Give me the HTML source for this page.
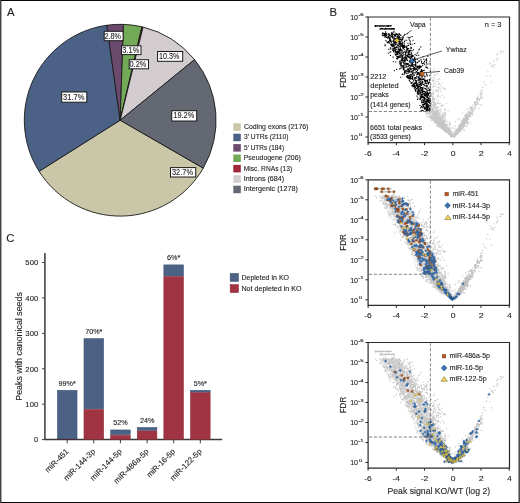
<!DOCTYPE html>
<html><head><meta charset="utf-8"><style>
html,body{margin:0;padding:0;background:#fff;}
svg{display:block;will-change:transform;}
text{font-family:"Liberation Sans",sans-serif;stroke:#231f20;stroke-width:0.12px;}
</style></head><body>
<svg width="520" height="503" viewBox="0 0 520 503">
<defs><path id="psig" d="M422.7 93.9h1.1M420.5 93.7h1.1M427.1 93.7h1.1M425.8 93.6h1.1M426.6 93.4h1.1M421.7 93.4h1.1M429.0 93.2h1.1M427.2 93.1h1.1M427.9 92.9h1.1M428.6 92.9h1.1M426.8 92.8h1.1M427.1 92.7h1.1M427.7 92.5h1.1M426.8 92.5h1.1M428.0 92.4h1.1M429.5 92.4h1.1M426.2 92.3h1.1M425.5 92.2h1.1M427.4 92.2h1.1M424.3 92.1h1.1M424.7 91.7h1.1M423.9 91.7h1.1M425.1 91.6h1.1M428.9 91.5h1.1M425.6 91.5h1.1M423.8 91.4h1.1M426.9 91.3h1.1M426.9 91.1h1.1M429.0 91.0h1.1M420.1 90.9h1.1M427.1 90.9h1.1M420.1 90.8h1.1M426.3 90.6h1.1M422.2 90.6h1.1M424.4 90.5h1.1M427.7 90.4h1.1M424.8 90.2h1.1M423.4 89.9h1.1M425.9 89.9h1.1M420.9 89.9h1.1M427.9 89.7h1.1M426.7 89.7h1.1M425.7 89.6h1.1M426.2 89.6h1.1M422.5 89.4h1.1M429.3 89.3h1.1M426.7 89.3h1.1M425.9 89.2h1.1M427.3 89.1h1.1M427.6 89.0h1.1M426.6 88.9h1.1M427.6 88.8h1.1M429.2 88.5h1.1M419.4 88.5h1.1M425.7 88.4h1.1M425.6 88.3h1.1M429.8 88.2h1.1M422.5 88.2h1.1M422.4 87.9h1.1M423.2 87.9h1.1M424.1 87.8h1.1M427.8 87.7h1.1M426.1 87.7h1.1M422.1 87.5h1.1M422.4 87.3h1.1M425.9 87.3h1.1M426.3 87.1h1.1M425.0 87.0h1.1M426.9 86.9h1.1M423.7 86.9h1.1M427.0 86.8h1.1M429.6 86.6h1.1M424.5 86.6h1.1M429.5 86.5h1.1M429.5 86.3h1.1M425.3 86.3h1.1M425.7 86.1h1.1M421.1 85.8h1.1M428.8 85.7h1.1M421.7 85.7h1.1M428.8 85.6h1.1M427.6 85.5h1.1M423.5 85.4h1.1M425.5 85.4h1.1M422.9 85.3h1.1M421.9 85.2h1.1M425.0 85.1h1.1M422.5 85.1h1.1M422.9 85.0h1.1M427.5 84.9h1.1M426.3 84.8h1.1M425.1 84.7h1.1M423.7 84.7h1.1M425.1 84.6h1.1M425.3 84.5h1.1M429.7 84.4h1.1M425.6 84.3h1.1M428.8 84.3h1.1M425.3 84.2h1.1M420.9 84.1h1.1M429.2 84.0h1.1M427.9 83.9h1.1M429.5 83.9h1.1M429.4 83.8h1.1M420.8 83.8h1.1M423.7 83.7h1.1M422.6 83.6h1.1M426.1 83.6h1.1M427.0 83.6h1.1M426.3 83.4h1.1M428.5 83.3h1.1M427.5 83.3h1.1M429.2 83.1h1.1M423.5 83.1h1.1M424.3 83.0h1.1M423.2 83.0h1.1M429.4 82.9h1.1M422.2 82.9h1.1M426.3 82.8h1.1M426.9 82.6h1.1M426.9 82.6h1.1M417.0 82.5h1.1M420.1 82.4h1.1M419.4 82.3h1.1M427.7 82.3h1.1M427.5 82.2h1.1M419.2 82.1h1.1M424.3 82.0h1.1M425.0 82.0h1.1M425.4 81.9h1.1M424.3 81.8h1.1M423.9 81.8h1.1M420.3 81.6h1.1M420.3 81.5h1.1M429.5 81.5h1.1M423.5 81.4h1.1M428.3 81.3h1.1M424.0 81.2h1.1M427.7 81.2h1.1M417.4 81.1h1.1M428.4 80.9h1.1M422.7 80.8h1.1M419.7 80.7h1.1M421.6 80.7h1.1M427.2 80.6h1.1M424.0 80.5h1.1M421.1 80.4h1.1M422.1 80.4h1.1M423.5 80.3h1.1M426.1 80.2h1.1M426.9 80.1h1.1M420.4 80.0h1.1M421.2 80.0h1.1M423.1 79.9h1.1M421.6 79.9h1.1M427.1 79.8h1.1M423.0 79.7h1.1M425.5 79.7h1.1M420.2 79.6h1.1M429.3 79.5h1.1M421.5 79.4h1.1M421.1 79.3h1.1M421.8 79.3h1.1M429.4 79.1h1.1M416.5 79.1h1.1M419.6 79.0h1.1M419.6 79.0h1.1M426.2 78.9h1.1M424.4 78.8h1.1M424.8 78.7h1.1M426.9 78.6h1.1M427.1 78.5h1.1M419.6 78.5h1.1M421.2 78.4h1.1M425.0 78.3h1.1M419.6 78.2h1.1M421.6 78.1h1.1M427.9 78.1h1.1M427.5 78.0h1.1M425.6 78.0h1.1M421.6 77.8h1.1M424.9 77.7h1.1M423.9 77.7h1.1M427.9 77.7h1.1M421.4 77.5h1.1M421.5 77.5h1.1M420.9 77.4h1.1M426.0 77.4h1.1M418.3 77.3h1.1M417.6 77.3h1.1M422.5 77.2h1.1M426.8 77.1h1.1M423.1 77.0h1.1M420.3 77.0h1.1M417.2 76.9h1.1M428.0 76.8h1.1M424.5 76.7h1.1M418.8 76.7h1.1M418.2 76.6h1.1M428.3 76.6h1.1M424.6 76.5h1.1M424.2 76.4h1.1M416.8 76.4h1.1M428.8 76.3h1.1M424.8 76.2h1.1M422.5 76.2h1.1M426.1 76.1h1.1M420.2 75.9h1.1M416.9 75.9h1.1M417.7 75.9h1.1M427.0 75.8h1.1M421.9 75.8h1.1M419.9 75.7h1.1M425.0 75.5h1.1M429.6 75.5h1.1M421.6 75.4h1.1M420.1 75.4h1.1M420.1 75.4h1.1M424.9 75.3h1.1M429.3 75.2h1.1M427.2 75.2h1.1M424.7 75.0h1.1M418.6 75.0h1.1M417.1 75.0h1.1M418.9 74.9h1.1M419.3 74.8h1.1M422.1 74.8h1.1M426.5 74.7h1.1M424.3 74.6h1.1M423.0 74.6h1.1M422.2 74.5h1.1M415.3 74.4h1.1M421.7 74.3h1.1M418.1 74.3h1.1M424.0 74.2h1.1M415.2 74.1h1.1M422.7 74.1h1.1M417.1 74.0h1.1M426.3 74.0h1.1M418.4 73.9h1.1M419.6 73.9h1.1M420.7 73.8h1.1M417.9 73.6h1.1M428.9 73.6h1.1M414.7 73.5h1.1M429.5 73.4h1.1M428.3 73.4h1.1M426.6 73.3h1.1M429.6 73.3h1.1M418.3 73.1h1.1M415.3 73.1h1.1M421.1 73.1h1.1M422.1 73.0h1.1M421.4 72.8h1.1M428.9 72.7h1.1M417.5 72.6h1.1M414.9 72.6h1.1M428.9 72.5h1.1M418.5 72.4h1.1M422.3 72.4h1.1M417.7 72.3h1.1M426.3 72.3h1.1M418.3 72.1h1.1M420.3 72.1h1.1M425.2 72.0h1.1M418.8 71.9h1.1M415.7 71.8h1.1M413.8 71.7h1.1M417.3 71.7h1.1M424.9 71.6h1.1M422.4 71.6h1.1M416.1 71.5h1.1M416.4 71.5h1.1M421.7 71.4h1.1M424.3 71.4h1.1M421.5 71.2h1.1M427.6 71.2h1.1M421.8 71.1h1.1M428.1 71.1h1.1M420.0 71.0h1.1M421.8 70.8h1.1M419.9 70.8h1.1M414.8 70.7h1.1M414.9 70.6h1.1M420.9 70.5h1.1M416.8 70.5h1.1M418.2 70.4h1.1M414.1 70.2h1.1M422.6 70.2h1.1M419.9 70.1h1.1M413.9 70.0h1.1M426.1 70.0h1.1M429.7 70.0h1.1M412.4 69.8h1.1M417.9 69.8h1.1M413.3 69.7h1.1M416.6 69.6h1.1M414.4 69.5h1.1M419.3 69.5h1.1M413.4 69.4h1.1M418.3 69.3h1.1M417.7 69.2h1.1M426.5 69.1h1.1M426.9 69.1h1.1M416.8 69.1h1.1M416.4 69.0h1.1M425.7 69.0h1.1M415.2 68.9h1.1M425.4 68.8h1.1M411.2 68.7h1.1M426.1 68.7h1.1M425.4 68.6h1.1M412.3 68.6h1.1M423.8 68.6h1.1M421.0 68.5h1.1M413.9 68.4h1.1M417.7 68.4h1.1M415.9 68.3h1.1M419.4 68.3h1.1M416.2 68.2h1.1M420.0 68.1h1.1M417.3 68.0h1.1M412.7 68.0h1.1M413.5 67.9h1.1M412.6 67.9h1.1M423.6 67.7h1.1M419.5 67.6h1.1M416.2 67.6h1.1M422.7 67.5h1.1M418.6 67.5h1.1M427.8 67.3h1.1M421.2 67.3h1.1M422.5 67.3h1.1M420.7 67.2h1.1M412.3 67.1h1.1M413.2 66.9h1.1M416.6 66.9h1.1M415.5 66.9h1.1M426.2 66.8h1.1M425.5 66.7h1.1M414.0 66.7h1.1M419.9 66.6h1.1M414.0 66.5h1.1M421.5 66.4h1.1M420.2 66.4h1.1M425.8 66.3h1.1M414.6 66.3h1.1M410.9 66.2h1.1M424.4 66.1h1.1M427.6 66.1h1.1M410.3 66.0h1.1M418.5 65.9h1.1M428.1 65.9h1.1M420.5 65.8h1.1M417.7 65.8h1.1M415.2 65.7h1.1M415.7 65.6h1.1M411.4 65.6h1.1M429.1 65.5h1.1M411.0 65.5h1.1M421.6 65.4h1.1M427.7 65.3h1.1M414.5 65.3h1.1M415.9 65.2h1.1M422.3 65.1h1.1M429.0 65.0h1.1M419.3 65.0h1.1M421.9 64.9h1.1M424.9 64.9h1.1M412.6 64.8h1.1M415.6 64.7h1.1M426.5 64.6h1.1M426.7 64.6h1.1M409.5 64.5h1.1M422.0 64.5h1.1M424.6 64.5h1.1M421.8 64.4h1.1M419.9 64.3h1.1M416.0 64.3h1.1M424.6 64.2h1.1M424.5 64.1h1.1M426.8 64.0h1.1M415.7 64.0h1.1M425.2 63.8h1.1M426.3 63.8h1.1M415.7 63.7h1.1M416.2 63.7h1.1M418.5 63.6h1.1M423.9 63.6h1.1M425.5 63.5h1.1M424.4 63.5h1.1M408.8 63.4h1.1M414.7 63.4h1.1M429.0 63.3h1.1M413.0 63.2h1.1M425.1 63.2h1.1M418.3 63.1h1.1M417.3 63.0h1.1M427.1 63.0h1.1M420.9 62.9h1.1M428.8 62.8h1.1M419.8 62.6h1.1M419.2 62.6h1.1M421.8 62.5h1.1M429.3 62.5h1.1M423.1 62.4h1.1M412.2 62.4h1.1M422.2 62.3h1.1M423.4 62.2h1.1M423.4 62.2h1.1M424.1 62.1h1.1M414.3 62.1h1.1M418.5 62.0h1.1M422.7 61.9h1.1M409.9 61.9h1.1M420.3 61.9h1.1M408.6 61.8h1.1M412.1 61.8h1.1M411.3 61.7h1.1M410.6 61.6h1.1M409.1 61.6h1.1M415.5 61.5h1.1M409.6 61.4h1.1M419.8 61.3h1.1M417.8 61.3h1.1M419.5 61.2h1.1M407.7 61.1h1.1M418.5 61.0h1.1M408.1 61.0h1.1M410.1 61.0h1.1M414.1 60.9h1.1M413.8 60.8h1.1M409.5 60.7h1.1M421.2 60.7h1.1M412.1 60.6h1.1M406.7 60.6h1.1M414.8 60.5h1.1M409.8 60.4h1.1M411.9 60.4h1.1M408.4 60.3h1.1M400.2 60.2h1.1M407.9 60.2h1.1M416.3 60.1h1.1M417.8 60.0h1.1M424.3 60.0h1.1M421.7 59.9h1.1M418.5 59.9h1.1M416.1 59.8h1.1M418.0 59.7h1.1M407.3 59.7h1.1M406.0 59.7h1.1M410.6 59.6h1.1M424.5 59.5h1.1M412.1 59.5h1.1M406.5 59.4h1.1M406.9 59.4h1.1M424.4 59.3h1.1M416.2 59.2h1.1M406.6 59.2h1.1M408.2 59.1h1.1M421.2 59.1h1.1M409.5 59.1h1.1M426.5 59.0h1.1M411.5 58.9h1.1M411.5 58.9h1.1M423.2 58.8h1.1M429.2 58.8h1.1M408.2 58.7h1.1M406.9 58.6h1.1M419.2 58.6h1.1M420.0 58.5h1.1M408.8 58.5h1.1M413.7 58.4h1.1M422.6 58.3h1.1M409.6 58.2h1.1M413.1 58.1h1.1M409.4 58.1h1.1M426.6 58.0h1.1M421.9 57.9h1.1M421.4 57.9h1.1M416.4 57.8h1.1M411.2 57.8h1.1M413.3 57.8h1.1M418.7 57.7h1.1M411.5 57.6h1.1M419.3 57.6h1.1M401.8 57.5h1.1M410.0 57.5h1.1M403.5 57.4h1.1M426.1 57.3h1.1M417.5 57.3h1.1M416.7 57.3h1.1M421.9 57.2h1.1M419.9 57.1h1.1M411.6 57.1h1.1M402.0 57.0h1.1M422.0 56.8h1.1M420.0 56.8h1.1M420.6 56.7h1.1M416.6 56.7h1.1M405.7 56.6h1.1M418.2 56.5h1.1M421.4 56.5h1.1M407.4 56.5h1.1M412.1 56.4h1.1M418.9 56.3h1.1M422.5 56.3h1.1M420.3 56.2h1.1M421.7 56.2h1.1M421.5 56.1h1.1M412.4 56.1h1.1M414.4 56.0h1.1M417.1 55.9h1.1M404.0 55.9h1.1M415.2 55.8h1.1M413.2 55.8h1.1M424.3 55.7h1.1M426.0 55.7h1.1M421.5 55.6h1.1M418.2 55.5h1.1M404.7 55.5h1.1M416.8 55.5h1.1M421.6 55.4h1.1M408.6 55.3h1.1M410.5 55.3h1.1M403.8 55.2h1.1M408.3 55.1h1.1M410.5 55.1h1.1M411.7 55.0h1.1M406.3 55.0h1.1M420.4 54.9h1.1M409.1 54.9h1.1M419.8 54.8h1.1M416.3 54.7h1.1M407.7 54.7h1.1M404.4 54.6h1.1M409.2 54.6h1.1M407.3 54.6h1.1M415.7 54.5h1.1M429.7 54.4h1.1M405.2 54.3h1.1M419.9 54.3h1.1M409.4 54.3h1.1M421.0 54.2h1.1M404.1 54.1h1.1M421.8 54.1h1.1M404.9 54.0h1.1M412.6 54.0h1.1M421.9 53.9h1.1M411.3 53.9h1.1M412.9 53.8h1.1M421.0 53.8h1.1M393.9 53.7h1.1M408.4 53.6h1.1M405.7 53.6h1.1M417.1 53.5h1.1M423.1 53.5h1.1M408.7 53.4h1.1M412.7 53.3h1.1M421.5 53.3h1.1M405.3 53.2h1.1M423.7 53.2h1.1M407.8 53.1h1.1M413.3 53.1h1.1M403.3 52.9h1.1M406.8 52.9h1.1M414.9 52.9h1.1M409.9 52.8h1.1M416.6 52.7h1.1M403.4 52.7h1.1M420.8 52.6h1.1M420.9 52.6h1.1M407.8 52.5h1.1M396.0 52.4h1.1M415.6 52.4h1.1M409.4 52.3h1.1M413.9 52.3h1.1M411.1 52.2h1.1M413.6 52.2h1.1M415.7 52.1h1.1M402.6 52.1h1.1M413.4 52.0h1.1M417.5 51.9h1.1M399.1 51.9h1.1M409.6 51.8h1.1M418.8 51.8h1.1M407.3 51.7h1.1M407.8 51.7h1.1M403.4 51.6h1.1M410.5 51.5h1.1M412.2 51.5h1.1M415.4 51.5h1.1M415.6 51.4h1.1M414.4 51.4h1.1M403.0 51.3h1.1M400.0 51.2h1.1M427.1 51.1h1.1M418.2 51.0h1.1M403.2 51.0h1.1M408.8 50.9h1.1M413.4 50.9h1.1M417.6 50.8h1.1M403.0 50.8h1.1M417.8 50.7h1.1M401.3 50.6h1.1M403.4 50.6h1.1M419.7 50.6h1.1M416.5 50.5h1.1M419.4 50.4h1.1M426.3 50.4h1.1M417.1 50.3h1.1M414.1 50.3h1.1M404.7 50.2h1.1M406.3 50.2h1.1M425.3 50.1h1.1M409.9 50.0h1.1M418.9 50.0h1.1M416.9 49.9h1.1M413.1 49.9h1.1M417.0 49.8h1.1M403.2 49.8h1.1M420.6 49.7h1.1M402.1 49.7h1.1M420.8 49.6h1.1M421.0 49.6h1.1M407.5 49.5h1.1M412.2 49.4h1.1M417.7 49.4h1.1M416.5 49.3h1.1M400.5 49.2h1.1M405.6 49.2h1.1M410.8 49.1h1.1M415.1 49.1h1.1M419.7 49.1h1.1M416.3 49.0h1.1M418.8 48.9h1.1M401.0 48.9h1.1M403.4 48.8h1.1M409.7 48.8h1.1M408.0 48.7h1.1M401.6 48.6h1.1M408.5 48.6h1.1M414.7 48.5h1.1M400.4 48.5h1.1M422.1 48.4h1.1M405.3 48.3h1.1M400.7 48.3h1.1M403.0 48.2h1.1M412.4 48.2h1.1M400.2 48.1h1.1M405.3 48.1h1.1M410.9 48.0h1.1M425.7 48.0h1.1M414.4 47.9h1.1M411.5 47.9h1.1M406.7 47.8h1.1M409.3 47.7h1.1M413.4 47.7h1.1M415.1 47.6h1.1M407.5 47.5h1.1M414.9 47.5h1.1M412.0 47.4h1.1M400.2 47.4h1.1M411.3 47.3h1.1M415.2 47.3h1.1M403.8 47.2h1.1M400.5 47.1h1.1M423.9 47.1h1.1M427.4 47.0h1.1M405.5 47.0h1.1M412.0 46.9h1.1M399.3 46.9h1.1M429.5 46.8h1.1M407.1 46.8h1.1M407.9 46.7h1.1M400.6 46.7h1.1M406.5 46.6h1.1M405.3 46.6h1.1M422.1 46.5h1.1M403.5 46.4h1.1M411.9 46.4h1.1M403.3 46.3h1.1M406.7 46.3h1.1M415.3 46.2h1.1M411.4 46.2h1.1M423.0 46.1h1.1M404.7 46.0h1.1M426.0 46.0h1.1M410.2 46.0h1.1M421.0 45.9h1.1M411.7 45.8h1.1M399.8 45.8h1.1M399.9 45.7h1.1M401.0 45.7h1.1M417.1 45.6h1.1M409.3 45.5h1.1M416.7 45.5h1.1M411.2 45.4h1.1M425.8 45.4h1.1M399.1 45.3h1.1M412.4 45.3h1.1M414.9 45.2h1.1M409.3 45.2h1.1M402.4 45.1h1.1M395.1 45.0h1.1M412.9 45.0h1.1M403.3 44.9h1.1M412.0 44.9h1.1M429.4 44.8h1.1M399.3 44.8h1.1M399.4 44.7h1.1M392.8 44.7h1.1M424.0 44.6h1.1M421.1 44.5h1.1M409.1 44.5h1.1M399.3 44.4h1.1M404.5 44.4h1.1M417.8 44.3h1.1M408.9 44.3h1.1M415.0 44.2h1.1M409.2 44.1h1.1M418.8 44.1h1.1M410.4 44.0h1.1M399.5 44.0h1.1M414.4 43.9h1.1M400.8 43.9h1.1M426.2 43.8h1.1M413.4 43.8h1.1M403.8 43.7h1.1M409.5 43.6h1.1M401.8 43.6h1.1M412.5 43.5h1.1M407.1 43.5h1.1M403.4 43.4h1.1M405.1 43.3h1.1M424.6 43.3h1.1M412.9 43.2h1.1M402.7 43.2h1.1M400.6 43.1h1.1M403.9 43.1h1.1M413.3 43.0h1.1M406.3 42.9h1.1M420.6 42.9h1.1M420.3 42.9h1.1M409.9 42.8h1.1M411.0 42.7h1.1M425.9 42.6h1.1M401.6 42.6h1.1M416.6 42.5h1.1M404.4 42.5h1.1M414.9 42.4h1.1M414.6 42.4h1.1M406.4 42.4h1.1M413.2 42.3h1.1M423.2 42.2h1.1M414.2 42.1h1.1M411.5 42.1h1.1M412.1 42.1h1.1M396.8 42.0h1.1M404.7 41.9h1.1M414.3 41.9h1.1M396.1 41.8h1.1M406.0 41.8h1.1M425.9 41.7h1.1M396.7 41.7h1.1M402.7 41.6h1.1M402.0 41.6h1.1M405.6 41.5h1.1M409.9 41.4h1.1M414.0 41.4h1.1M401.1 41.3h1.1M404.4 41.3h1.1M402.4 41.2h1.1M406.2 41.1h1.1M406.2 41.1h1.1M396.4 41.0h1.1M414.0 41.0h1.1M397.4 40.9h1.1M409.0 40.9h1.1M403.5 40.8h1.1M406.0 40.8h1.1M400.5 40.7h1.1M398.6 40.6h1.1M397.3 40.6h1.1M410.8 40.5h1.1M408.2 40.5h1.1M403.8 40.4h1.1M405.3 40.4h1.1M398.4 40.3h1.1M414.2 40.3h1.1M410.9 40.2h1.1M402.0 40.2h1.1M392.6 40.1h1.1M408.5 40.0h1.1M411.1 40.0h1.1M399.4 39.9h1.1M407.1 39.8h1.1M412.0 39.8h1.1M410.2 39.8h1.1M422.5 39.7h1.1M398.3 39.6h1.1M401.6 39.6h1.1M398.1 39.5h1.1M396.3 39.5h1.1M397.2 39.4h1.1M406.5 39.4h1.1M408.0 39.3h1.1M404.8 39.2h1.1M400.3 39.2h1.1M409.5 39.1h1.1M427.3 39.1h1.1M411.0 39.0h1.1M413.0 39.0h1.1M411.4 38.9h1.1M402.2 38.9h1.1M412.4 38.8h1.1M406.8 38.7h1.1M407.1 38.7h1.1M407.1 38.6h1.1M402.3 38.6h1.1M416.1 38.5h1.1M389.9 38.5h1.1M411.8 38.4h1.1M405.6 38.4h1.1M418.1 38.3h1.1M398.7 38.2h1.1M400.1 38.2h1.1M400.5 38.1h1.1M395.5 38.1h1.1M395.0 38.0h1.1M401.3 37.9h1.1M405.1 37.9h1.1M408.6 37.8h1.1M410.8 37.8h1.1M410.3 37.8h1.1M414.6 37.6h1.1M403.3 37.6h1.1M407.5 37.6h1.1M409.2 37.5h1.1M396.8 37.4h1.1M407.5 37.4h1.1M395.0 37.4h1.1M400.4 37.3h1.1M396.1 37.2h1.1M394.6 37.1h1.1M394.7 37.1h1.1M407.6 37.1h1.1M405.0 37.0h1.1M397.5 36.9h1.1M397.5 36.9h1.1M416.5 36.8h1.1M405.1 36.8h1.1M408.8 36.7h1.1M408.4 36.7h1.1M399.0 36.6h1.1M397.1 36.6h1.1M411.2 36.5h1.1M396.9 36.4h1.1M398.9 36.4h1.1M396.4 36.3h1.1M399.5 36.3h1.1M399.4 36.2h1.1M387.8 36.2h1.1M407.6 36.1h1.1M401.8 36.1h1.1M402.4 36.0h1.1M399.4 35.9h1.1M410.7 35.9h1.1M398.7 35.8h1.1M395.7 35.8h1.1M400.8 35.7h1.1M403.1 35.6h1.1M405.5 35.6h1.1M398.2 35.6h1.1M404.6 35.5h1.1M408.2 35.4h1.1M403.0 35.4h1.1M397.1 35.3h1.1M417.3 35.2h1.1M408.4 35.2h1.1M389.4 35.2h1.1M394.8 35.1h1.1M409.3 35.0h1.1M395.9 34.9h1.1M406.4 34.9h1.1M393.2 34.9h1.1M396.5 34.8h1.1M394.9 34.7h1.1M390.1 34.7h1.1M396.6 34.6h1.1M404.4 34.6h1.1M409.0 34.6h1.1M397.2 34.5h1.1M398.3 34.4h1.1M399.4 34.3h1.1M401.7 34.3h1.1M399.1 34.3h1.1M405.8 34.2h1.1M407.8 34.1h1.1M397.2 34.1h1.1M408.7 34.0h1.1M401.1 34.0h1.1M394.6 33.9h1.1M408.7 33.8h1.1M410.7 33.8h1.1M411.6 33.8h1.1M393.0 33.7h1.1M399.8 33.6h1.1M409.0 33.6h1.1M392.8 33.5h1.1M405.6 33.5h1.1M393.4 33.4h1.1M409.5 33.4h1.1M395.0 33.3h1.1M398.9 33.2h1.1M409.7 33.2h1.1M401.6 33.1h1.1M392.1 33.1h1.1M407.1 33.0h1.1M418.5 33.0h1.1M399.2 32.9h1.1M396.3 32.8h1.1M400.6 32.8h1.1M413.0 32.7h1.1M406.1 32.7h1.1M403.7 32.6h1.1M398.1 32.6h1.1M393.2 32.5h1.1M388.3 32.4h1.1M400.1 32.4h1.1M398.9 32.4h1.1M395.7 32.3h1.1M407.2 32.2h1.1M406.6 32.2h1.1M406.7 32.1h1.1M390.3 32.0h1.1M418.7 32.0h1.1M399.9 31.9h1.1M393.8 31.9h1.1M394.8 31.8h1.1M394.4 31.8h1.1M408.2 31.7h1.1M392.2 31.7h1.1M399.8 31.6h1.1M410.4 31.5h1.1M407.4 31.5h1.1M407.2 31.5h1.1M403.1 31.4h1.1M410.6 31.3h1.1M394.0 31.2h1.1M393.2 31.2h1.1M397.9 31.1h1.1M406.1 31.1h1.1M394.0 31.0h1.1M411.0 31.0h1.1M390.1 30.9h1.1M402.1 30.9h1.1M394.3 30.8h1.1M410.7 30.8h1.1M397.0 30.7h1.1M394.5 30.7h1.1M394.6 30.6h1.1M396.0 30.5h1.1M406.2 30.5h1.1M403.9 30.4h1.1M410.3 30.3h1.1M399.9 30.3h1.1M405.9 30.2h1.1M403.2 30.2h1.1M395.4 30.2h1.1M405.4 30.1h1.1M402.1 30.0h1.1M396.0 30.0h1.1M420.3 29.9h1.1M399.2 29.9h1.1M406.3 29.8h1.1M393.4 29.8h1.1M392.0 29.7h1.1M402.7 29.6h1.1M399.2 29.6h1.1M391.7 29.5h1.1M396.4 29.5h1.1M393.5 29.4h1.1M401.0 29.4h1.1M393.2 29.3h1.1M403.8 29.2h1.1M401.9 29.2h1.1M404.4 29.1h1.1M393.1 29.1h1.1M400.8 29.0h1.1M398.0 28.9h1.1M402.4 28.9h1.1M391.1 28.8h1.1M406.6 28.8h1.1M400.6 28.7h1.1M399.5 28.7h1.1M402.8 28.6h1.1M384.6 28.6h1.1M392.4 28.5h1.1M397.2 28.5h1.1M408.0 28.4h1.1M402.0 28.3h1.1M393.5 28.3h1.1M390.5 28.2h1.1M402.2 28.2h1.1M391.8 28.1h1.1M403.7 28.1h1.1M394.7 28.0h1.1M400.6 27.9h1.1M384.5 27.9h1.1M397.0 27.9h1.1M397.6 27.8h1.1M391.3 27.7h1.1M400.8 27.7h1.1M393.2 27.6h1.1M402.1 27.6h1.1M394.9 27.5h1.1M409.9 27.4h1.1M399.2 27.4h1.1M395.6 27.3h1.1M399.8 27.3h1.1M411.6 27.2h1.1M392.7 27.1h1.1M390.3 27.1h1.1M391.5 27.0h1.1M395.6 27.0h1.1M401.7 26.9h1.1M399.6 26.9h1.1M393.8 26.8h1.1M399.1 26.8h1.1M409.5 26.7h1.1M399.2 26.7h1.1M398.8 26.6h1.1M414.1 26.5h1.1M395.4 26.5h1.1M399.4 26.5h1.1M400.6 26.4h1.1M398.2 26.3h1.1M403.7 26.3h1.1M407.4 26.2h1.1M400.1 26.2h1.1M388.6 26.1h1.1M399.8 26.0h1.1M394.5 26.0h1.1M388.8 25.9h1.1M395.1 25.8h1.1M396.0 25.8h1.1M402.2 25.8h1.1M394.3 25.7h1.1M396.2 25.7h1.1M386.9 25.6h1.1M393.6 25.5h1.1M394.4 25.5h1.1M390.7 25.4h1.1M399.6 25.4h1.1M398.7 25.3h1.1M387.7 25.2h1.1M393.1 25.2h1.1M393.9 25.1h1.1M393.0 25.1h1.1M401.7 25.0h1.1M409.6 25.0h1.1M394.8 24.9h1.1M409.7 24.9h1.1M398.8 24.8h1.1M386.3 24.8h1.1M395.5 24.7h1.1M403.9 24.6h1.1M387.9 24.6h1.1M389.8 24.5h1.1M396.9 24.4h1.1M396.1 24.4h1.1M399.8 24.3h1.1M392.8 24.3h1.1M398.0 24.2h1.1M396.1 24.2h1.1M391.4 24.1h1.1M400.6 24.0h1.1M399.0 24.0h1.1M395.1 24.0h1.1M388.9 23.9h1.1M389.5 23.8h1.1M397.5 23.8h1.1M389.9 23.7h1.1M388.9 23.7h1.1M393.3 23.6h1.1M390.1 23.6h1.1M409.3 23.5h1.1M385.3 23.5h1.1M398.0 23.4h1.1M404.5 23.3h1.1M406.1 23.3h1.1M412.5 23.2h1.1M401.4 23.2h1.1M393.3 23.1h1.1M390.1 23.1h1.1M398.3 23.0h1.1M393.8 23.0h1.1M389.2 22.9h1.1M390.0 22.8h1.1M395.2 22.8h1.1M401.0 22.7h1.1M402.1 22.6h1.1M389.7 22.6h1.1M398.0 22.6h1.1M399.2 22.5h1.1M400.2 22.4h1.1M395.8 22.4h1.1M396.1 22.3h1.1M400.6 22.3h1.1M397.6 22.2h1.1M393.3 22.1h1.1M408.6 22.1h1.1M401.9 22.1h1.1M401.9 22.0h1.1M389.3 21.9h1.1M397.5 21.9h1.1M397.0 21.8h1.1M395.8 21.7h1.1M393.7 21.7h1.1M388.8 21.7h1.1M395.2 21.6h1.1M389.2 21.5h1.1M395.5 21.5h1.1M397.7 21.4h1.1M397.3 21.4h1.1M399.4 21.3h1.1M387.4 21.3h1.1M397.2 21.2h1.1M392.3 21.1h1.1M389.5 21.1h1.1M393.8 21.0h1.1M387.0 21.0h1.1M402.9 20.9h1.1M398.3 20.9h1.1M393.6 20.8h1.1M389.3 20.7h1.1M401.9 20.7h1.1M408.6 20.6h1.1M389.0 20.6h1.1M399.1 20.5h1.1M386.0 20.5h1.1M392.1 20.4h1.1M384.4 20.3h1.1M407.4 20.3h1.1M410.1 20.3h1.1M397.3 20.2h1.1M388.0 20.1h1.1M387.5 20.1h1.1M395.7 20.0h1.1M398.5 19.9h1.1M392.1 19.9h1.1M390.3 19.9h1.1M396.9 19.8h1.1M387.5 19.7h1.1M398.4 19.7h1.1M385.4 19.6h1.1M391.1 19.6h1.1M398.8 19.5h1.1M411.6 19.5h1.1M388.4 19.4h1.1M387.8 19.4h1.1M394.3 19.3h1.1M394.4 19.2h1.1M392.4 19.2h1.1M385.5 19.1h1.1M393.8 19.0h1.1M385.4 19.0h1.1M396.9 18.9h1.1M384.6 18.9h1.1M384.0 18.9h1.1M391.7 18.8h1.1M384.4 18.7h1.1M403.4 18.7h1.1M382.4 18.6h1.1M398.1 18.6h1.1M394.0 18.5h1.1M386.0 18.5h1.1M400.3 18.4h1.1M388.5 18.3h1.1M389.3 18.3h1.1M381.9 18.2h1.1M395.0 18.2h1.1M384.3 18.1h1.1M384.4 18.1h1.1M395.1 18.0h1.1M383.5 17.9h1.1M390.7 17.9h1.1M399.3 17.8h1.1M391.4 17.7h1.1M391.6 17.7h1.1M388.5 17.6h1.1M385.2 17.6h1.1M393.1 17.5h1.1M395.2 17.5h1.1M396.8 17.4h1.1M391.3 17.4h1.1M404.1 17.3h1.1M384.7 17.2h1.1M390.8 17.2h1.1M387.5 17.2h1.1M398.1 17.1h1.1M391.5 17.1h1.1M395.6 17.0h1.1M381.8 16.9h1.1M384.1 16.9h1.1M407.1 16.8h1.1M396.3 16.7h1.1M390.9 16.7h1.1M399.0 16.7h1.1M388.4 16.6h1.1M391.9 16.5h1.1M383.8 16.5h1.1M383.0 16.4h1.1M385.3 16.4h1.1M385.1 16.3h1.1M385.6 16.3h1.1M391.7 16.2h1.1M391.3 16.1h1.1M382.2 16.1h1.1M394.5 16.0h1.1M426.5 87.6h1.1M421.0 89.2h1.1M427.1 76.1h1.1M424.2 91.8h1.1M423.7 78.6h1.1M427.7 90.2h1.1M423.0 89.2h1.1M390.4 8.9h1.1M379.0 8.8h1.1M375.7 8.7h1.1M379.4 9.1h1.1M386.7 9.2h1.1M388.8 8.8h1.1M382.4 8.7h1.1M375.0 8.8h1.1M378.6 9.0h1.1M387.9 9.3h1.1M389.8 9.1h1.1M380.2 8.7h1.1M388.4 8.7h1.1M387.1 9.0h1.1M381.8 8.7h1.1M381.3 9.0h1.1M386.9 9.1h1.1M376.6 8.9h1.1M377.3 9.1h1.1M377.4 8.7h1.1M379.0 9.1h1.1M387.8 8.9h1.1M387.4 8.6h1.1M377.4 8.9h1.1M374.9 9.1h1.1M390.2 8.7h1.1M388.5 8.8h1.1M375.0 8.6h1.1M378.6 8.9h1.1M380.6 8.8h1.1M374.5 8.9h1.1M379.1 8.8h1.1M385.8 8.9h1.1M384.8 9.0h1.1M383.5 9.2h1.1M375.0 9.1h1.1M383.6 9.0h1.1M382.8 8.8h1.1M384.3 8.8h1.1M387.6 9.0h1.1M374.6 8.7h1.1M390.2 8.5h1.1M387.3 9.0h1.1M381.3 8.8h1.1M380.0 8.8h1.1M381.0 8.8h1.1M383.0 8.9h1.1M387.6 9.5h1.1M381.9 8.7h1.1M374.6 9.4h1.1M380.5 9.3h1.1M390.3 8.9h1.1M379.5 8.7h1.1M377.1 8.8h1.1M382.6 9.2h1.1M377.3 9.2h1.1M386.1 8.9h1.1M375.4 9.3h1.1M387.9 8.6h1.1M390.5 8.5h1.1M392.5 11.9h1.1M388.8 12.0h1.1M384.7 11.9h1.1M380.8 11.4h1.1M383.9 12.1h1.1M391.0 12.1h1.1M381.3 11.8h1.1M382.1 12.0h1.1M392.3 11.7h1.1M385.3 11.4h1.1M387.9 11.7h1.1M379.5 12.1h1.1M388.0 11.9h1.1M393.3 12.0h1.1M393.8 12.2h1.1M382.3 11.7h1.1M388.9 11.6h1.1M386.5 11.8h1.1M392.6 11.5h1.1M384.7 12.1h1.1M379.7 11.9h1.1M384.6 12.2h1.1M391.7 11.9h1.1M381.3 11.6h1.1M379.8 11.9h1.1M387.3 12.0h1.1M385.5 11.7h1.1M385.0 11.6h1.1M389.6 11.9h1.1M392.1 11.9h1.1M382.1 11.6h1.1M391.6 11.8h1.1M391.3 11.6h1.1M390.4 12.1h1.1M391.8 11.9h1.1M391.0 12.0h1.1M382.5 12.3h1.1M386.3 12.2h1.1M387.6 11.8h1.1M393.9 11.7h1.1M389.5 12.0h1.1M392.2 12.0h1.1M380.9 11.6h1.1M379.5 12.1h1.1M382.4 11.8h1.1M393.5 12.2h1.1M386.4 12.3h1.1M384.1 11.9h1.1M390.0 11.9h1.1M383.8 12.1h1.1M380.1 12.3h1.1M392.9 11.8h1.1M391.4 12.1h1.1M391.4 11.5h1.1M385.5 11.8h1.1M386.2 17.2h1.1M389.5 18.4h1.1M394.2 17.7h1.1M392.7 15.3h1.1M385.0 14.9h1.1M395.7 17.8h1.1M394.4 18.9h1.1M391.9 16.9h1.1M391.0 15.8h1.1M382.6 18.6h1.1M393.5 14.3h1.1M391.9 17.0h1.1M390.8 19.5h1.1M392.1 16.5h1.1M383.9 18.7h1.1"/><path id="pnon" d="M451.7 120.0h1.1M452.2 119.9h1.1M452.1 119.8h1.1M452.1 119.8h1.1M452.6 119.8h1.1M452.2 119.7h1.1M452.4 119.7h1.1M452.2 119.6h1.1M451.4 119.5h1.1M451.9 119.5h1.1M451.6 119.4h1.1M451.3 119.4h1.1M451.1 119.3h1.1M451.3 119.2h1.1M451.9 119.2h1.1M451.7 119.1h1.1M451.8 119.0h1.1M451.1 119.0h1.1M452.2 119.0h1.1M452.0 118.9h1.1M451.6 118.9h1.1M451.1 118.8h1.1M451.9 118.7h1.1M450.2 118.7h1.1M450.5 118.6h1.1M450.8 118.6h1.1M451.7 118.5h1.1M450.2 118.4h1.1M451.1 118.4h1.1M450.8 118.3h1.1M449.8 118.3h1.1M451.3 118.2h1.1M451.2 118.2h1.1M450.0 118.1h1.1M449.9 118.0h1.1M450.2 118.0h1.1M450.3 118.0h1.1M449.4 117.9h1.1M451.0 117.8h1.1M450.5 117.8h1.1M450.4 117.7h1.1M449.7 117.6h1.1M450.7 117.6h1.1M449.0 117.5h1.1M450.6 117.5h1.1M449.0 117.4h1.1M450.4 117.4h1.1M448.9 117.3h1.1M449.1 117.3h1.1M450.5 117.2h1.1M448.7 117.2h1.1M451.4 117.1h1.1M448.9 117.1h1.1M449.4 117.0h1.1M450.2 116.9h1.1M448.0 116.9h1.1M449.3 116.8h1.1M449.2 116.8h1.1M448.1 116.7h1.1M448.5 116.7h1.1M449.5 116.6h1.1M447.9 116.5h1.1M449.3 116.5h1.1M449.4 116.4h1.1M448.9 116.4h1.1M447.6 116.3h1.1M449.3 116.3h1.1M448.7 116.2h1.1M448.3 116.1h1.1M448.9 116.1h1.1M447.8 116.0h1.1M448.8 116.0h1.1M449.3 115.9h1.1M449.6 115.9h1.1M449.4 115.8h1.1M448.7 115.7h1.1M451.2 115.7h1.1M448.3 115.6h1.1M448.8 115.6h1.1M449.3 115.6h1.1M447.8 115.5h1.1M450.1 115.4h1.1M447.5 115.4h1.1M447.0 115.3h1.1M447.4 115.2h1.1M448.6 115.2h1.1M445.1 115.1h1.1M445.9 115.1h1.1M450.3 115.0h1.1M446.7 115.0h1.1M446.5 114.9h1.1M445.6 114.8h1.1M449.4 114.8h1.1M446.2 114.7h1.1M447.6 114.7h1.1M446.5 114.6h1.1M448.5 114.6h1.1M448.2 114.5h1.1M447.1 114.5h1.1M447.5 114.4h1.1M447.6 114.3h1.1M446.1 114.3h1.1M448.7 114.2h1.1M450.2 114.2h1.1M445.0 114.1h1.1M447.2 114.1h1.1M447.9 114.0h1.1M444.7 113.9h1.1M445.3 113.9h1.1M447.5 113.8h1.1M444.3 113.8h1.1M445.8 113.7h1.1M447.4 113.7h1.1M450.0 113.6h1.1M444.0 113.6h1.1M446.3 113.5h1.1M448.7 113.4h1.1M445.5 113.4h1.1M444.9 113.3h1.1M444.6 113.3h1.1M446.0 113.3h1.1M446.6 113.2h1.1M447.5 113.1h1.1M447.2 113.1h1.1M446.2 113.0h1.1M445.0 113.0h1.1M446.0 112.9h1.1M445.5 112.8h1.1M444.1 112.8h1.1M447.4 112.7h1.1M442.8 112.6h1.1M445.2 112.6h1.1M444.5 112.6h1.1M446.0 112.5h1.1M445.5 112.4h1.1M445.7 112.4h1.1M449.0 112.3h1.1M442.0 112.3h1.1M444.5 112.2h1.1M443.7 112.1h1.1M442.5 112.1h1.1M444.1 112.0h1.1M444.2 112.0h1.1M446.2 111.9h1.1M443.8 111.9h1.1M444.6 111.8h1.1M442.9 111.8h1.1M442.7 111.7h1.1M444.8 111.7h1.1M442.9 111.6h1.1M444.8 111.6h1.1M442.9 111.5h1.1M445.9 111.4h1.1M443.1 111.4h1.1M444.9 111.3h1.1M441.5 111.2h1.1M447.8 111.2h1.1M445.9 111.2h1.1M445.2 111.1h1.1M443.4 111.1h1.1M445.7 111.0h1.1M443.7 110.9h1.1M443.0 110.8h1.1M446.1 110.8h1.1M442.8 110.7h1.1M444.8 110.7h1.1M445.0 110.6h1.1M442.8 110.6h1.1M442.6 110.5h1.1M442.6 110.4h1.1M440.7 110.4h1.1M444.8 110.4h1.1M442.9 110.3h1.1M438.9 110.3h1.1M446.8 110.2h1.1M443.2 110.1h1.1M442.5 110.1h1.1M441.1 110.0h1.1M441.8 110.0h1.1M442.9 109.9h1.1M444.4 109.8h1.1M445.0 109.8h1.1M442.7 109.7h1.1M444.3 109.7h1.1M439.3 109.6h1.1M441.0 109.6h1.1M442.5 109.5h1.1M445.2 109.5h1.1M439.6 109.4h1.1M442.3 109.4h1.1M443.5 109.3h1.1M435.8 109.2h1.1M437.0 109.2h1.1M441.1 109.1h1.1M444.4 109.1h1.1M439.0 109.0h1.1M441.7 109.0h1.1M438.7 108.9h1.1M445.7 108.8h1.1M441.4 108.8h1.1M441.7 108.7h1.1M444.1 108.7h1.1M442.6 108.6h1.1M440.2 108.6h1.1M444.1 108.5h1.1M439.7 108.5h1.1M441.8 108.4h1.1M438.5 108.3h1.1M442.7 108.3h1.1M441.1 108.2h1.1M437.7 108.2h1.1M441.9 108.1h1.1M444.2 108.1h1.1M443.1 108.0h1.1M443.7 107.9h1.1M447.3 107.9h1.1M445.0 107.8h1.1M443.9 107.8h1.1M441.3 107.7h1.1M441.3 107.6h1.1M439.8 107.6h1.1M444.0 107.6h1.1M442.1 107.5h1.1M439.0 107.4h1.1M449.3 107.4h1.1M445.6 107.3h1.1M440.4 107.3h1.1M440.0 107.2h1.1M441.7 107.1h1.1M437.6 107.1h1.1M437.0 107.1h1.1M440.0 107.0h1.1M437.0 106.9h1.1M442.1 106.9h1.1M442.5 106.8h1.1M436.4 106.8h1.1M441.9 106.7h1.1M441.1 106.7h1.1M435.4 106.6h1.1M442.4 106.5h1.1M435.8 106.5h1.1M440.3 106.4h1.1M449.0 106.4h1.1M443.4 106.3h1.1M437.3 106.3h1.1M438.2 106.2h1.1M441.1 106.2h1.1M443.1 106.1h1.1M442.5 106.0h1.1M437.2 106.0h1.1M440.2 105.9h1.1M435.9 105.9h1.1M436.3 105.8h1.1M438.5 105.8h1.1M444.5 105.7h1.1M442.9 105.6h1.1M440.8 105.6h1.1M441.0 105.5h1.1M441.5 105.5h1.1M436.4 105.4h1.1M442.2 105.4h1.1M434.6 105.3h1.1M442.3 105.3h1.1M434.8 105.2h1.1M441.9 105.2h1.1M440.1 105.1h1.1M437.8 105.0h1.1M438.0 105.0h1.1M436.6 104.9h1.1M439.1 104.8h1.1M436.2 104.8h1.1M448.8 104.8h1.1M439.3 104.7h1.1M434.1 104.6h1.1M439.0 104.6h1.1M442.3 104.5h1.1M438.0 104.5h1.1M444.3 104.4h1.1M441.5 104.3h1.1M434.8 104.3h1.1M439.8 104.2h1.1M433.6 104.2h1.1M436.8 104.1h1.1M433.8 104.1h1.1M437.0 104.0h1.1M441.0 104.0h1.1M441.0 103.9h1.1M438.5 103.8h1.1M438.9 103.8h1.1M435.0 103.7h1.1M443.5 103.7h1.1M439.5 103.6h1.1M435.9 103.5h1.1M444.2 103.5h1.1M440.7 103.4h1.1M435.4 103.4h1.1M445.5 103.3h1.1M430.9 103.3h1.1M445.0 103.2h1.1M439.3 103.2h1.1M434.1 103.1h1.1M434.3 103.1h1.1M435.9 103.0h1.1M437.9 102.9h1.1M433.6 102.9h1.1M434.3 102.8h1.1M440.8 102.8h1.1M432.9 102.7h1.1M441.1 102.7h1.1M437.8 102.6h1.1M435.3 102.5h1.1M439.3 102.5h1.1M436.1 102.4h1.1M441.6 102.4h1.1M433.8 102.3h1.1M433.3 102.2h1.1M442.3 102.2h1.1M444.6 102.2h1.1M435.3 102.1h1.1M432.5 102.0h1.1M431.1 102.0h1.1M430.6 101.9h1.1M438.5 101.9h1.1M430.9 101.8h1.1M434.8 101.7h1.1M439.6 101.7h1.1M432.6 101.7h1.1M436.1 101.6h1.1M431.6 101.6h1.1M432.0 101.5h1.1M437.2 101.4h1.1M441.7 101.4h1.1M438.0 101.3h1.1M436.9 101.3h1.1M439.1 101.2h1.1M431.7 101.2h1.1M436.0 101.1h1.1M432.8 101.1h1.1M440.5 101.0h1.1M443.1 100.9h1.1M429.6 100.9h1.1M434.0 100.8h1.1M432.9 100.7h1.1M434.4 100.7h1.1M439.0 100.7h1.1M439.8 100.5h1.1M440.3 100.5h1.1M435.4 100.4h1.1M438.0 100.4h1.1M431.1 100.4h1.1M441.8 100.3h1.1M434.2 100.3h1.1M433.5 100.2h1.1M433.9 100.1h1.1M441.1 100.1h1.1M431.8 100.0h1.1M430.7 99.9h1.1M436.6 99.9h1.1M437.1 99.9h1.1M432.7 99.8h1.1M434.5 99.7h1.1M437.6 99.7h1.1M431.7 99.6h1.1M435.1 99.6h1.1M432.9 99.5h1.1M438.9 99.5h1.1M433.2 99.4h1.1M426.2 99.3h1.1M429.1 99.3h1.1M430.1 99.2h1.1M441.3 99.2h1.1M429.0 99.1h1.1M428.9 99.0h1.1M436.2 99.0h1.1M429.7 99.0h1.1M429.6 98.9h1.1M442.5 98.9h1.1M431.5 98.8h1.1M436.6 98.7h1.1M436.3 98.6h1.1M445.0 98.6h1.1M431.2 98.6h1.1M436.1 98.5h1.1M429.8 98.5h1.1M431.5 98.4h1.1M431.6 98.3h1.1M441.8 98.3h1.1M444.4 98.2h1.1M438.4 98.1h1.1M433.9 98.1h1.1M436.5 98.0h1.1M435.8 98.0h1.1M434.7 97.9h1.1M437.7 97.9h1.1M444.8 97.8h1.1M429.1 97.8h1.1M435.3 97.7h1.1M443.4 97.7h1.1M434.3 97.6h1.1M433.5 97.5h1.1M436.9 97.5h1.1M437.5 97.4h1.1M436.1 97.4h1.1M438.4 97.3h1.1M426.5 97.3h1.1M435.3 97.2h1.1M426.3 97.1h1.1M426.9 97.1h1.1M435.9 97.0h1.1M438.4 97.0h1.1M432.5 96.9h1.1M426.3 96.9h1.1M432.3 96.8h1.1M441.8 96.8h1.1M439.1 96.7h1.1M434.7 96.6h1.1M437.6 96.6h1.1M445.4 96.5h1.1M433.8 96.5h1.1M436.7 96.4h1.1M427.4 96.4h1.1M429.1 96.3h1.1M427.0 96.3h1.1M432.4 96.2h1.1M435.7 96.2h1.1M437.2 96.1h1.1M443.1 96.0h1.1M430.4 96.0h1.1M436.8 95.9h1.1M431.6 95.9h1.1M434.0 95.8h1.1M433.2 95.8h1.1M434.9 95.7h1.1M428.7 95.6h1.1M444.4 95.5h1.1M427.4 95.5h1.1M436.8 95.5h1.1M439.6 95.4h1.1M425.5 95.3h1.1M434.0 95.3h1.1M435.2 95.2h1.1M438.2 95.2h1.1M429.8 95.1h1.1M429.4 95.0h1.1M436.2 95.0h1.1M425.0 95.0h1.1M437.4 94.9h1.1M432.5 94.8h1.1M435.3 94.8h1.1M432.2 94.7h1.1M434.5 94.7h1.1M426.4 94.6h1.1M435.2 94.5h1.1M428.4 94.5h1.1M432.2 94.4h1.1M426.1 94.4h1.1M431.4 94.3h1.1M431.2 94.3h1.1M427.0 94.2h1.1M421.0 94.2h1.1M432.2 94.1h1.1M424.5 94.0h1.1M447.6 94.0h1.1M435.9 94.0h1.1M433.7 93.8h1.1M444.0 93.8h1.1M437.1 93.6h1.1M438.9 93.5h1.1M438.4 93.3h1.1M436.7 93.3h1.1M430.3 93.2h1.1M432.5 93.1h1.1M435.8 93.0h1.1M430.5 92.8h1.1M429.9 92.7h1.1M433.0 92.6h1.1M435.8 92.3h1.1M435.6 92.0h1.1M440.6 92.0h1.1M436.1 91.9h1.1M435.8 91.9h1.1M432.3 91.8h1.1M444.3 91.6h1.1M431.6 91.4h1.1M430.9 91.2h1.1M434.4 91.2h1.1M434.1 91.1h1.1M438.1 91.0h1.1M431.7 90.7h1.1M433.6 90.7h1.1M434.0 90.5h1.1M435.7 90.3h1.1M433.1 90.3h1.1M436.6 90.2h1.1M433.7 90.1h1.1M437.5 90.1h1.1M431.0 90.0h1.1M432.9 89.8h1.1M434.5 89.5h1.1M440.6 89.4h1.1M430.6 89.2h1.1M430.2 89.1h1.1M433.1 89.0h1.1M442.6 88.8h1.1M433.5 88.7h1.1M435.3 88.7h1.1M442.7 88.6h1.1M432.4 88.6h1.1M433.2 88.3h1.1M442.0 88.1h1.1M440.8 88.0h1.1M430.7 88.0h1.1M430.9 87.7h1.1M435.3 87.6h1.1M434.3 87.5h1.1M434.1 87.4h1.1M433.1 87.3h1.1M431.8 87.2h1.1M434.2 87.2h1.1M433.2 86.9h1.1M433.9 86.7h1.1M435.1 86.7h1.1M431.0 86.5h1.1M438.1 86.4h1.1M430.7 86.2h1.1M437.0 86.2h1.1M439.6 86.1h1.1M434.3 86.0h1.1M430.4 86.0h1.1M433.7 85.9h1.1M434.7 85.9h1.1M431.5 85.5h1.1M433.1 85.5h1.1M436.8 85.2h1.1M430.4 85.0h1.1M430.0 84.9h1.1M432.4 84.6h1.1M432.1 84.5h1.1M434.0 84.2h1.1M433.7 84.0h1.1M430.1 83.5h1.1M437.6 83.4h1.1M432.2 83.2h1.1M431.3 82.8h1.1M431.4 82.7h1.1M432.5 82.5h1.1M433.3 82.4h1.1M434.2 82.1h1.1M433.8 81.8h1.1M432.0 81.7h1.1M432.2 81.6h1.1M433.9 81.4h1.1M435.9 81.2h1.1M432.3 81.0h1.1M432.6 81.0h1.1M432.2 80.8h1.1M443.6 80.6h1.1M432.3 80.4h1.1M439.8 80.2h1.1M432.4 79.8h1.1M431.2 79.5h1.1M438.1 79.4h1.1M430.7 79.2h1.1M436.9 79.1h1.1M431.2 78.8h1.1M437.3 78.7h1.1M430.4 78.4h1.1M442.0 78.2h1.1M437.6 77.9h1.1M432.5 77.9h1.1M430.8 77.6h1.1M430.5 77.1h1.1M433.0 76.9h1.1M431.5 76.5h1.1M430.5 76.1h1.1M432.1 76.0h1.1M432.6 75.6h1.1M435.8 75.1h1.1M438.3 74.6h1.1M440.4 74.4h1.1M432.3 73.7h1.1M433.8 73.7h1.1M436.4 73.6h1.1M435.7 73.2h1.1M436.1 72.9h1.1M437.6 72.9h1.1M430.4 72.8h1.1M443.5 72.5h1.1M430.7 72.2h1.1M445.1 71.9h1.1M439.7 71.8h1.1M442.6 71.3h1.1M443.6 71.0h1.1M438.5 70.9h1.1M431.8 70.7h1.1M430.0 70.4h1.1M437.4 70.3h1.1M436.9 70.3h1.1M441.0 69.9h1.1M432.9 69.6h1.1M435.0 69.5h1.1M433.5 69.2h1.1M432.6 68.1h1.1M430.6 67.8h1.1M439.8 67.7h1.1M438.2 67.4h1.1M434.9 67.1h1.1M430.7 67.0h1.1M438.8 66.6h1.1M433.8 66.1h1.1M441.1 65.7h1.1M437.7 65.1h1.1M435.1 64.7h1.1M432.9 64.1h1.1M431.8 63.9h1.1M433.6 63.2h1.1M432.6 62.9h1.1M438.4 62.7h1.1M436.8 62.7h1.1M439.1 61.5h1.1M433.8 61.2h1.1M430.8 60.8h1.1M432.8 60.2h1.1M435.4 58.4h1.1M434.0 58.2h1.1M431.1 57.0h1.1M437.1 56.9h1.1M433.0 53.0h1.1M433.7 51.2h1.1M450.6 118.7h1.1M444.9 93.1h1.1M447.4 115.7h1.1M440.6 110.2h1.1M451.5 111.2h1.1M441.3 105.8h1.1M439.7 106.5h1.1M436.8 105.5h1.1M443.3 113.1h1.1M445.4 112.5h1.1M451.7 117.9h1.1M452.4 119.8h1.1M442.1 108.3h1.1M446.9 113.2h1.1M434.0 95.5h1.1M448.4 114.8h1.1M448.7 115.2h1.1M449.7 116.7h1.1M447.4 116.3h1.1M439.3 105.3h1.1M447.1 112.9h1.1M450.1 117.8h1.1M448.2 112.2h1.1M440.9 103.6h1.1M441.7 105.8h1.1M449.0 115.7h1.1M442.1 108.4h1.1M451.4 119.2h1.1M441.4 107.3h1.1M443.6 107.6h1.1M432.1 101.3h1.1M448.5 116.4h1.1M440.2 107.0h1.1M442.6 107.8h1.1M449.2 116.3h1.1M436.6 106.5h1.1M452.2 119.9h1.1M434.1 105.7h1.1M445.1 109.8h1.1M446.0 111.4h1.1M445.8 114.0h1.1M445.9 115.2h1.1M448.9 117.2h1.1M449.9 117.3h1.1M441.0 108.1h1.1M447.6 113.9h1.1M435.0 99.2h1.1M452.1 118.7h1.1M450.1 108.2h1.1M450.9 118.9h1.1M449.9 117.0h1.1M436.1 95.6h1.1M447.4 116.3h1.1M446.8 104.7h1.1M444.5 111.4h1.1M448.0 116.2h1.1M432.7 94.1h1.1M451.2 117.5h1.1M440.5 108.8h1.1M440.3 108.0h1.1M447.6 115.8h1.1M442.9 111.9h1.1M434.4 98.4h1.1M446.6 111.6h1.1M447.2 112.8h1.1M448.9 116.4h1.1M437.0 107.7h1.1M451.7 119.8h1.1M449.6 116.8h1.1M432.2 92.1h1.1M444.2 112.8h1.1M446.6 113.5h1.1M446.2 114.7h1.1M439.9 103.9h1.1M433.5 102.2h1.1M450.7 116.8h1.1M440.3 107.8h1.1M437.4 103.1h1.1M448.0 113.7h1.1M441.0 110.3h1.1M449.6 117.1h1.1M451.0 119.2h1.1M451.8 119.0h1.1M452.6 120.0h1.1M442.3 106.6h1.1M449.6 118.5h1.1M452.2 118.2h1.1M448.9 116.7h1.1M448.0 115.9h1.1M443.9 109.3h1.1M447.0 114.0h1.1M451.6 119.4h1.1M445.5 113.2h1.1M450.8 118.6h1.1M449.6 112.7h1.1M444.8 96.0h1.1M439.6 104.1h1.1M447.1 114.6h1.1M451.8 119.4h1.1M432.2 93.7h1.1M447.3 116.1h1.1M451.8 119.0h1.1M449.8 116.4h1.1M449.1 116.3h1.1M438.6 103.1h1.1M452.2 119.8h1.1M429.0 94.8h1.1M439.7 109.4h1.1M440.6 111.7h1.1M437.0 108.0h1.1M429.6 98.2h1.1M448.2 116.0h1.1M451.6 119.3h1.1M439.7 108.9h1.1M436.3 104.9h1.1M442.0 106.7h1.1M448.9 115.8h1.1M444.0 103.3h1.1M451.4 118.4h1.1M451.1 118.8h1.1M447.9 115.8h1.1M442.0 111.8h1.1M447.3 115.4h1.1M444.9 111.0h1.1M444.4 113.7h1.1M434.2 101.8h1.1M434.9 96.8h1.1M451.2 118.6h1.1M448.4 115.0h1.1M444.5 114.1h1.1M440.8 108.6h1.1M451.6 118.2h1.1M440.8 107.5h1.1M448.1 111.6h1.1M450.4 118.8h1.1M449.2 118.1h1.1M449.2 115.6h1.1M449.1 117.0h1.1M437.1 101.4h1.1M449.2 112.9h1.1M449.6 116.5h1.1M450.0 118.2h1.1M445.5 108.2h1.1M437.7 105.4h1.1M442.6 106.9h1.1M443.7 110.6h1.1M439.7 101.4h1.1M441.2 103.0h1.1M445.1 111.1h1.1M439.1 105.8h1.1M443.5 112.3h1.1M444.9 114.0h1.1M436.6 101.0h1.1M451.9 119.6h1.1M442.0 104.6h1.1M443.6 105.5h1.1M444.8 109.0h1.1M445.3 111.8h1.1M451.6 119.1h1.1M446.1 112.5h1.1M445.4 110.2h1.1M447.9 116.0h1.1M451.9 119.5h1.1M446.0 110.1h1.1M431.9 99.0h1.1M443.7 112.2h1.1M442.6 106.8h1.1M451.9 120.0h1.1M446.0 111.4h1.1M447.4 114.2h1.1M443.4 98.0h1.1M441.0 103.5h1.1M447.8 113.5h1.1M450.7 118.9h1.1M435.1 104.6h1.1M447.9 117.0h1.1M449.9 118.2h1.1M451.9 118.8h1.1M436.7 94.9h1.1M445.5 111.9h1.1M451.3 118.7h1.1M443.0 104.9h1.1M447.1 109.6h1.1M449.4 115.6h1.1M447.4 115.9h1.1M451.0 118.0h1.1M437.4 109.3h1.1M443.7 110.5h1.1M444.0 113.5h1.1M448.3 114.0h1.1M436.5 103.4h1.1M446.2 110.6h1.1M446.4 112.2h1.1M436.3 100.6h1.1M451.6 119.1h1.1M445.4 111.4h1.1M449.2 115.5h1.1M450.2 117.1h1.1M441.0 106.6h1.1M438.5 104.3h1.1M437.5 106.8h1.1M450.4 117.2h1.1M433.4 98.9h1.1M439.9 107.4h1.1M441.3 108.3h1.1M438.7 99.4h1.1M449.5 116.4h1.1M441.8 105.0h1.1M443.4 112.7h1.1M450.8 117.7h1.1M452.5 120.0h1.1M447.6 114.9h1.1M433.4 101.7h1.1M441.1 108.7h1.1M440.2 104.1h1.1M436.2 106.2h1.1M440.3 103.7h1.1M447.2 115.8h1.1M444.7 112.1h1.1M435.4 91.6h1.1M445.5 110.3h1.1M450.5 118.1h1.1M447.4 114.3h1.1M430.9 94.6h1.1M449.9 118.3h1.1M449.5 111.0h1.1M450.5 118.8h1.1M442.1 107.5h1.1M442.8 110.9h1.1M446.2 115.4h1.1M444.8 113.3h1.1M447.2 114.6h1.1M438.4 100.0h1.1M445.6 109.7h1.1M443.0 110.4h1.1M447.4 113.7h1.1M447.0 114.2h1.1M432.4 102.5h1.1M452.1 119.8h1.1M439.7 97.7h1.1M442.8 108.6h1.1M449.2 116.9h1.1M439.1 103.5h1.1M448.4 115.9h1.1M445.0 113.8h1.1M439.4 102.6h1.1M444.3 112.0h1.1M452.6 119.9h1.1M447.3 115.7h1.1M445.4 111.1h1.1M441.3 105.7h1.1M451.6 119.3h1.1M429.3 99.2h1.1M450.3 118.7h1.1M452.6 119.7h1.1M444.4 112.1h1.1M442.6 107.9h1.1M440.1 103.4h1.1M433.7 97.5h1.1M436.4 103.9h1.1M429.8 101.3h1.1M445.6 112.8h1.1M450.1 115.6h1.1M438.5 106.1h1.1M440.9 107.5h1.1M437.5 99.2h1.1M444.7 108.8h1.1M450.0 116.4h1.1M438.3 107.4h1.1M449.1 116.0h1.1M427.7 96.0h1.1M446.8 113.2h1.1M444.0 113.5h1.1M449.2 105.0h1.1M440.5 94.8h1.1M444.1 111.2h1.1M433.6 93.5h1.1M450.3 118.5h1.1M450.8 118.3h1.1M425.4 97.0h1.1M447.2 115.9h1.1M451.8 119.8h1.1M447.4 112.9h1.1M431.3 101.0h1.1M451.3 119.2h1.1M443.3 107.5h1.1M446.0 113.8h1.1M449.5 116.4h1.1M452.4 119.1h1.1M451.5 119.7h1.1M442.0 109.0h1.1M435.9 105.4h1.1M435.0 103.4h1.1M438.0 105.9h1.1M441.1 108.5h1.1M451.8 118.9h1.1M445.7 110.8h1.1M450.3 117.3h1.1M448.5 114.3h1.1M443.0 111.1h1.1M447.9 116.6h1.1M438.9 108.1h1.1M445.9 113.3h1.1M448.5 117.2h1.1M430.0 101.2h1.1M442.3 110.8h1.1M449.9 118.2h1.1M450.0 115.0h1.1M435.7 106.1h1.1M444.3 111.7h1.1M446.1 86.2h1.1M452.1 119.5h1.1M436.4 102.5h1.1M438.1 107.2h1.1M430.0 90.1h1.1M443.2 113.8h1.1M451.0 119.1h1.1M448.9 117.0h1.1M449.5 115.8h1.1M444.7 112.3h1.1M435.5 104.6h1.1M441.5 108.2h1.1M432.7 101.1h1.1M438.4 108.8h1.1M450.8 116.7h1.1M443.2 106.1h1.1M441.6 111.4h1.1M442.4 108.7h1.1M442.7 111.6h1.1M447.2 114.5h1.1M451.7 119.4h1.1M443.9 106.2h1.1M439.0 104.5h1.1M445.4 114.4h1.1M448.2 112.7h1.1M445.9 113.3h1.1M446.7 114.4h1.1M438.4 101.8h1.1M446.6 114.1h1.1M447.1 109.7h1.1M448.6 113.2h1.1M440.0 98.5h1.1M443.0 97.2h1.1M441.5 104.6h1.1M448.7 116.9h1.1M450.1 116.6h1.1M438.2 108.4h1.1M433.4 97.6h1.1M447.7 115.4h1.1M442.2 111.8h1.1M448.0 114.1h1.1M432.2 102.3h1.1M438.3 102.8h1.1M449.9 116.7h1.1M448.2 117.0h1.1M444.8 111.5h1.1M443.6 110.6h1.1M438.1 106.4h1.1M447.4 113.5h1.1M451.8 119.9h1.1M449.8 117.9h1.1M438.7 103.0h1.1M450.0 116.8h1.1M443.1 109.3h1.1M450.7 118.1h1.1M438.4 97.6h1.1M445.7 112.5h1.1M447.8 116.2h1.1M440.9 100.5h1.1M433.9 103.0h1.1M428.6 99.8h1.1M446.2 111.3h1.1M444.3 110.8h1.1M451.3 119.2h1.1M444.5 112.5h1.1M451.2 118.9h1.1M432.0 103.2h1.1M443.9 111.8h1.1M448.5 115.9h1.1M440.2 110.3h1.1M440.8 109.5h1.1M442.0 107.7h1.1M436.4 106.4h1.1M432.9 103.3h1.1M435.1 103.1h1.1M447.1 114.3h1.1M440.1 108.1h1.1M444.3 108.6h1.1M448.2 117.0h1.1M438.5 106.8h1.1M449.5 116.7h1.1M449.3 117.2h1.1M446.5 111.7h1.1M426.5 96.8h1.1M436.3 97.1h1.1M448.4 115.4h1.1M449.3 116.0h1.1M444.8 113.0h1.1M450.3 118.2h1.1M444.8 109.5h1.1M450.1 118.2h1.1M447.3 115.0h1.1M446.5 111.7h1.1M433.0 95.6h1.1M440.6 102.3h1.1M432.0 92.7h1.1M441.4 108.2h1.1M447.4 107.8h1.1M441.4 103.1h1.1M451.0 118.6h1.1M446.2 110.3h1.1M445.1 113.0h1.1M440.6 108.4h1.1M442.3 110.4h1.1M450.1 118.4h1.1M432.6 97.1h1.1M449.8 118.1h1.1M451.3 118.9h1.1M442.4 111.5h1.1M442.7 111.4h1.1M432.0 97.4h1.1M439.4 105.5h1.1M446.3 107.4h1.1M440.9 110.3h1.1M439.5 105.6h1.1M434.3 94.8h1.1M447.1 116.0h1.1M444.0 111.4h1.1M446.7 114.9h1.1M443.8 107.2h1.1M437.3 109.1h1.1M436.1 102.6h1.1M440.4 103.0h1.1M452.1 119.2h1.1M444.0 112.2h1.1M446.0 111.0h1.1M434.7 101.3h1.1M439.8 107.4h1.1M436.5 105.8h1.1M447.6 115.5h1.1M441.5 110.8h1.1M451.9 118.8h1.1M450.7 117.4h1.1M440.0 108.2h1.1M443.9 100.8h1.1M439.4 108.7h1.1M432.1 102.6h1.1M436.5 96.4h1.1M442.8 112.2h1.1M440.8 105.8h1.1M445.1 113.8h1.1M451.9 119.1h1.1M447.9 116.6h1.1M437.1 107.0h1.1M439.3 108.1h1.1M451.3 118.8h1.1M448.0 116.2h1.1M443.8 107.2h1.1M447.0 115.4h1.1M448.6 116.8h1.1M443.7 107.7h1.1M452.4 119.9h1.1M447.6 116.4h1.1M451.0 118.5h1.1M449.8 117.9h1.1M446.6 112.0h1.1M448.1 115.2h1.1M448.1 111.0h1.1M446.4 112.2h1.1M437.5 104.6h1.1M439.6 99.7h1.1M449.5 115.3h1.1M448.1 115.0h1.1M449.8 117.9h1.1M447.6 114.6h1.1M448.3 113.8h1.1M444.1 110.6h1.1M450.7 117.9h1.1M437.2 106.0h1.1M433.7 104.0h1.1M439.8 108.0h1.1M446.3 113.1h1.1M448.5 110.0h1.1M443.0 111.2h1.1M440.4 106.5h1.1M448.8 117.4h1.1M441.0 110.4h1.1M450.1 115.5h1.1M445.8 110.8h1.1M449.6 117.7h1.1M451.0 117.9h1.1M451.9 119.6h1.1M448.6 113.3h1.1M451.2 118.9h1.1M443.5 97.2h1.1M449.5 117.1h1.1M442.0 106.4h1.1M450.2 116.7h1.1M445.6 115.3h1.1M452.4 117.8h1.1M450.8 118.4h1.1M444.4 113.4h1.1M444.6 113.0h1.1M440.2 108.9h1.1M442.1 105.7h1.1M451.7 119.8h1.1M444.2 108.5h1.1M449.8 117.0h1.1M451.6 119.1h1.1M451.0 118.0h1.1M446.2 114.4h1.1M446.0 110.1h1.1M448.8 117.1h1.1M445.8 111.9h1.1M442.0 110.6h1.1M432.0 100.1h1.1M447.9 116.6h1.1M449.0 116.5h1.1M440.8 102.4h1.1M438.6 106.9h1.1M447.7 113.6h1.1M446.4 115.2h1.1M448.5 115.3h1.1M445.9 113.4h1.1M450.4 117.9h1.1M439.6 103.0h1.1M439.2 104.0h1.1M446.6 115.1h1.1M445.8 115.3h1.1M450.1 117.1h1.1M442.2 105.9h1.1M435.8 102.7h1.1M447.3 116.1h1.1M439.7 102.5h1.1M442.3 109.2h1.1M442.9 106.2h1.1M430.4 86.1h1.1M440.5 109.5h1.1M445.9 112.9h1.1M442.7 109.5h1.1M449.8 112.9h1.1M450.0 117.9h1.1M440.5 108.4h1.1M449.1 112.7h1.1M444.4 112.9h1.1M449.9 117.4h1.1M446.1 112.1h1.1M433.5 102.6h1.1M443.9 107.2h1.1M449.9 114.5h1.1M439.0 103.3h1.1M438.6 100.6h1.1M433.9 104.4h1.1M443.3 111.0h1.1M437.1 105.6h1.1M449.3 117.9h1.1M450.3 117.2h1.1M451.9 119.0h1.1M449.7 117.7h1.1M446.2 113.8h1.1M447.7 115.3h1.1M441.3 109.7h1.1M450.0 117.1h1.1M449.2 116.5h1.1M451.2 118.7h1.1M445.9 114.7h1.1M440.9 110.2h1.1M449.3 116.7h1.1M447.3 116.5h1.1M446.4 115.3h1.1M436.7 102.2h1.1M438.9 109.1h1.1M440.4 107.3h1.1M445.2 111.9h1.1M450.3 115.0h1.1M443.3 100.1h1.1M439.3 108.7h1.1M447.9 113.8h1.1M438.7 110.2h1.1M437.6 105.8h1.1M449.5 111.1h1.1M450.2 117.1h1.1M447.5 115.4h1.1M450.5 114.8h1.1M449.9 116.3h1.1M441.8 111.0h1.1M452.5 119.7h1.1M446.6 113.0h1.1M452.2 119.5h1.1M445.4 114.5h1.1M436.4 107.0h1.1M449.3 118.0h1.1M449.1 115.9h1.1M449.7 116.9h1.1M441.1 110.8h1.1M448.3 113.5h1.1M448.1 116.4h1.1M450.3 116.0h1.1M448.2 115.5h1.1M450.8 118.5h1.1M446.6 111.5h1.1M443.4 103.4h1.1M448.9 117.0h1.1M442.4 110.7h1.1M450.2 117.4h1.1M450.8 118.0h1.1M445.0 113.3h1.1M451.1 119.4h1.1M442.1 103.8h1.1M449.3 117.3h1.1M441.1 110.7h1.1M433.6 96.4h1.1M445.9 111.5h1.1M449.7 116.7h1.1M437.5 105.8h1.1M440.0 107.8h1.1M427.5 100.0h1.1M442.9 107.0h1.1M451.7 118.6h1.1M449.3 116.9h1.1M449.9 117.9h1.1M449.4 116.4h1.1M449.5 117.6h1.1M444.2 110.6h1.1M437.2 94.8h1.1M444.6 111.9h1.1M437.2 95.7h1.1M451.8 119.2h1.1M452.0 119.9h1.1M435.3 99.9h1.1M445.7 111.7h1.1M441.6 109.6h1.1M451.1 118.8h1.1M432.2 100.0h1.1M435.2 97.5h1.1M440.9 105.5h1.1M439.6 107.6h1.1M448.2 114.7h1.1M449.9 115.0h1.1M442.9 108.8h1.1M446.1 111.4h1.1M446.6 112.9h1.1M444.8 110.1h1.1M440.8 110.9h1.1M451.1 118.8h1.1M432.6 102.6h1.1M440.9 107.5h1.1M443.5 113.1h1.1M451.6 119.1h1.1M448.6 115.4h1.1M429.7 97.3h1.1M441.6 110.6h1.1M445.3 113.3h1.1M451.6 119.6h1.1M448.4 113.0h1.1M442.7 108.8h1.1M451.3 119.3h1.1M451.8 119.8h1.1M451.8 119.8h1.1M442.1 111.5h1.1M448.5 114.3h1.1M443.2 106.5h1.1M445.7 114.5h1.1M450.9 118.2h1.1M451.9 119.5h1.1M447.9 113.8h1.1M439.5 107.8h1.1M441.7 108.7h1.1M449.8 115.5h1.1M442.3 109.5h1.1M451.0 118.6h1.1M439.2 105.0h1.1M451.7 119.7h1.1M425.4 95.1h1.1M435.5 103.9h1.1M451.5 118.7h1.1M439.3 105.9h1.1M449.8 117.6h1.1M443.3 109.4h1.1M433.1 94.8h1.1M448.8 114.0h1.1M430.3 101.2h1.1M443.0 113.4h1.1M448.0 115.2h1.1M430.0 97.0h1.1M449.6 107.4h1.1M439.8 93.0h1.1M451.6 119.2h1.1M448.6 115.8h1.1M447.2 115.0h1.1M432.0 94.3h1.1M448.6 114.9h1.1M443.7 99.9h1.1M454.6 118.1h1.1M450.6 119.1h1.1M453.8 119.3h1.1M453.8 119.9h1.1M451.4 119.6h1.1M452.7 117.3h1.1M452.3 117.5h1.1M453.7 119.0h1.1M451.0 119.9h1.1M450.6 118.9h1.1M453.0 119.8h1.1M451.4 119.1h1.1M450.9 120.0h1.1M451.8 119.0h1.1M452.2 119.0h1.1M450.2 119.6h1.1M449.9 119.2h1.1M450.0 119.5h1.1M453.1 117.9h1.1M454.6 118.1h1.1M450.9 119.8h1.1M453.0 119.7h1.1M452.7 118.8h1.1M454.5 119.9h1.1M451.3 118.3h1.1M452.0 117.6h1.1M452.1 120.0h1.1M454.3 119.8h1.1M453.8 118.6h1.1M453.5 118.2h1.1M454.3 118.4h1.1M452.9 118.5h1.1M452.2 119.5h1.1M451.4 119.0h1.1M451.8 119.1h1.1M451.2 118.6h1.1M450.6 118.6h1.1M450.1 118.8h1.1M450.5 119.3h1.1M451.1 117.5h1.1M453.8 119.1h1.1M453.8 118.3h1.1M451.4 119.0h1.1M450.0 119.5h1.1M450.3 119.6h1.1M453.0 119.7h1.1M450.7 119.7h1.1M452.4 119.1h1.1M450.6 119.2h1.1M454.1 118.9h1.1M457.7 112.4h1.1M464.6 101.7h1.1M466.3 98.3h1.1M476.6 82.7h1.1M464.4 103.1h1.1M470.4 99.3h1.1M468.6 95.6h1.1M478.5 82.3h1.1M461.5 108.5h1.1M453.3 118.3h1.1M456.5 112.4h1.1M468.7 97.3h1.1M461.7 108.5h1.1M466.8 99.2h1.1M462.4 110.5h1.1M467.8 95.3h1.1M463.6 103.2h1.1M459.6 112.0h1.1M453.9 118.4h1.1M463.9 103.1h1.1M454.0 116.9h1.1M465.2 104.6h1.1M471.5 93.3h1.1M485.5 68.2h1.1M455.6 114.3h1.1M457.8 112.2h1.1M458.2 113.9h1.1M467.2 102.8h1.1M463.4 112.8h1.1M477.4 87.1h1.1M454.2 118.2h1.1M463.8 107.7h1.1M463.5 105.6h1.1M474.4 86.6h1.1M452.4 119.3h1.1M460.8 109.6h1.1M467.2 99.3h1.1M462.6 101.7h1.1M465.0 104.3h1.1M463.1 103.7h1.1M463.8 105.7h1.1M457.2 111.7h1.1M463.4 102.8h1.1M460.8 110.5h1.1M453.0 118.7h1.1M458.5 111.1h1.1M460.5 107.1h1.1M458.6 108.9h1.1M459.7 113.3h1.1M466.4 101.4h1.1M454.8 117.9h1.1M458.5 113.8h1.1M453.8 118.1h1.1M454.4 117.7h1.1M455.9 116.9h1.1M455.9 116.3h1.1M474.1 84.8h1.1M464.7 101.2h1.1M454.5 109.4h1.1M455.7 115.8h1.1M463.5 105.9h1.1M460.1 103.0h1.1M463.4 104.6h1.1M460.5 111.4h1.1M466.4 100.0h1.1M471.2 92.0h1.1M469.3 99.8h1.1M464.8 109.5h1.1M467.3 99.6h1.1M469.0 98.1h1.1M468.4 99.8h1.1M463.4 105.7h1.1M465.0 106.3h1.1M452.8 118.7h1.1M458.6 111.3h1.1M466.4 101.6h1.1M468.1 98.3h1.1M467.5 102.5h1.1M461.4 104.4h1.1M454.5 115.7h1.1M463.5 104.8h1.1M455.0 115.2h1.1M464.5 101.0h1.1M464.6 102.5h1.1M460.9 104.8h1.1M470.0 96.8h1.1M463.0 105.9h1.1M453.9 119.0h1.1M458.4 101.1h1.1M461.8 107.8h1.1M465.9 97.1h1.1M462.3 104.6h1.1M470.6 91.1h1.1M460.9 111.8h1.1M465.6 104.2h1.1M457.9 112.1h1.1M461.5 108.7h1.1M467.2 97.5h1.1M462.9 109.4h1.1M455.3 117.4h1.1M463.2 107.2h1.1M452.7 119.5h1.1M463.2 101.1h1.1M458.2 115.0h1.1M464.0 108.2h1.1M471.3 96.5h1.1M456.5 116.5h1.1M463.3 102.8h1.1M454.6 115.7h1.1M461.0 110.8h1.1M461.5 111.6h1.1M464.9 106.5h1.1M465.9 98.9h1.1M452.7 119.1h1.1M464.4 106.2h1.1M457.7 112.3h1.1M466.8 101.9h1.1M457.9 113.6h1.1M469.2 97.3h1.1M457.8 112.4h1.1M472.4 90.6h1.1M452.9 116.0h1.1M462.1 109.7h1.1M474.0 87.6h1.1M452.0 119.9h1.1M451.8 119.5h1.1M462.1 110.0h1.1M457.5 115.3h1.1M457.7 111.1h1.1M462.0 105.5h1.1M453.2 119.5h1.1M464.1 107.0h1.1M465.5 97.4h1.1M462.9 101.1h1.1M452.5 119.4h1.1M461.8 109.1h1.1M469.8 97.5h1.1M474.5 91.6h1.1M475.9 85.5h1.1M467.6 95.1h1.1M470.7 97.0h1.1M454.7 117.9h1.1M476.0 81.6h1.1M474.2 85.1h1.1M470.4 97.7h1.1M468.0 97.5h1.1M455.0 116.5h1.1M461.6 111.5h1.1M452.7 119.9h1.1M463.5 104.5h1.1M455.5 117.4h1.1M467.9 94.5h1.1M457.8 114.2h1.1M453.9 117.1h1.1M468.8 99.3h1.1M474.1 86.3h1.1M462.3 110.8h1.1M456.9 114.4h1.1M462.3 111.2h1.1M458.7 109.9h1.1M454.6 113.9h1.1M459.9 110.1h1.1M470.9 91.8h1.1M474.4 87.4h1.1M462.1 108.4h1.1M455.3 117.2h1.1M467.3 99.2h1.1M460.8 111.8h1.1M455.0 117.8h1.1M461.7 108.4h1.1M460.5 107.1h1.1M452.8 118.7h1.1M453.3 119.7h1.1M476.0 88.2h1.1M454.6 115.0h1.1M457.8 112.4h1.1M471.8 93.5h1.1M458.4 112.2h1.1M455.1 116.2h1.1M479.6 87.6h1.1M456.0 115.0h1.1M467.7 105.9h1.1M466.0 103.9h1.1M471.2 92.0h1.1M464.5 98.8h1.1M471.6 93.3h1.1M452.9 119.2h1.1M453.1 118.9h1.1M457.5 115.4h1.1M460.7 114.0h1.1M456.4 114.9h1.1M478.4 81.8h1.1M458.0 110.9h1.1M452.9 118.4h1.1M461.8 104.8h1.1M452.7 119.5h1.1M479.6 81.2h1.1M458.2 113.1h1.1M456.4 114.1h1.1M470.7 91.0h1.1M463.3 107.4h1.1M453.0 118.0h1.1M459.8 111.4h1.1M454.7 116.7h1.1M461.6 107.3h1.1M458.2 109.8h1.1M459.2 108.4h1.1M451.8 118.4h1.1M454.3 118.0h1.1M456.4 113.8h1.1M452.6 120.0h1.1M460.9 108.6h1.1M463.1 108.4h1.1M452.8 118.7h1.1M464.7 103.4h1.1M460.0 112.5h1.1M455.0 117.3h1.1M465.2 105.3h1.1M462.2 110.4h1.1M460.2 112.6h1.1M453.3 117.9h1.1M454.3 117.6h1.1M453.8 117.1h1.1M460.7 106.2h1.1M471.5 95.8h1.1M454.9 104.5h1.1M454.4 117.6h1.1M462.0 103.7h1.1M457.7 114.1h1.1M456.2 116.2h1.1M455.5 118.1h1.1M481.4 75.4h1.1M462.9 103.1h1.1M465.7 102.3h1.1M455.6 114.0h1.1M461.1 109.6h1.1M477.5 82.2h1.1M457.1 112.4h1.1M467.0 101.8h1.1M469.0 98.7h1.1M463.2 108.9h1.1M470.6 93.5h1.1M456.0 115.7h1.1M459.8 111.3h1.1M462.6 110.1h1.1M480.0 76.0h1.1M451.4 114.5h1.1M453.7 117.7h1.1M469.0 96.6h1.1M457.1 112.5h1.1M452.9 119.6h1.1M460.8 107.6h1.1M454.2 119.1h1.1M457.5 114.1h1.1M459.0 110.6h1.1M453.9 118.4h1.1M459.1 110.6h1.1M455.4 115.6h1.1M453.0 118.5h1.1M461.3 112.0h1.1M466.8 104.1h1.1M458.8 108.5h1.1M453.6 117.1h1.1M464.9 100.9h1.1M458.3 111.0h1.1M466.1 99.4h1.1M454.5 116.5h1.1M453.6 118.8h1.1M460.3 110.8h1.1M463.1 106.8h1.1M462.5 109.0h1.1M477.9 85.8h1.1M454.4 116.1h1.1M454.4 117.1h1.1M463.4 103.8h1.1M458.9 112.7h1.1M463.9 102.2h1.1M464.7 100.3h1.1M463.3 102.6h1.1M483.2 64.9h1.1M452.2 119.8h1.1M455.4 115.7h1.1M455.8 116.9h1.1M461.9 103.3h1.1M465.5 100.9h1.1M458.1 114.9h1.1M452.1 120.0h1.1M460.6 108.5h1.1M457.5 116.7h1.1M458.6 111.7h1.1M464.9 106.2h1.1M477.1 80.5h1.1M462.6 103.5h1.1M469.9 96.4h1.1M457.9 113.8h1.1M472.8 92.3h1.1M457.8 113.6h1.1M465.4 109.5h1.1M454.2 117.0h1.1M460.0 108.1h1.1M452.7 119.1h1.1M461.3 112.1h1.1M466.0 97.4h1.1M455.4 116.1h1.1M464.3 98.5h1.1M459.0 115.1h1.1M459.1 110.7h1.1M464.9 102.2h1.1M461.9 106.7h1.1M459.6 107.0h1.1M475.7 84.9h1.1M459.1 110.0h1.1M461.9 108.7h1.1M471.8 93.1h1.1M463.6 113.6h1.1M453.9 117.8h1.1M455.8 112.9h1.1M452.9 119.5h1.1M454.0 119.0h1.1M458.6 110.4h1.1M458.3 113.2h1.1M456.3 114.6h1.1M459.2 110.4h1.1M463.6 109.1h1.1M465.7 103.3h1.1M465.7 100.2h1.1M474.4 91.0h1.1M460.7 111.9h1.1M453.9 117.8h1.1M462.3 109.9h1.1M465.8 102.5h1.1M462.8 107.3h1.1M453.4 118.7h1.1M454.4 117.6h1.1M469.2 98.9h1.1M455.6 114.8h1.1M454.9 115.3h1.1M467.1 104.8h1.1M459.7 111.9h1.1M469.6 96.4h1.1M459.1 113.5h1.1M463.3 107.4h1.1M458.6 111.6h1.1M467.2 105.1h1.1M453.2 119.7h1.1M479.4 77.2h1.1M456.4 112.9h1.1M465.9 103.7h1.1M453.7 118.3h1.1M455.1 116.8h1.1M467.9 101.8h1.1M452.2 119.7h1.1M463.4 103.6h1.1M477.0 83.8h1.1M462.4 107.8h1.1M465.0 104.3h1.1M457.3 111.5h1.1M455.8 115.5h1.1M455.8 115.1h1.1M453.2 118.5h1.1M466.1 101.9h1.1M469.6 94.2h1.1M456.2 116.1h1.1M458.8 108.9h1.1M462.2 106.7h1.1M452.0 118.7h1.1M461.7 109.2h1.1M458.3 112.4h1.1M463.7 105.5h1.1M472.0 95.9h1.1M462.1 111.4h1.1M460.1 108.8h1.1M455.8 115.5h1.1M458.7 110.3h1.1M466.4 96.6h1.1M474.4 85.6h1.1M460.2 113.5h1.1M471.9 90.8h1.1M459.5 107.9h1.1M459.9 112.3h1.1M461.4 111.4h1.1M465.3 105.2h1.1M459.3 113.3h1.1M462.8 109.9h1.1M458.0 113.8h1.1M464.6 100.1h1.1M453.8 118.6h1.1M452.5 119.1h1.1M467.5 100.8h1.1M467.5 100.7h1.1M458.4 112.3h1.1M462.5 108.4h1.1M459.5 113.2h1.1M461.4 106.5h1.1M454.7 116.4h1.1M464.6 98.8h1.1M460.0 106.7h1.1M461.9 96.4h1.1M469.1 95.4h1.1M463.1 105.9h1.1M460.9 111.7h1.1M467.6 95.2h1.1M476.3 82.3h1.1M465.5 97.5h1.1M470.0 97.3h1.1M458.1 112.0h1.1M455.4 115.0h1.1M462.4 104.3h1.1M456.6 113.4h1.1M464.1 107.6h1.1M478.6 83.6h1.1M452.6 120.0h1.1M454.9 117.5h1.1M462.5 109.2h1.1M464.2 104.3h1.1M455.8 116.6h1.1M454.5 116.6h1.1M459.9 109.6h1.1M471.5 93.7h1.1M460.1 113.3h1.1M463.6 103.4h1.1M462.8 109.0h1.1M474.3 86.3h1.1M454.0 117.9h1.1M478.3 91.4h1.1M462.4 106.2h1.1M462.6 102.8h1.1M465.2 101.4h1.1M472.0 94.2h1.1M453.1 117.2h1.1M459.5 108.1h1.1M464.1 102.2h1.1M457.3 114.8h1.1M463.8 107.8h1.1M465.6 101.2h1.1M467.7 99.0h1.1M454.7 117.4h1.1M457.5 114.3h1.1M461.2 109.4h1.1M479.9 78.0h1.1M469.1 91.3h1.1M462.8 105.0h1.1M455.4 118.1h1.1M463.0 101.8h1.1M456.7 113.6h1.1M471.6 95.8h1.1M454.4 118.2h1.1M453.7 117.2h1.1M464.7 104.8h1.1M462.7 102.5h1.1M462.2 109.7h1.1M455.7 116.4h1.1M475.4 85.8h1.1M469.0 96.3h1.1M455.4 115.0h1.1M460.9 109.6h1.1M455.4 114.7h1.1M459.1 109.2h1.1M454.0 117.5h1.1M454.6 115.5h1.1M457.8 115.3h1.1M461.5 110.7h1.1M455.0 116.7h1.1M465.0 93.3h1.1M457.9 114.4h1.1M461.7 107.7h1.1M456.2 116.0h1.1M460.4 107.9h1.1M458.7 113.6h1.1M461.4 112.2h1.1M467.7 101.9h1.1M477.0 81.5h1.1M457.8 112.9h1.1M452.4 119.8h1.1M453.5 118.6h1.1M468.6 98.9h1.1M452.2 110.9h1.1M467.0 101.2h1.1M466.3 103.2h1.1M453.9 118.7h1.1M461.6 109.5h1.1M465.0 104.9h1.1M473.9 90.3h1.1M468.0 100.0h1.1M453.6 117.6h1.1M455.0 118.4h1.1M454.2 117.2h1.1M454.8 116.2h1.1M461.4 112.0h1.1M463.4 107.4h1.1M462.4 108.9h1.1M460.7 107.1h1.1M459.2 114.2h1.1M458.6 110.8h1.1M454.7 116.1h1.1M476.9 86.4h1.1M461.9 107.0h1.1M451.9 120.0h1.1M454.8 118.0h1.1M459.1 112.4h1.1M455.3 116.5h1.1M459.9 108.7h1.1M475.3 87.4h1.1M457.1 112.7h1.1M464.4 104.1h1.1M470.8 90.3h1.1M462.1 110.0h1.1M453.6 118.4h1.1M462.2 106.8h1.1M463.6 102.9h1.1M455.5 114.6h1.1M464.7 102.2h1.1M465.4 98.6h1.1M465.6 105.1h1.1M463.4 105.6h1.1M465.3 100.8h1.1M455.1 116.8h1.1M480.7 75.9h1.1M467.5 92.1h1.1M460.0 111.0h1.1M454.9 115.7h1.1M469.8 105.8h1.1M453.4 117.8h1.1M453.3 119.2h1.1M461.8 108.0h1.1M453.3 118.6h1.1M466.5 96.2h1.1M467.1 106.9h1.1M469.6 97.0h1.1M467.5 101.2h1.1M454.1 117.4h1.1M453.5 117.8h1.1M457.0 117.3h1.1M452.6 119.6h1.1M471.0 92.8h1.1M466.8 105.5h1.1M461.0 109.3h1.1M454.6 117.6h1.1M477.4 79.0h1.1M454.5 116.2h1.1M468.0 98.3h1.1M478.9 83.7h1.1M470.8 95.3h1.1M457.1 112.3h1.1M463.7 108.1h1.1M472.7 94.3h1.1M466.2 101.1h1.1M456.0 115.8h1.1M459.7 110.4h1.1M456.3 115.6h1.1M462.8 107.1h1.1M465.5 105.9h1.1M461.5 104.5h1.1M463.6 105.4h1.1M472.5 92.9h1.1M463.0 105.0h1.1M471.8 96.4h1.1M463.9 98.7h1.1M470.4 91.6h1.1M465.9 101.5h1.1M462.1 109.3h1.1M456.2 116.3h1.1M475.8 84.4h1.1M469.8 90.1h1.1M460.0 110.0h1.1M462.7 108.8h1.1M473.8 90.3h1.1M461.9 105.7h1.1M457.1 114.7h1.1M453.6 117.1h1.1M472.1 97.6h1.1M465.9 104.9h1.1M466.2 106.2h1.1M465.8 102.7h1.1M457.2 113.1h1.1M457.2 114.6h1.1M457.1 115.5h1.1M457.9 115.3h1.1M463.6 108.7h1.1M455.1 115.7h1.1M474.7 92.0h1.1M459.9 109.1h1.1M461.5 104.4h1.1M457.6 114.1h1.1M456.8 112.2h1.1M457.2 114.1h1.1M477.0 86.8h1.1M455.1 116.7h1.1M468.2 98.5h1.1M463.9 102.9h1.1M461.0 108.4h1.1M457.6 102.7h1.1M463.2 107.5h1.1M463.9 106.4h1.1M454.7 117.0h1.1M470.0 95.8h1.1M459.8 108.4h1.1M474.3 90.5h1.1M456.3 113.7h1.1M466.5 97.8h1.1M452.8 118.5h1.1M454.5 117.2h1.1M481.7 88.2h1.1M466.5 108.1h1.1M463.7 107.7h1.1M467.0 97.3h1.1M455.1 117.7h1.1M458.4 108.4h1.1M455.4 115.2h1.1M460.6 106.1h1.1M453.9 117.0h1.1M462.9 102.6h1.1M455.2 117.1h1.1M453.6 117.2h1.1M454.3 111.8h1.1M463.8 107.3h1.1M455.8 116.1h1.1M460.6 112.5h1.1M464.1 107.0h1.1M458.0 113.8h1.1M480.4 77.9h1.1M492.7 50.2h1.1M478.6 81.7h1.1M479.8 73.8h1.1M486.0 58.9h1.1M495.9 43.1h1.1M497.3 36.4h1.1M482.0 70.4h1.1M490.7 49.2h1.1M474.9 88.6h1.1M501.2 34.8h1.1M491.9 48.4h1.1M499.8 34.1h1.1M481.5 77.0h1.1M489.6 59.2h1.1M493.4 43.9h1.1M472.0 88.4h1.1M496.2 37.9h1.1M489.6 46.1h1.1M496.8 41.1h1.1M481.7 79.9h1.1M497.3 41.8h1.1M487.3 54.8h1.1M480.7 80.7h1.1M479.4 81.8h1.1M500.0 36.8h1.1M490.7 65.3h1.1M481.5 73.1h1.1M483.8 67.2h1.1M494.2 47.6h1.1M481.5 81.5h1.1M480.1 80.0h1.1M493.1 49.7h1.1M502.6 34.6h1.1M491.5 48.3h1.1"/><path id="pext" d="M408.7 35.1h1.1M412.0 63.5h1.1M439.5 108.7h1.1M411.2 74.0h1.1M448.2 109.2h1.1M403.0 50.1h1.1M432.3 71.4h1.1M403.7 26.0h1.1M422.6 75.5h1.1M397.4 47.7h1.1M409.3 59.6h1.1M385.6 27.8h1.1M417.0 47.4h1.1M437.8 91.7h1.1M385.0 28.5h1.1M394.2 44.7h1.1M416.3 64.7h1.1M425.6 94.1h1.1M396.4 35.0h1.1M437.4 99.4h1.1M427.5 70.0h1.1M424.1 90.9h1.1M401.5 35.6h1.1M411.3 64.4h1.1M448.7 112.6h1.1M444.0 105.6h1.1M434.5 77.9h1.1M432.9 74.9h1.1M408.5 59.5h1.1M408.9 41.3h1.1M406.8 46.9h1.1M432.1 92.3h1.1M440.1 103.5h1.1M407.4 51.7h1.1M393.8 35.7h1.1M429.9 75.7h1.1M428.3 76.7h1.1M422.3 54.0h1.1M393.3 16.8h1.1M392.2 34.7h1.1M414.7 44.1h1.1M423.7 74.7h1.1M430.1 67.0h1.1M423.3 82.9h1.1M444.9 113.9h1.1M421.2 52.1h1.1M388.9 23.5h1.1M380.0 17.1h1.1M391.5 33.3h1.1M412.1 74.3h1.1M406.3 29.9h1.1M434.5 100.3h1.1M427.4 88.7h1.1M405.5 59.8h1.1M392.1 29.3h1.1M409.9 70.2h1.1M442.7 113.7h1.1M435.0 80.5h1.1M395.2 26.8h1.1M424.1 69.4h1.1M394.0 29.8h1.1M399.2 36.2h1.1M418.4 55.8h1.1M422.6 64.9h1.1M394.9 45.7h1.1M437.9 110.2h1.1M422.1 93.1h1.1M437.8 109.2h1.1M421.6 55.1h1.1M421.4 79.7h1.1M426.0 73.2h1.1M413.0 37.0h1.1M428.4 77.2h1.1M432.5 80.5h1.1M437.2 91.4h1.1M423.2 64.5h1.1M411.6 61.6h1.1M407.6 65.6h1.1M442.4 109.8h1.1M427.2 67.2h1.1M444.5 112.0h1.1M420.9 65.9h1.1M405.8 42.5h1.1M414.2 58.8h1.1M405.3 53.7h1.1M419.2 59.8h1.1M441.9 95.3h1.1M415.5 40.8h1.1M425.1 85.2h1.1M416.8 88.4h1.1M441.6 112.4h1.1M389.5 29.6h1.1M401.3 46.4h1.1M435.7 107.6h1.1M408.1 47.6h1.1M414.1 60.2h1.1M426.8 87.1h1.1M385.8 23.6h1.1M398.9 42.2h1.1M426.2 95.0h1.1M445.1 104.9h1.1M416.2 78.2h1.1M441.9 114.0h1.1M427.1 93.0h1.1M423.9 55.0h1.1M389.2 26.7h1.1M421.9 54.1h1.1M443.2 104.0h1.1M429.3 75.2h1.1M428.5 82.4h1.1M408.1 64.3h1.1M411.5 39.5h1.1M416.2 66.7h1.1M388.3 21.1h1.1M394.5 27.8h1.1M420.3 77.4h1.1M437.5 108.1h1.1M418.3 91.5h1.1M414.3 60.9h1.1M439.7 111.5h1.1M384.4 24.0h1.1M434.3 77.4h1.1M434.5 102.9h1.1M389.4 35.5h1.1M446.3 107.4h1.1M401.8 46.9h1.1M413.0 66.9h1.1M406.8 26.5h1.1M440.0 107.0h1.1M428.7 96.0h1.1M409.8 41.4h1.1M426.7 95.4h1.1M418.7 72.3h1.1M414.9 47.2h1.1M423.7 81.1h1.1M438.0 107.4h1.1M391.5 21.2h1.1M417.3 59.4h1.1M421.6 58.4h1.1M423.2 88.6h1.1M396.0 27.1h1.1M381.4 19.9h1.1M401.6 37.3h1.1M428.4 67.6h1.1M435.0 101.2h1.1M424.2 89.5h1.1M397.8 33.9h1.1M390.2 37.1h1.1M398.5 16.1h1.1M400.6 47.5h1.1M401.6 49.6h1.1M412.5 77.4h1.1M434.7 107.1h1.1M438.9 96.2h1.1M435.7 90.1h1.1M441.1 113.4h1.1M446.6 108.0h1.1M388.4 33.9h1.1M385.8 22.7h1.1M429.4 88.1h1.1M440.7 93.9h1.1M425.6 78.1h1.1M408.6 57.9h1.1M417.1 42.0h1.1M402.5 55.6h1.1M405.0 34.8h1.1M422.3 66.0h1.1M422.9 88.4h1.1M406.8 63.5h1.1M405.3 56.4h1.1M437.1 89.1h1.1M406.8 56.4h1.1M419.1 45.5h1.1M402.6 26.0h1.1M427.1 81.4h1.1M403.2 56.7h1.1M407.8 46.1h1.1M422.5 62.8h1.1M434.7 106.4h1.1M383.0 17.2h1.1M417.6 89.0h1.1M427.2 83.4h1.1M439.7 110.2h1.1M419.5 88.9h1.1M413.2 36.4h1.1M392.3 24.3h1.1M437.9 107.5h1.1M413.8 62.6h1.1M411.1 42.3h1.1M394.4 26.1h1.1M437.8 90.6h1.1M386.8 27.3h1.1M432.9 93.3h1.1M411.6 33.6h1.1M440.5 111.9h1.1M422.7 72.5h1.1M403.9 37.7h1.1M410.7 63.2h1.1M411.6 50.3h1.1M383.8 21.3h1.1M432.5 101.8h1.1M424.3 82.1h1.1M436.4 97.2h1.1M387.8 33.4h1.1M384.0 24.8h1.1M425.7 84.0h1.1M414.6 72.5h1.1M413.6 42.5h1.1M420.7 91.7h1.1M408.5 63.1h1.1M400.8 21.9h1.1M397.2 32.2h1.1M399.4 36.9h1.1M410.6 69.1h1.1M444.6 110.3h1.1M441.0 95.1h1.1M416.2 58.6h1.1M390.3 26.3h1.1M442.0 112.9h1.1M411.7 69.1h1.1M432.4 86.5h1.1M419.7 77.1h1.1M429.1 91.1h1.1M379.0 16.4h1.1M405.8 31.3h1.1M413.3 55.1h1.1M407.3 63.0h1.1M425.9 58.2h1.1M404.4 42.5h1.1M429.5 70.6h1.1M442.4 113.4h1.1M394.5 20.2h1.1M400.6 32.9h1.1M442.6 110.0h1.1M400.6 52.3h1.1M429.6 66.9h1.1M433.9 107.9h1.1M440.2 103.9h1.1M386.9 26.5h1.1M391.9 31.2h1.1M422.2 61.3h1.1M435.4 102.5h1.1M393.8 29.1h1.1M400.3 35.9h1.1M389.2 21.6h1.1M389.5 33.4h1.1M416.6 80.8h1.1M420.0 74.4h1.1M426.3 90.4h1.1M409.7 47.2h1.1M433.0 90.1h1.1M404.4 44.5h1.1M412.1 69.0h1.1M395.8 32.2h1.1M436.5 85.3h1.1M418.9 84.1h1.1M423.6 76.5h1.1M409.1 53.8h1.1M396.0 46.9h1.1M392.0 23.2h1.1M419.1 70.0h1.1M434.4 87.0h1.1M410.5 69.6h1.1M424.2 79.7h1.1M414.7 78.8h1.1M387.1 26.9h1.1M403.4 42.6h1.1M422.6 65.4h1.1M444.1 112.3h1.1M418.2 69.0h1.1M441.3 113.9h1.1M417.6 66.0h1.1M416.0 81.2h1.1M428.1 78.3h1.1M406.8 33.7h1.1M444.1 113.8h1.1M426.2 66.1h1.1M421.7 58.7h1.1M397.0 46.5h1.1M390.1 17.9h1.1M406.3 54.8h1.1M407.2 25.5h1.1M424.6 80.4h1.1M444.1 107.8h1.1M403.4 50.9h1.1M400.9 32.7h1.1M400.8 23.0h1.1M432.7 104.1h1.1M387.0 30.9h1.1M442.9 101.2h1.1M394.7 34.6h1.1M414.0 80.8h1.1M425.7 101.6h1.1M415.7 56.5h1.1M440.4 99.9h1.1M421.1 66.2h1.1M401.7 49.1h1.1M398.9 35.2h1.1M409.2 65.2h1.1M426.6 89.0h1.1M404.5 43.0h1.1M420.8 59.1h1.1M410.8 74.5h1.1M425.3 59.0h1.1M442.0 110.3h1.1M409.1 49.9h1.1M437.2 103.9h1.1M432.3 106.2h1.1M417.3 80.9h1.1M428.5 64.6h1.1M440.4 92.9h1.1M432.5 79.8h1.1M423.5 62.8h1.1M406.1 29.2h1.1M441.5 99.5h1.1M440.0 102.3h1.1M439.2 109.5h1.1M437.0 101.1h1.1M427.3 83.1h1.1M426.5 92.6h1.1M397.3 25.7h1.1M424.2 66.3h1.1M383.4 16.7h1.1M431.9 103.2h1.1M430.8 98.7h1.1M411.1 41.3h1.1M430.7 103.4h1.1M432.3 78.7h1.1M419.8 66.6h1.1M427.7 85.5h1.1M408.0 54.7h1.1M418.4 55.1h1.1M423.4 79.3h1.1M430.1 101.2h1.1M436.6 110.0h1.1M444.9 105.7h1.1M407.2 42.2h1.1M393.4 35.8h1.1M426.4 79.5h1.1M399.3 30.2h1.1M426.5 101.7h1.1M445.8 110.6h1.1M386.5 26.4h1.1M389.4 34.6h1.1M404.4 32.2h1.1M418.8 67.6h1.1M438.9 92.5h1.1M421.6 87.3h1.1M404.8 38.4h1.1M418.8 63.4h1.1M429.4 103.2h1.1M393.9 18.1h1.1M413.0 53.8h1.1M420.3 91.0h1.1M401.4 56.8h1.1M441.5 111.3h1.1M423.6 56.6h1.1M415.6 69.6h1.1M385.8 20.4h1.1M418.5 66.8h1.1M436.8 109.7h1.1M447.7 113.2h1.1M427.6 76.8h1.1M420.4 70.3h1.1M395.0 29.3h1.1M440.0 104.0h1.1M443.3 111.1h1.1M422.0 77.9h1.1M413.6 42.7h1.1M397.3 19.7h1.1M411.1 33.7h1.1M419.4 76.3h1.1M442.8 111.3h1.1M436.9 108.5h1.1M419.8 73.6h1.1M402.4 39.0h1.1M394.8 44.8h1.1M412.1 43.3h1.1M443.1 112.8h1.1M401.5 51.6h1.1M412.7 35.0h1.1M405.2 37.2h1.1M413.1 37.2h1.1M386.6 20.4h1.1M399.8 50.6h1.1M382.8 24.3h1.1M428.4 85.8h1.1M426.9 92.1h1.1M428.5 79.6h1.1M425.0 63.3h1.1M416.5 53.1h1.1M446.0 112.4h1.1M385.1 24.8h1.1M409.3 37.2h1.1M440.5 105.8h1.1M422.8 83.5h1.1M389.2 16.6h1.1M426.3 67.3h1.1M414.0 75.7h1.1M380.1 17.9h1.1M406.8 25.7h1.1M410.4 68.1h1.1M420.9 68.9h1.1M414.4 36.9h1.1M417.1 90.0h1.1M376.0 17.8h1.1M400.1 19.7h1.1M392.6 25.8h1.1M432.1 94.4h1.1M426.1 71.6h1.1M429.7 95.2h1.1M396.2 24.5h1.1M399.1 23.0h1.1M437.3 100.8h1.1M420.9 95.9h1.1M400.2 54.8h1.1M439.7 108.8h1.1M435.0 96.3h1.1M420.9 86.8h1.1M415.7 60.0h1.1M406.8 31.1h1.1M382.7 22.5h1.1M444.4 108.5h1.1M411.8 74.8h1.1M412.0 62.0h1.1M432.9 93.0h1.1M399.1 42.0h1.1M402.0 48.7h1.1M393.5 27.2h1.1M411.4 67.6h1.1M414.4 68.5h1.1M393.2 37.2h1.1M413.8 61.7h1.1M397.9 24.6h1.1M405.9 58.8h1.1M438.8 103.8h1.1M383.0 23.8h1.1M418.4 72.7h1.1M445.1 111.8h1.1M419.3 68.6h1.1M402.7 32.7h1.1M439.0 90.5h1.1M398.0 23.4h1.1M437.9 102.0h1.1M443.7 113.8h1.1M420.0 71.4h1.1M403.4 36.7h1.1M408.5 50.5h1.1M397.4 42.3h1.1M403.6 26.0h1.1M405.3 24.6h1.1M397.1 37.3h1.1M401.7 24.4h1.1M409.7 67.7h1.1M382.0 18.5h1.1M432.9 97.0h1.1M392.3 29.8h1.1M435.9 93.5h1.1M415.9 58.5h1.1M420.1 55.7h1.1M396.6 37.5h1.1M435.8 78.4h1.1M400.2 31.9h1.1M435.0 82.6h1.1M425.9 86.3h1.1M419.2 55.8h1.1M411.0 44.7h1.1M425.6 93.7h1.1M406.0 40.5h1.1M383.3 24.6h1.1M388.2 17.6h1.1M416.9 85.0h1.1M447.1 107.3h1.1M413.9 36.9h1.1M397.0 31.0h1.1M431.3 95.1h1.1M420.2 90.5h1.1M416.6 59.6h1.1M396.0 17.5h1.1M440.7 112.2h1.1M419.7 59.3h1.1M389.1 17.1h1.1M407.8 68.0h1.1M429.6 71.4h1.1M441.1 108.3h1.1M402.8 20.8h1.1M442.3 112.4h1.1M441.5 94.9h1.1M395.7 35.8h1.1M427.2 76.1h1.1M439.8 111.5h1.1M397.1 36.7h1.1M437.9 90.8h1.1M414.5 43.4h1.1M402.6 37.3h1.1M435.5 95.9h1.1M420.8 60.3h1.1M415.3 47.9h1.1M436.4 108.6h1.1M400.9 27.5h1.1M386.4 29.0h1.1M405.1 62.9h1.1M423.0 98.5h1.1M424.9 95.4h1.1M441.8 106.9h1.1M417.7 56.7h1.1M383.4 18.2h1.1M423.5 90.1h1.1M404.4 34.2h1.1M397.6 40.5h1.1M433.9 100.9h1.1M388.7 25.4h1.1M408.4 39.3h1.1M428.6 78.1h1.1M386.2 23.8h1.1M424.9 88.5h1.1M427.7 94.6h1.1M413.8 42.3h1.1M409.8 48.9h1.1M385.6 23.7h1.1M404.1 45.7h1.1M384.6 22.3h1.1M418.6 89.0h1.1M424.6 69.4h1.1M435.8 85.4h1.1M395.6 35.6h1.1M415.9 54.8h1.1M437.2 100.6h1.1M419.9 52.7h1.1M417.8 84.9h1.1M424.2 60.7h1.1M430.2 102.2h1.1M445.4 103.7h1.1M393.5 39.5h1.1M397.1 30.9h1.1M438.8 111.6h1.1M417.1 89.7h1.1M422.3 97.5h1.1M425.8 100.2h1.1M429.2 72.4h1.1M403.0 37.2h1.1M446.8 107.9h1.1M433.0 107.5h1.1M407.3 40.6h1.1M398.1 39.7h1.1M404.8 26.5h1.1M447.8 109.7h1.1M411.8 38.6h1.1M426.2 67.1h1.1M404.1 24.7h1.1M419.2 86.9h1.1M408.3 50.5h1.1M396.8 29.8h1.1M430.0 98.4h1.1M395.2 19.7h1.1M425.1 97.5h1.1M433.5 76.1h1.1M411.6 63.4h1.1M423.2 93.3h1.1M409.1 61.5h1.1M442.4 103.6h1.1M411.6 49.8h1.1M425.8 89.0h1.1M390.6 27.8h1.1M411.5 71.6h1.1M413.0 75.8h1.1M415.3 38.5h1.1M437.2 106.6h1.1M381.6 20.7h1.1M391.1 34.6h1.1M426.6 68.8h1.1M409.4 36.7h1.1M426.4 82.3h1.1M444.4 101.4h1.1M402.4 42.1h1.1M420.4 65.6h1.1M420.2 78.9h1.1M385.9 25.1h1.1M392.4 20.9h1.1M419.2 68.8h1.1M442.7 112.6h1.1M409.0 68.9h1.1M439.8 112.8h1.1M399.3 53.4h1.1M394.2 20.6h1.1M394.6 43.6h1.1M410.5 64.2h1.1M389.8 23.8h1.1M428.3 94.5h1.1M417.1 82.4h1.1M395.5 37.6h1.1M400.3 25.0h1.1M403.5 29.6h1.1M407.5 27.3h1.1M442.4 113.0h1.1M395.7 25.3h1.1M392.4 23.7h1.1M432.7 80.5h1.1M425.2 88.2h1.1M397.1 33.0h1.1M400.8 49.8h1.1M440.4 93.4h1.1M422.5 95.1h1.1M440.0 112.4h1.1M425.2 74.9h1.1M408.5 27.6h1.1M424.3 79.2h1.1M421.5 74.6h1.1M396.1 30.2h1.1M413.2 41.1h1.1M418.3 74.0h1.1M440.9 105.1h1.1M404.7 35.7h1.1M431.8 87.0h1.1M435.8 92.1h1.1M387.5 21.7h1.1M411.0 54.8h1.1M434.4 81.4h1.1M432.6 83.1h1.1M394.3 40.2h1.1M396.7 32.8h1.1M422.5 77.9h1.1M420.6 74.8h1.1M399.2 40.0h1.1M438.2 98.5h1.1M422.1 71.9h1.1M435.6 97.1h1.1M414.9 53.9h1.1M382.0 22.7h1.1M406.0 63.1h1.1M427.2 78.0h1.1M395.1 34.3h1.1M405.8 26.2h1.1M391.8 23.8h1.1M410.3 52.7h1.1M436.6 107.3h1.1M391.3 31.9h1.1M424.7 70.4h1.1M423.9 73.6h1.1M405.3 58.6h1.1M442.6 110.2h1.1M411.8 51.9h1.1M380.4 18.4h1.1M443.8 105.5h1.1M407.3 26.6h1.1M392.9 26.5h1.1M417.5 58.4h1.1M412.1 58.1h1.1M406.6 32.9h1.1M447.8 110.9h1.1M427.0 72.7h1.1M393.4 18.9h1.1M429.9 88.1h1.1M413.6 71.8h1.1M438.7 99.0h1.1M419.7 71.9h1.1M426.9 79.0h1.1M418.0 52.6h1.1M428.5 84.3h1.1M407.9 64.2h1.1M400.6 29.6h1.1M419.3 66.6h1.1M414.5 62.7h1.1M425.1 63.7h1.1M429.6 77.0h1.1M442.8 112.8h1.1M408.2 41.1h1.1M435.2 104.6h1.1M428.2 70.7h1.1M430.3 103.3h1.1M423.9 84.4h1.1M403.9 44.8h1.1M399.2 43.6h1.1M430.5 78.5h1.1M421.2 71.5h1.1M411.7 72.4h1.1M406.7 64.3h1.1M437.7 98.5h1.1M416.0 41.2h1.1M401.6 40.6h1.1M422.7 93.9h1.1M437.4 89.1h1.1M421.8 71.9h1.1M407.9 63.4h1.1M400.0 54.7h1.1M403.7 51.5h1.1M393.8 19.9h1.1M409.1 65.4h1.1M421.9 87.1h1.1M393.0 22.7h1.1M416.8 63.9h1.1M428.4 79.3h1.1M421.1 68.2h1.1M409.7 44.2h1.1M440.8 96.7h1.1M433.3 97.3h1.1M405.8 24.1h1.1M425.6 79.1h1.1M403.2 50.4h1.1M424.3 73.4h1.1M435.3 93.6h1.1M374.7 16.3h1.1M387.0 16.3h1.1M401.7 36.4h1.1M409.5 68.2h1.1M416.3 87.5h1.1M419.6 61.0h1.1M431.8 74.6h1.1M384.5 20.5h1.1M418.2 81.8h1.1M433.1 92.8h1.1M414.8 39.0h1.1M414.7 63.1h1.1M380.1 21.2h1.1M411.8 62.6h1.1M400.8 42.3h1.1M443.6 101.3h1.1M401.3 19.9h1.1M428.6 98.1h1.1M421.1 76.9h1.1M424.3 62.5h1.1M393.6 16.2h1.1M402.5 39.0h1.1M437.4 84.8h1.1M433.7 75.4h1.1M400.2 41.0h1.1M434.6 93.9h1.1M410.4 48.5h1.1M410.2 60.9h1.1M394.1 24.4h1.1M401.4 24.2h1.1M396.0 40.8h1.1M431.2 100.2h1.1M381.8 20.7h1.1M436.4 108.2h1.1M429.9 89.2h1.1M440.3 102.0h1.1M415.7 56.9h1.1M396.0 33.2h1.1M390.4 21.1h1.1M416.2 49.5h1.1M431.2 77.3h1.1M442.5 109.8h1.1M406.8 62.6h1.1M425.7 58.1h1.1M402.9 46.2h1.1M418.8 54.7h1.1M410.1 40.2h1.1M398.7 35.2h1.1M403.9 40.7h1.1M423.2 79.6h1.1M395.0 18.5h1.1M430.0 65.6h1.1M411.2 50.3h1.1M407.8 50.2h1.1M441.2 109.9h1.1M438.2 89.6h1.1M396.0 42.7h1.1M420.7 96.4h1.1M407.7 36.4h1.1M417.4 81.5h1.1M429.7 88.4h1.1M425.3 100.8h1.1M438.4 85.8h1.1M437.5 100.5h1.1M402.1 22.4h1.1M409.0 50.7h1.1M414.1 41.8h1.1M424.5 76.4h1.1M404.3 61.7h1.1M406.0 29.0h1.1M388.6 28.3h1.1M428.2 90.8h1.1M418.2 84.7h1.1M442.0 113.3h1.1M432.0 97.4h1.1M384.4 26.4h1.1M448.0 109.6h1.1M441.9 113.0h1.1M406.6 40.9h1.1M432.6 73.2h1.1M437.9 103.2h1.1M408.9 31.6h1.1M438.9 104.6h1.1M424.9 90.4h1.1M428.4 102.6h1.1M384.8 17.8h1.1M423.9 68.0h1.1M403.0 25.4h1.1M422.2 53.3h1.1M434.8 87.8h1.1M442.4 105.9h1.1M408.8 39.9h1.1M420.9 49.9h1.1M430.6 95.5h1.1M425.4 84.2h1.1M410.7 39.2h1.1M410.4 69.6h1.1M433.8 95.6h1.1M416.2 49.5h1.1M425.5 76.6h1.1M432.4 85.5h1.1M433.7 102.0h1.1M400.5 27.1h1.1M417.1 63.8h1.1M428.1 102.9h1.1M389.4 27.6h1.1M405.9 56.0h1.1M392.6 20.7h1.1M430.0 87.1h1.1M417.7 80.1h1.1M431.2 101.2h1.1M388.0 18.0h1.1M420.5 73.3h1.1M444.9 106.3h1.1M406.8 51.3h1.1M430.6 73.7h1.1M408.1 55.1h1.1M443.5 100.0h1.1M419.3 59.4h1.1M418.7 73.5h1.1M428.5 91.5h1.1M387.9 32.0h1.1M416.7 60.0h1.1M422.8 98.3h1.1M413.5 60.1h1.1M406.3 40.8h1.1M425.8 76.3h1.1M406.0 53.0h1.1M437.0 90.4h1.1M410.6 61.2h1.1M393.2 27.6h1.1M425.8 97.6h1.1M432.4 86.2h1.1M437.0 87.2h1.1M433.9 102.0h1.1M417.9 44.3h1.1M396.4 33.0h1.1M414.4 82.7h1.1M422.6 96.7h1.1M398.0 49.1h1.1M445.3 109.6h1.1M442.8 109.4h1.1M441.2 109.7h1.1M382.4 16.5h1.1M390.7 17.4h1.1M396.7 37.2h1.1M411.1 59.2h1.1M441.4 98.4h1.1M384.4 16.6h1.1M431.7 86.4h1.1M434.6 107.3h1.1M443.6 109.7h1.1M393.2 22.2h1.1M442.4 109.8h1.1M392.3 34.8h1.1M422.5 78.0h1.1M434.7 76.4h1.1M408.8 44.4h1.1M434.5 105.2h1.1M423.6 77.0h1.1M416.5 63.8h1.1M405.9 45.7h1.1M412.3 73.0h1.1M395.8 23.9h1.1M433.7 104.6h1.1M414.5 54.4h1.1M448.5 112.5h1.1M435.5 84.9h1.1M409.3 31.0h1.1M433.5 96.1h1.1M433.5 93.2h1.1M398.3 33.7h1.1M415.8 87.7h1.1M379.4 20.9h1.1M417.1 48.3h1.1M417.2 80.0h1.1M428.6 79.2h1.1M389.8 25.4h1.1M419.0 67.8h1.1M422.0 96.5h1.1M402.3 45.3h1.1M439.6 109.4h1.1M425.5 96.4h1.1M433.0 94.4h1.1M420.8 80.6h1.1M403.7 42.8h1.1M416.5 51.5h1.1M445.7 109.6h1.1M414.6 42.2h1.1M421.8 65.2h1.1M424.5 93.7h1.1M432.0 106.7h1.1M423.0 92.3h1.1M416.6 90.4h1.1M449.3 112.9h1.1M400.2 42.1h1.1M425.9 97.2h1.1M415.1 85.8h1.1M407.4 53.6h1.1"/></defs>
<rect width="520" height="503" fill="#fff"/>
<path d="M120.2 120.2L203.25 168.15A95.9 95.9 0 0 1 39.07 171.33Z" fill="#c9c7a7" stroke="#1a1a1a" stroke-width="0.9" stroke-linejoin="round"/>
<path d="M120.2 120.2L39.07 171.33A95.9 95.9 0 0 1 106.84 25.24Z" fill="#4b6186" stroke="#1a1a1a" stroke-width="0.9" stroke-linejoin="round"/>
<path d="M120.2 120.2L106.84 25.24A95.9 95.9 0 0 1 123.46 24.36Z" fill="#6c4a6e" stroke="#1a1a1a" stroke-width="0.9" stroke-linejoin="round"/>
<path d="M120.2 120.2L123.46 24.36A95.9 95.9 0 0 1 141.93 26.80Z" fill="#73aa57" stroke="#1a1a1a" stroke-width="0.9" stroke-linejoin="round"/>
<path d="M120.2 120.2L141.93 26.80A95.9 95.9 0 0 1 143.08 27.07Z" fill="#a2273b" stroke="#1a1a1a" stroke-width="0.9" stroke-linejoin="round"/>
<path d="M120.2 120.2L143.08 27.07A95.9 95.9 0 0 1 194.54 59.62Z" fill="#d2cccf" stroke="#1a1a1a" stroke-width="0.9" stroke-linejoin="round"/>
<path d="M120.2 120.2L194.54 59.62A95.9 95.9 0 0 1 203.25 168.15Z" fill="#646873" stroke="#1a1a1a" stroke-width="0.9" stroke-linejoin="round"/>
<rect x="104.2" y="31.3" width="18.9" height="9.4" fill="#fff" stroke="#1a1a1a" stroke-width="1"/>
<text x="104.44" y="38.7" font-size="8.3" textLength="16.51" lengthAdjust="spacingAndGlyphs" fill="#231f20">2.8%</text>
<rect x="121.5" y="45.8" width="19.5" height="8.8" fill="#fff" stroke="#1a1a1a" stroke-width="1"/>
<text x="122.30" y="53.0" font-size="8.3" textLength="16.95" lengthAdjust="spacingAndGlyphs" fill="#231f20">3.1%</text>
<rect x="129.2" y="59.7" width="19.3" height="9.1" fill="#fff" stroke="#1a1a1a" stroke-width="1"/>
<text x="129.51" y="66.9" font-size="8.3" textLength="16.75" lengthAdjust="spacingAndGlyphs" fill="#231f20">0.2%</text>
<rect x="157.6" y="51.5" width="25.1" height="9.8" fill="#fff" stroke="#1a1a1a" stroke-width="1"/>
<text x="159.06" y="58.8" font-size="8.3" textLength="20.39" lengthAdjust="spacingAndGlyphs" fill="#231f20">10.3%</text>
<rect x="61.7" y="92.0" width="25.1" height="10.2" fill="#fff" stroke="#1a1a1a" stroke-width="1"/>
<text x="63.00" y="100.0" font-size="8.3" textLength="21.37" lengthAdjust="spacingAndGlyphs" fill="#231f20">31.7%</text>
<rect x="171.7" y="110.7" width="25.0" height="10.3" fill="#fff" stroke="#1a1a1a" stroke-width="1"/>
<text x="173.24" y="118.4" font-size="8.3" textLength="21.12" lengthAdjust="spacingAndGlyphs" fill="#231f20">19.2%</text>
<rect x="170.5" y="167.6" width="25.2" height="9.4" fill="#fff" stroke="#1a1a1a" stroke-width="1"/>
<text x="172.00" y="175.0" font-size="8.3" textLength="20.96" lengthAdjust="spacingAndGlyphs" fill="#231f20">32.7%</text>
<rect x="233.3" y="123.3" width="7.5" height="7.5" fill="#c9c7a7"/>
<text x="243.95" y="128.9" font-size="7.0" textLength="64.49" lengthAdjust="spacingAndGlyphs" fill="#231f20">Coding exons (2176)</text>
<rect x="233.3" y="133.7" width="7.5" height="7.5" fill="#4b6186"/>
<text x="244.03" y="139.3" font-size="7.0" textLength="44.50" lengthAdjust="spacingAndGlyphs" fill="#231f20">3&#8217; UTRs (2110)</text>
<rect x="233.3" y="144.1" width="7.5" height="7.5" fill="#6c4a6e"/>
<text x="244.04" y="149.7" font-size="7.0" textLength="40.06" lengthAdjust="spacingAndGlyphs" fill="#231f20">5&#8217; UTRs (184)</text>
<rect x="233.3" y="154.5" width="7.5" height="7.5" fill="#73aa57"/>
<text x="243.74" y="160.1" font-size="7.0" textLength="57.10" lengthAdjust="spacingAndGlyphs" fill="#231f20">Pseudogene (206)</text>
<rect x="233.3" y="164.9" width="7.5" height="7.5" fill="#a2273b"/>
<text x="243.77" y="170.5" font-size="7.0" textLength="48.35" lengthAdjust="spacingAndGlyphs" fill="#231f20">Misc. RNAs (13)</text>
<rect x="233.3" y="175.3" width="7.5" height="7.5" fill="#d2cccf"/>
<text x="243.66" y="180.9" font-size="7.0" textLength="40.50" lengthAdjust="spacingAndGlyphs" fill="#231f20">Introns (684)</text>
<rect x="233.3" y="185.7" width="7.5" height="7.5" fill="#646873"/>
<text x="243.65" y="191.3" font-size="7.0" textLength="54.32" lengthAdjust="spacingAndGlyphs" fill="#231f20">Intergenic (1278)</text>
<text x="7.0" y="16.0" font-size="11.3" fill="#231f20">A</text>
<text x="6.3" y="242.1" font-size="11.3" fill="#231f20">C</text>
<path d="M44.9 252.9V440.3M44.2 439.6H222.2" stroke="#3a3a3a" stroke-width="1.5" fill="none"/>
<text x="38.2" y="442.4" font-size="7.7" text-anchor="end" fill="#231f20">0</text>
<text x="38.2" y="407.0" font-size="7.7" text-anchor="end" fill="#231f20">100</text>
<text x="38.2" y="371.6" font-size="7.7" text-anchor="end" fill="#231f20">200</text>
<text x="38.2" y="336.1" font-size="7.7" text-anchor="end" fill="#231f20">300</text>
<text x="38.2" y="300.7" font-size="7.7" text-anchor="end" fill="#231f20">400</text>
<text x="38.2" y="265.3" font-size="7.7" text-anchor="end" fill="#231f20">500</text>
<rect x="57.35" y="390.26" width="19.70" height="48.73" fill="#4b6285" stroke="#3c5277" stroke-width="0.5"/>
<rect x="57.10" y="438.95" width="20.2" height="0.65" fill="#5a1a2a"/>
<text x="67.2" y="385.7" font-size="7.2" text-anchor="middle" fill="#231f20">99%*</text>
<text transform="translate(69.2 452.0) rotate(-45)" font-size="7.9" text-anchor="end" fill="#231f20">miR-451</text>
<rect x="83.97" y="338.55" width="19.70" height="70.34" fill="#4b6285" stroke="#3c5277" stroke-width="0.5"/>
<rect x="83.97" y="409.39" width="19.70" height="29.96" fill="#a13443" stroke="#8e2a38" stroke-width="0.5"/>
<text x="93.8" y="334.0" font-size="7.2" text-anchor="middle" fill="#231f20">70%*</text>
<text transform="translate(95.8 452.0) rotate(-45)" font-size="7.9" text-anchor="end" fill="#231f20">miR-144-3p</text>
<rect x="110.59" y="429.93" width="19.70" height="4.81" fill="#4b6285" stroke="#3c5277" stroke-width="0.5"/>
<rect x="110.59" y="435.25" width="19.70" height="4.10" fill="#a13443" stroke="#8e2a38" stroke-width="0.5"/>
<text x="120.4" y="425.4" font-size="7.2" text-anchor="middle" fill="#231f20">52%</text>
<text transform="translate(122.4 452.0) rotate(-45)" font-size="7.9" text-anchor="end" fill="#231f20">miR-144-5p</text>
<rect x="137.21" y="427.45" width="19.70" height="3.04" fill="#4b6285" stroke="#3c5277" stroke-width="0.5"/>
<rect x="137.21" y="431.00" width="19.70" height="8.36" fill="#a13443" stroke="#8e2a38" stroke-width="0.5"/>
<text x="147.1" y="422.9" font-size="7.2" text-anchor="middle" fill="#231f20">24%</text>
<text transform="translate(149.1 452.0) rotate(-45)" font-size="7.9" text-anchor="end" fill="#231f20">miR-486a-5p</text>
<rect x="163.83" y="264.88" width="19.70" height="11.19" fill="#4b6285" stroke="#3c5277" stroke-width="0.5"/>
<rect x="163.83" y="276.56" width="19.70" height="162.79" fill="#a13443" stroke="#8e2a38" stroke-width="0.5"/>
<text x="173.7" y="260.3" font-size="7.2" text-anchor="middle" fill="#231f20">6%*</text>
<text transform="translate(175.7 452.0) rotate(-45)" font-size="7.9" text-anchor="end" fill="#231f20">miR-16-5p</text>
<rect x="190.45" y="390.26" width="19.70" height="1.98" fill="#4b6285" stroke="#3c5277" stroke-width="0.5"/>
<rect x="190.45" y="392.74" width="19.70" height="46.61" fill="#a13443" stroke="#8e2a38" stroke-width="0.5"/>
<text x="200.3" y="385.7" font-size="7.2" text-anchor="middle" fill="#231f20">5%*</text>
<text transform="translate(202.3 452.0) rotate(-45)" font-size="7.9" text-anchor="end" fill="#231f20">miR-122-5p</text>
<path d="M42 439.6H44.5M42 404.2H44.5M42 368.8H44.5M42 333.3H44.5M42 297.9H44.5M42 262.5H44.5M67.2 440V443.3M93.8 440V443.3M120.4 440V443.3M147.1 440V443.3M173.7 440V443.3M200.3 440V443.3" stroke="#3a3a3a" stroke-width="1" fill="none"/>
<text transform="translate(21.50 400.00) rotate(-90)" x="-0.71" y="0" font-size="9.4" textLength="108.52" lengthAdjust="spacingAndGlyphs" fill="#231f20">Peaks with canonical seeds</text>
<rect x="230.15" y="273.35" width="8.4" height="8.1" fill="#4b6285" stroke="#3c5277" stroke-width="0.5"/>
<rect x="230.15" y="284.55" width="8.4" height="8.1" fill="#a13443" stroke="#8e2a38" stroke-width="0.5"/>
<text x="241.44" y="279.9" font-size="7.0" textLength="47.59" lengthAdjust="spacingAndGlyphs" fill="#231f20">Depleted in KO</text>
<text x="241.43" y="290.9" font-size="7.0" textLength="60.12" lengthAdjust="spacingAndGlyphs" fill="#231f20">Not depleted in KO</text>
<text x="329.6" y="15.8" font-size="11.3" fill="#231f20">B</text>
<use href="#pnon" transform="translate(0 17.0)" stroke="#c6c6c6" stroke-width="1.1"/>
<use href="#psig" transform="translate(0 17.0)" stroke="#000" stroke-width="1.1"/>
<use href="#pnon" transform="translate(0 179.8)" stroke="#c0c0c0" stroke-width="1.15"/>
<use href="#psig" transform="translate(0 179.8)" stroke="#c0c0c0" stroke-width="1.15"/>
<use href="#pext" transform="translate(0 179.8)" stroke="#cbcbcb" stroke-width="1.15"/>
<use href="#pnon" transform="translate(0 342.5)" stroke="#c0c0c0" stroke-width="1.15"/>
<use href="#psig" transform="translate(0 342.5)" stroke="#c0c0c0" stroke-width="1.15"/>
<use href="#pext" transform="translate(0 342.5)" stroke="#cbcbcb" stroke-width="1.15"/>
<path d="M375.8 187.8h1.9v1.9h-1.9zM381.1 187.8h1.9v1.9h-1.9zM382.6 187.8h1.9v1.9h-1.9zM374.3 187.8h1.9v1.9h-1.9zM376.1 187.8h1.9v1.9h-1.9zM387.3 187.8h1.9v1.9h-1.9zM374.9 187.8h1.9v1.9h-1.9zM380.9 190.8h1.9v1.9h-1.9zM393.1 190.8h1.9v1.9h-1.9zM388.2 190.8h1.9v1.9h-1.9zM407.0 220.1h1.9v1.9h-1.9zM397.5 208.3h1.9v1.9h-1.9zM416.2 229.3h1.9v1.9h-1.9zM401.9 208.0h1.9v1.9h-1.9zM398.5 202.2h1.9v1.9h-1.9zM386.6 195.6h1.9v1.9h-1.9zM403.4 212.7h1.9v1.9h-1.9zM408.9 220.7h1.9v1.9h-1.9zM414.9 225.4h1.9v1.9h-1.9zM389.2 200.2h1.9v1.9h-1.9zM400.8 216.2h1.9v1.9h-1.9zM419.5 231.5h1.9v1.9h-1.9zM398.9 217.7h1.9v1.9h-1.9zM395.9 207.9h1.9v1.9h-1.9zM389.8 198.8h1.9v1.9h-1.9zM407.3 233.5h1.9v1.9h-1.9zM406.6 221.0h1.9v1.9h-1.9zM398.5 198.6h1.9v1.9h-1.9zM397.8 221.3h1.9v1.9h-1.9zM419.8 228.5h1.9v1.9h-1.9zM409.0 216.5h1.9v1.9h-1.9zM403.6 232.7h1.9v1.9h-1.9zM398.4 201.0h1.9v1.9h-1.9zM404.2 222.5h1.9v1.9h-1.9zM405.5 231.3h1.9v1.9h-1.9zM419.7 233.9h1.9v1.9h-1.9zM397.9 216.2h1.9v1.9h-1.9zM394.2 205.3h1.9v1.9h-1.9zM414.3 232.4h1.9v1.9h-1.9zM386.5 199.0h1.9v1.9h-1.9zM392.2 202.6h1.9v1.9h-1.9zM402.4 231.1h1.9v1.9h-1.9zM412.5 223.1h1.9v1.9h-1.9zM411.6 215.1h1.9v1.9h-1.9zM405.7 226.2h1.9v1.9h-1.9zM418.0 224.5h1.9v1.9h-1.9zM390.6 197.2h1.9v1.9h-1.9zM402.1 217.4h1.9v1.9h-1.9zM391.1 205.0h1.9v1.9h-1.9zM410.4 232.2h1.9v1.9h-1.9zM415.6 225.0h1.9v1.9h-1.9zM400.7 205.2h1.9v1.9h-1.9zM405.5 208.4h1.9v1.9h-1.9zM406.7 203.6h1.9v1.9h-1.9zM412.9 228.9h1.9v1.9h-1.9zM409.5 229.1h1.9v1.9h-1.9zM406.0 203.4h1.9v1.9h-1.9zM390.6 204.5h1.9v1.9h-1.9zM400.3 220.5h1.9v1.9h-1.9zM384.8 194.9h1.9v1.9h-1.9zM406.1 225.1h1.9v1.9h-1.9zM419.5 232.4h1.9v1.9h-1.9zM395.9 209.4h1.9v1.9h-1.9zM396.5 214.9h1.9v1.9h-1.9zM397.6 210.4h1.9v1.9h-1.9zM405.6 233.3h1.9v1.9h-1.9zM406.3 212.6h1.9v1.9h-1.9zM410.4 221.9h1.9v1.9h-1.9zM399.8 220.8h1.9v1.9h-1.9zM405.6 222.2h1.9v1.9h-1.9zM406.2 234.3h1.9v1.9h-1.9zM429.5 267.4h1.9v1.9h-1.9zM420.1 232.3h1.9v1.9h-1.9zM410.4 242.8h1.9v1.9h-1.9zM419.4 238.6h1.9v1.9h-1.9zM427.2 265.1h1.9v1.9h-1.9zM433.7 268.9h1.9v1.9h-1.9zM423.7 242.1h1.9v1.9h-1.9zM412.7 240.4h1.9v1.9h-1.9zM411.7 239.3h1.9v1.9h-1.9zM426.1 265.3h1.9v1.9h-1.9zM418.5 250.9h1.9v1.9h-1.9zM422.3 246.6h1.9v1.9h-1.9zM428.5 261.3h1.9v1.9h-1.9zM428.7 256.6h1.9v1.9h-1.9zM430.8 259.2h1.9v1.9h-1.9zM424.6 254.2h1.9v1.9h-1.9zM419.4 243.9h1.9v1.9h-1.9zM434.2 260.5h1.9v1.9h-1.9zM425.7 267.0h1.9v1.9h-1.9zM412.9 248.9h1.9v1.9h-1.9zM432.4 264.7h1.9v1.9h-1.9zM419.1 239.5h1.9v1.9h-1.9zM418.6 234.8h1.9v1.9h-1.9zM428.1 258.9h1.9v1.9h-1.9zM429.2 257.2h1.9v1.9h-1.9zM418.3 255.5h1.9v1.9h-1.9zM418.0 235.8h1.9v1.9h-1.9zM418.5 241.1h1.9v1.9h-1.9zM415.6 239.5h1.9v1.9h-1.9zM413.2 248.2h1.9v1.9h-1.9zM427.0 248.6h1.9v1.9h-1.9zM424.0 242.6h1.9v1.9h-1.9zM429.1 251.0h1.9v1.9h-1.9zM434.2 266.5h1.9v1.9h-1.9zM417.5 256.0h1.9v1.9h-1.9zM419.3 246.1h1.9v1.9h-1.9zM429.6 253.7h1.9v1.9h-1.9zM429.7 265.3h1.9v1.9h-1.9zM424.2 254.3h1.9v1.9h-1.9zM415.8 250.9h1.9v1.9h-1.9zM428.5 250.4h1.9v1.9h-1.9zM419.6 264.0h1.9v1.9h-1.9zM428.2 268.1h1.9v1.9h-1.9zM403.4 231.9h1.9v1.9h-1.9zM412.4 231.2h1.9v1.9h-1.9zM426.8 266.0h1.9v1.9h-1.9zM430.4 262.6h1.9v1.9h-1.9zM417.7 249.2h1.9v1.9h-1.9zM432.4 260.6h1.9v1.9h-1.9zM406.8 377.0h1.9v1.9h-1.9zM406.9 389.7h1.9v1.9h-1.9zM394.0 371.0h1.9v1.9h-1.9zM403.3 377.3h1.9v1.9h-1.9zM403.1 378.8h1.9v1.9h-1.9zM411.2 390.6h1.9v1.9h-1.9zM418.4 393.4h1.9v1.9h-1.9zM400.9 374.4h1.9v1.9h-1.9zM446.7 455.5h1.9v1.9h-1.9zM426.5 435.7h1.9v1.9h-1.9zM449.7 459.2h1.9v1.9h-1.9zM447.3 455.5h1.9v1.9h-1.9zM445.0 455.4h1.9v1.9h-1.9zM449.6 459.1h1.9v1.9h-1.9zM441.1 448.1h1.9v1.9h-1.9zM440.8 449.9h1.9v1.9h-1.9zM446.8 455.6h1.9v1.9h-1.9zM429.6 435.6h1.9v1.9h-1.9zM461.5 451.1h1.9v1.9h-1.9zM452.4 461.0h1.9v1.9h-1.9zM465.4 451.1h1.9v1.9h-1.9zM456.9 458.4h1.9v1.9h-1.9z" fill="#b65a22" stroke="#6e3512" stroke-width="0.3"/>
<path d="M402.5 210.1l1.3 1.3l-1.3 1.3l-1.3 -1.3zM417.3 231.0l1.3 1.3l-1.3 1.3l-1.3 -1.3zM388.0 198.2l1.3 1.3l-1.3 1.3l-1.3 -1.3zM418.4 245.3l1.3 1.3l-1.3 1.3l-1.3 -1.3zM401.6 225.1l1.3 1.3l-1.3 1.3l-1.3 -1.3zM418.6 251.4l1.3 1.3l-1.3 1.3l-1.3 -1.3zM417.9 232.1l1.3 1.3l-1.3 1.3l-1.3 -1.3zM398.2 219.1l1.3 1.3l-1.3 1.3l-1.3 -1.3zM422.9 251.9l1.3 1.3l-1.3 1.3l-1.3 -1.3zM407.8 203.8l1.3 1.3l-1.3 1.3l-1.3 -1.3zM421.4 233.3l1.3 1.3l-1.3 1.3l-1.3 -1.3zM395.9 200.6l1.3 1.3l-1.3 1.3l-1.3 -1.3zM401.6 211.2l1.3 1.3l-1.3 1.3l-1.3 -1.3zM422.4 245.6l1.3 1.3l-1.3 1.3l-1.3 -1.3zM425.7 249.5l1.3 1.3l-1.3 1.3l-1.3 -1.3zM410.4 207.6l1.3 1.3l-1.3 1.3l-1.3 -1.3zM404.0 228.5l1.3 1.3l-1.3 1.3l-1.3 -1.3zM405.8 202.2l1.3 1.3l-1.3 1.3l-1.3 -1.3zM397.7 198.4l1.3 1.3l-1.3 1.3l-1.3 -1.3zM403.5 215.4l1.3 1.3l-1.3 1.3l-1.3 -1.3zM416.4 243.9l1.3 1.3l-1.3 1.3l-1.3 -1.3zM401.4 212.7l1.3 1.3l-1.3 1.3l-1.3 -1.3zM405.6 214.4l1.3 1.3l-1.3 1.3l-1.3 -1.3zM420.4 228.5l1.3 1.3l-1.3 1.3l-1.3 -1.3zM420.5 244.9l1.3 1.3l-1.3 1.3l-1.3 -1.3zM429.0 245.2l1.3 1.3l-1.3 1.3l-1.3 -1.3zM407.1 226.2l1.3 1.3l-1.3 1.3l-1.3 -1.3zM422.4 244.7l1.3 1.3l-1.3 1.3l-1.3 -1.3zM405.8 231.4l1.3 1.3l-1.3 1.3l-1.3 -1.3zM422.2 252.6l1.3 1.3l-1.3 1.3l-1.3 -1.3zM408.5 220.7l1.3 1.3l-1.3 1.3l-1.3 -1.3zM406.6 202.3l1.3 1.3l-1.3 1.3l-1.3 -1.3zM402.9 200.2l1.3 1.3l-1.3 1.3l-1.3 -1.3zM411.1 226.8l1.3 1.3l-1.3 1.3l-1.3 -1.3zM411.1 231.5l1.3 1.3l-1.3 1.3l-1.3 -1.3zM429.1 252.1l1.3 1.3l-1.3 1.3l-1.3 -1.3zM409.3 240.2l1.3 1.3l-1.3 1.3l-1.3 -1.3zM415.1 227.4l1.3 1.3l-1.3 1.3l-1.3 -1.3zM409.1 229.2l1.3 1.3l-1.3 1.3l-1.3 -1.3zM399.8 216.3l1.3 1.3l-1.3 1.3l-1.3 -1.3zM426.2 253.8l1.3 1.3l-1.3 1.3l-1.3 -1.3zM416.6 223.7l1.3 1.3l-1.3 1.3l-1.3 -1.3zM417.9 230.4l1.3 1.3l-1.3 1.3l-1.3 -1.3zM416.3 253.5l1.3 1.3l-1.3 1.3l-1.3 -1.3zM402.4 219.8l1.3 1.3l-1.3 1.3l-1.3 -1.3zM416.6 250.6l1.3 1.3l-1.3 1.3l-1.3 -1.3zM410.6 232.8l1.3 1.3l-1.3 1.3l-1.3 -1.3zM416.2 221.8l1.3 1.3l-1.3 1.3l-1.3 -1.3zM408.0 233.3l1.3 1.3l-1.3 1.3l-1.3 -1.3zM398.5 221.0l1.3 1.3l-1.3 1.3l-1.3 -1.3zM409.9 232.2l1.3 1.3l-1.3 1.3l-1.3 -1.3zM404.8 232.0l1.3 1.3l-1.3 1.3l-1.3 -1.3zM411.3 222.4l1.3 1.3l-1.3 1.3l-1.3 -1.3zM412.9 211.0l1.3 1.3l-1.3 1.3l-1.3 -1.3zM417.4 233.9l1.3 1.3l-1.3 1.3l-1.3 -1.3zM406.1 228.9l1.3 1.3l-1.3 1.3l-1.3 -1.3zM404.0 202.9l1.3 1.3l-1.3 1.3l-1.3 -1.3zM403.0 199.8l1.3 1.3l-1.3 1.3l-1.3 -1.3zM391.2 201.3l1.3 1.3l-1.3 1.3l-1.3 -1.3zM419.3 253.6l1.3 1.3l-1.3 1.3l-1.3 -1.3zM416.1 230.6l1.3 1.3l-1.3 1.3l-1.3 -1.3zM411.9 229.1l1.3 1.3l-1.3 1.3l-1.3 -1.3zM395.6 210.4l1.3 1.3l-1.3 1.3l-1.3 -1.3zM397.1 215.2l1.3 1.3l-1.3 1.3l-1.3 -1.3zM422.2 240.1l1.3 1.3l-1.3 1.3l-1.3 -1.3zM403.9 214.9l1.3 1.3l-1.3 1.3l-1.3 -1.3zM422.6 237.4l1.3 1.3l-1.3 1.3l-1.3 -1.3zM408.3 238.6l1.3 1.3l-1.3 1.3l-1.3 -1.3zM409.1 240.2l1.3 1.3l-1.3 1.3l-1.3 -1.3zM395.3 207.5l1.3 1.3l-1.3 1.3l-1.3 -1.3zM390.3 198.0l1.3 1.3l-1.3 1.3l-1.3 -1.3zM417.7 236.7l1.3 1.3l-1.3 1.3l-1.3 -1.3zM413.7 236.6l1.3 1.3l-1.3 1.3l-1.3 -1.3zM420.3 248.5l1.3 1.3l-1.3 1.3l-1.3 -1.3zM419.5 253.0l1.3 1.3l-1.3 1.3l-1.3 -1.3zM394.4 201.8l1.3 1.3l-1.3 1.3l-1.3 -1.3zM420.6 238.8l1.3 1.3l-1.3 1.3l-1.3 -1.3zM395.9 203.3l1.3 1.3l-1.3 1.3l-1.3 -1.3zM417.8 232.7l1.3 1.3l-1.3 1.3l-1.3 -1.3zM405.3 208.6l1.3 1.3l-1.3 1.3l-1.3 -1.3zM414.4 244.1l1.3 1.3l-1.3 1.3l-1.3 -1.3zM407.9 210.5l1.3 1.3l-1.3 1.3l-1.3 -1.3zM404.3 202.5l1.3 1.3l-1.3 1.3l-1.3 -1.3zM405.2 230.1l1.3 1.3l-1.3 1.3l-1.3 -1.3zM403.0 202.9l1.3 1.3l-1.3 1.3l-1.3 -1.3zM411.9 221.1l1.3 1.3l-1.3 1.3l-1.3 -1.3zM410.4 232.2l1.3 1.3l-1.3 1.3l-1.3 -1.3zM408.0 221.1l1.3 1.3l-1.3 1.3l-1.3 -1.3zM413.5 213.4l1.3 1.3l-1.3 1.3l-1.3 -1.3zM399.0 205.4l1.3 1.3l-1.3 1.3l-1.3 -1.3zM421.9 232.9l1.3 1.3l-1.3 1.3l-1.3 -1.3zM418.8 231.6l1.3 1.3l-1.3 1.3l-1.3 -1.3zM421.7 249.1l1.3 1.3l-1.3 1.3l-1.3 -1.3zM415.8 224.6l1.3 1.3l-1.3 1.3l-1.3 -1.3zM393.4 203.6l1.3 1.3l-1.3 1.3l-1.3 -1.3zM409.9 218.7l1.3 1.3l-1.3 1.3l-1.3 -1.3zM427.2 245.7l1.3 1.3l-1.3 1.3l-1.3 -1.3zM417.9 222.4l1.3 1.3l-1.3 1.3l-1.3 -1.3zM420.6 243.7l1.3 1.3l-1.3 1.3l-1.3 -1.3zM418.2 235.7l1.3 1.3l-1.3 1.3l-1.3 -1.3zM407.8 219.2l1.3 1.3l-1.3 1.3l-1.3 -1.3zM415.5 235.7l1.3 1.3l-1.3 1.3l-1.3 -1.3zM421.3 232.9l1.3 1.3l-1.3 1.3l-1.3 -1.3zM410.6 227.7l1.3 1.3l-1.3 1.3l-1.3 -1.3zM413.1 239.5l1.3 1.3l-1.3 1.3l-1.3 -1.3zM393.1 199.2l1.3 1.3l-1.3 1.3l-1.3 -1.3zM402.1 204.1l1.3 1.3l-1.3 1.3l-1.3 -1.3zM389.0 197.6l1.3 1.3l-1.3 1.3l-1.3 -1.3zM402.2 199.9l1.3 1.3l-1.3 1.3l-1.3 -1.3zM412.6 221.6l1.3 1.3l-1.3 1.3l-1.3 -1.3zM403.8 212.6l1.3 1.3l-1.3 1.3l-1.3 -1.3zM401.6 217.7l1.3 1.3l-1.3 1.3l-1.3 -1.3zM427.5 253.3l1.3 1.3l-1.3 1.3l-1.3 -1.3zM418.6 227.0l1.3 1.3l-1.3 1.3l-1.3 -1.3zM423.5 239.2l1.3 1.3l-1.3 1.3l-1.3 -1.3zM402.4 197.3l1.3 1.3l-1.3 1.3l-1.3 -1.3zM389.8 198.6l1.3 1.3l-1.3 1.3l-1.3 -1.3zM415.8 244.9l1.3 1.3l-1.3 1.3l-1.3 -1.3zM406.9 233.5l1.3 1.3l-1.3 1.3l-1.3 -1.3zM412.3 245.8l1.3 1.3l-1.3 1.3l-1.3 -1.3zM421.4 252.0l1.3 1.3l-1.3 1.3l-1.3 -1.3zM426.0 258.7l1.3 1.3l-1.3 1.3l-1.3 -1.3zM430.9 256.2l1.3 1.3l-1.3 1.3l-1.3 -1.3zM429.1 264.1l1.3 1.3l-1.3 1.3l-1.3 -1.3zM427.3 270.4l1.3 1.3l-1.3 1.3l-1.3 -1.3zM426.7 267.6l1.3 1.3l-1.3 1.3l-1.3 -1.3zM430.1 265.4l1.3 1.3l-1.3 1.3l-1.3 -1.3zM426.1 265.2l1.3 1.3l-1.3 1.3l-1.3 -1.3zM416.4 254.2l1.3 1.3l-1.3 1.3l-1.3 -1.3zM424.9 272.4l1.3 1.3l-1.3 1.3l-1.3 -1.3zM426.8 253.5l1.3 1.3l-1.3 1.3l-1.3 -1.3zM433.6 256.5l1.3 1.3l-1.3 1.3l-1.3 -1.3zM436.2 267.7l1.3 1.3l-1.3 1.3l-1.3 -1.3zM429.8 267.2l1.3 1.3l-1.3 1.3l-1.3 -1.3zM431.2 257.5l1.3 1.3l-1.3 1.3l-1.3 -1.3zM429.1 267.0l1.3 1.3l-1.3 1.3l-1.3 -1.3zM427.8 271.5l1.3 1.3l-1.3 1.3l-1.3 -1.3zM430.5 250.9l1.3 1.3l-1.3 1.3l-1.3 -1.3zM431.8 259.7l1.3 1.3l-1.3 1.3l-1.3 -1.3zM421.2 252.7l1.3 1.3l-1.3 1.3l-1.3 -1.3zM422.5 250.9l1.3 1.3l-1.3 1.3l-1.3 -1.3zM430.6 269.0l1.3 1.3l-1.3 1.3l-1.3 -1.3zM430.2 259.4l1.3 1.3l-1.3 1.3l-1.3 -1.3zM418.6 257.7l1.3 1.3l-1.3 1.3l-1.3 -1.3zM433.7 258.4l1.3 1.3l-1.3 1.3l-1.3 -1.3zM434.3 257.8l1.3 1.3l-1.3 1.3l-1.3 -1.3zM432.7 261.2l1.3 1.3l-1.3 1.3l-1.3 -1.3zM436.3 269.4l1.3 1.3l-1.3 1.3l-1.3 -1.3zM434.2 262.9l1.3 1.3l-1.3 1.3l-1.3 -1.3zM430.9 265.4l1.3 1.3l-1.3 1.3l-1.3 -1.3zM428.3 253.9l1.3 1.3l-1.3 1.3l-1.3 -1.3zM434.6 258.9l1.3 1.3l-1.3 1.3l-1.3 -1.3zM424.6 270.6l1.3 1.3l-1.3 1.3l-1.3 -1.3zM434.8 260.4l1.3 1.3l-1.3 1.3l-1.3 -1.3zM423.0 257.4l1.3 1.3l-1.3 1.3l-1.3 -1.3zM429.7 270.1l1.3 1.3l-1.3 1.3l-1.3 -1.3zM427.3 261.9l1.3 1.3l-1.3 1.3l-1.3 -1.3zM423.0 258.9l1.3 1.3l-1.3 1.3l-1.3 -1.3zM420.6 253.1l1.3 1.3l-1.3 1.3l-1.3 -1.3zM428.2 270.1l1.3 1.3l-1.3 1.3l-1.3 -1.3zM417.8 251.9l1.3 1.3l-1.3 1.3l-1.3 -1.3zM436.0 266.4l1.3 1.3l-1.3 1.3l-1.3 -1.3zM434.2 264.8l1.3 1.3l-1.3 1.3l-1.3 -1.3zM436.8 271.5l1.3 1.3l-1.3 1.3l-1.3 -1.3zM424.6 267.3l1.3 1.3l-1.3 1.3l-1.3 -1.3zM434.0 256.2l1.3 1.3l-1.3 1.3l-1.3 -1.3zM428.0 251.4l1.3 1.3l-1.3 1.3l-1.3 -1.3zM432.5 252.4l1.3 1.3l-1.3 1.3l-1.3 -1.3zM421.4 260.3l1.3 1.3l-1.3 1.3l-1.3 -1.3zM422.8 253.8l1.3 1.3l-1.3 1.3l-1.3 -1.3zM429.0 265.6l1.3 1.3l-1.3 1.3l-1.3 -1.3zM423.8 271.7l1.3 1.3l-1.3 1.3l-1.3 -1.3zM430.9 266.7l1.3 1.3l-1.3 1.3l-1.3 -1.3zM433.4 256.0l1.3 1.3l-1.3 1.3l-1.3 -1.3zM432.5 254.5l1.3 1.3l-1.3 1.3l-1.3 -1.3zM430.6 258.5l1.3 1.3l-1.3 1.3l-1.3 -1.3zM420.1 259.6l1.3 1.3l-1.3 1.3l-1.3 -1.3zM434.8 271.1l1.3 1.3l-1.3 1.3l-1.3 -1.3zM434.3 268.0l1.3 1.3l-1.3 1.3l-1.3 -1.3zM419.9 262.3l1.3 1.3l-1.3 1.3l-1.3 -1.3zM426.3 260.1l1.3 1.3l-1.3 1.3l-1.3 -1.3zM427.1 270.9l1.3 1.3l-1.3 1.3l-1.3 -1.3zM426.6 265.8l1.3 1.3l-1.3 1.3l-1.3 -1.3zM420.3 256.9l1.3 1.3l-1.3 1.3l-1.3 -1.3zM429.8 262.7l1.3 1.3l-1.3 1.3l-1.3 -1.3zM416.9 251.7l1.3 1.3l-1.3 1.3l-1.3 -1.3zM426.1 270.8l1.3 1.3l-1.3 1.3l-1.3 -1.3zM424.4 267.6l1.3 1.3l-1.3 1.3l-1.3 -1.3zM426.4 270.8l1.3 1.3l-1.3 1.3l-1.3 -1.3zM429.3 267.6l1.3 1.3l-1.3 1.3l-1.3 -1.3zM424.3 258.2l1.3 1.3l-1.3 1.3l-1.3 -1.3zM423.8 268.8l1.3 1.3l-1.3 1.3l-1.3 -1.3zM424.2 266.7l1.3 1.3l-1.3 1.3l-1.3 -1.3zM433.8 261.9l1.3 1.3l-1.3 1.3l-1.3 -1.3zM420.9 256.7l1.3 1.3l-1.3 1.3l-1.3 -1.3zM424.6 271.7l1.3 1.3l-1.3 1.3l-1.3 -1.3zM425.9 262.9l1.3 1.3l-1.3 1.3l-1.3 -1.3zM419.2 257.5l1.3 1.3l-1.3 1.3l-1.3 -1.3zM432.3 266.9l1.3 1.3l-1.3 1.3l-1.3 -1.3zM427.4 260.0l1.3 1.3l-1.3 1.3l-1.3 -1.3zM448.0 294.0l1.3 1.3l-1.3 1.3l-1.3 -1.3zM437.9 280.5l1.3 1.3l-1.3 1.3l-1.3 -1.3zM440.0 278.9l1.3 1.3l-1.3 1.3l-1.3 -1.3zM439.9 282.7l1.3 1.3l-1.3 1.3l-1.3 -1.3zM451.2 296.4l1.3 1.3l-1.3 1.3l-1.3 -1.3zM450.7 295.9l1.3 1.3l-1.3 1.3l-1.3 -1.3zM432.5 275.7l1.3 1.3l-1.3 1.3l-1.3 -1.3zM450.7 296.8l1.3 1.3l-1.3 1.3l-1.3 -1.3zM439.9 281.6l1.3 1.3l-1.3 1.3l-1.3 -1.3zM452.2 298.0l1.3 1.3l-1.3 1.3l-1.3 -1.3zM445.2 291.1l1.3 1.3l-1.3 1.3l-1.3 -1.3zM448.2 292.0l1.3 1.3l-1.3 1.3l-1.3 -1.3zM449.4 293.3l1.3 1.3l-1.3 1.3l-1.3 -1.3zM451.8 297.1l1.3 1.3l-1.3 1.3l-1.3 -1.3zM452.5 298.1l1.3 1.3l-1.3 1.3l-1.3 -1.3zM432.0 272.5l1.3 1.3l-1.3 1.3l-1.3 -1.3zM448.7 294.2l1.3 1.3l-1.3 1.3l-1.3 -1.3zM433.6 272.5l1.3 1.3l-1.3 1.3l-1.3 -1.3zM437.9 281.9l1.3 1.3l-1.3 1.3l-1.3 -1.3zM429.5 272.5l1.3 1.3l-1.3 1.3l-1.3 -1.3zM441.7 281.6l1.3 1.3l-1.3 1.3l-1.3 -1.3zM437.1 275.7l1.3 1.3l-1.3 1.3l-1.3 -1.3zM428.9 272.5l1.3 1.3l-1.3 1.3l-1.3 -1.3zM450.8 295.9l1.3 1.3l-1.3 1.3l-1.3 -1.3zM442.4 282.9l1.3 1.3l-1.3 1.3l-1.3 -1.3zM440.7 282.6l1.3 1.3l-1.3 1.3l-1.3 -1.3zM442.2 287.8l1.3 1.3l-1.3 1.3l-1.3 -1.3zM441.7 286.7l1.3 1.3l-1.3 1.3l-1.3 -1.3zM440.0 286.4l1.3 1.3l-1.3 1.3l-1.3 -1.3zM443.7 287.2l1.3 1.3l-1.3 1.3l-1.3 -1.3zM448.6 292.4l1.3 1.3l-1.3 1.3l-1.3 -1.3zM450.5 295.2l1.3 1.3l-1.3 1.3l-1.3 -1.3zM448.9 294.6l1.3 1.3l-1.3 1.3l-1.3 -1.3zM444.4 289.0l1.3 1.3l-1.3 1.3l-1.3 -1.3zM432.0 274.5l1.3 1.3l-1.3 1.3l-1.3 -1.3zM439.7 282.6l1.3 1.3l-1.3 1.3l-1.3 -1.3zM432.4 275.2l1.3 1.3l-1.3 1.3l-1.3 -1.3zM442.1 286.0l1.3 1.3l-1.3 1.3l-1.3 -1.3zM446.3 288.8l1.3 1.3l-1.3 1.3l-1.3 -1.3zM433.9 276.7l1.3 1.3l-1.3 1.3l-1.3 -1.3zM451.6 296.5l1.3 1.3l-1.3 1.3l-1.3 -1.3zM452.3 297.7l1.3 1.3l-1.3 1.3l-1.3 -1.3zM441.9 286.2l1.3 1.3l-1.3 1.3l-1.3 -1.3zM451.2 297.0l1.3 1.3l-1.3 1.3l-1.3 -1.3zM447.8 292.6l1.3 1.3l-1.3 1.3l-1.3 -1.3zM430.4 272.5l1.3 1.3l-1.3 1.3l-1.3 -1.3zM440.8 283.1l1.3 1.3l-1.3 1.3l-1.3 -1.3zM439.3 285.9l1.3 1.3l-1.3 1.3l-1.3 -1.3zM449.5 293.9l1.3 1.3l-1.3 1.3l-1.3 -1.3zM443.7 287.8l1.3 1.3l-1.3 1.3l-1.3 -1.3zM445.9 290.2l1.3 1.3l-1.3 1.3l-1.3 -1.3zM445.9 288.4l1.3 1.3l-1.3 1.3l-1.3 -1.3zM432.2 272.5l1.3 1.3l-1.3 1.3l-1.3 -1.3zM435.8 277.6l1.3 1.3l-1.3 1.3l-1.3 -1.3zM450.4 296.4l1.3 1.3l-1.3 1.3l-1.3 -1.3zM446.3 292.2l1.3 1.3l-1.3 1.3l-1.3 -1.3zM441.9 285.0l1.3 1.3l-1.3 1.3l-1.3 -1.3zM439.0 281.6l1.3 1.3l-1.3 1.3l-1.3 -1.3zM437.5 283.7l1.3 1.3l-1.3 1.3l-1.3 -1.3zM450.0 296.1l1.3 1.3l-1.3 1.3l-1.3 -1.3zM447.9 294.0l1.3 1.3l-1.3 1.3l-1.3 -1.3zM438.6 284.7l1.3 1.3l-1.3 1.3l-1.3 -1.3zM452.0 297.3l1.3 1.3l-1.3 1.3l-1.3 -1.3zM451.0 296.0l1.3 1.3l-1.3 1.3l-1.3 -1.3zM433.6 278.1l1.3 1.3l-1.3 1.3l-1.3 -1.3zM439.0 285.3l1.3 1.3l-1.3 1.3l-1.3 -1.3zM445.8 290.1l1.3 1.3l-1.3 1.3l-1.3 -1.3zM441.7 288.1l1.3 1.3l-1.3 1.3l-1.3 -1.3zM444.9 289.1l1.3 1.3l-1.3 1.3l-1.3 -1.3zM445.7 291.9l1.3 1.3l-1.3 1.3l-1.3 -1.3zM453.5 297.2l1.3 1.3l-1.3 1.3l-1.3 -1.3zM456.4 295.2l1.3 1.3l-1.3 1.3l-1.3 -1.3zM455.4 296.3l1.3 1.3l-1.3 1.3l-1.3 -1.3zM463.1 282.4l1.3 1.3l-1.3 1.3l-1.3 -1.3zM459.2 292.8l1.3 1.3l-1.3 1.3l-1.3 -1.3zM455.5 296.3l1.3 1.3l-1.3 1.3l-1.3 -1.3zM457.6 292.7l1.3 1.3l-1.3 1.3l-1.3 -1.3zM453.3 296.7l1.3 1.3l-1.3 1.3l-1.3 -1.3zM424.9 409.5l1.3 1.3l-1.3 1.3l-1.3 -1.3zM420.5 420.6l1.3 1.3l-1.3 1.3l-1.3 -1.3zM424.4 410.3l1.3 1.3l-1.3 1.3l-1.3 -1.3zM414.4 402.3l1.3 1.3l-1.3 1.3l-1.3 -1.3zM414.3 405.4l1.3 1.3l-1.3 1.3l-1.3 -1.3zM427.4 403.0l1.3 1.3l-1.3 1.3l-1.3 -1.3zM428.1 433.6l1.3 1.3l-1.3 1.3l-1.3 -1.3zM425.9 401.3l1.3 1.3l-1.3 1.3l-1.3 -1.3zM416.3 412.4l1.3 1.3l-1.3 1.3l-1.3 -1.3zM427.7 435.0l1.3 1.3l-1.3 1.3l-1.3 -1.3zM423.9 403.1l1.3 1.3l-1.3 1.3l-1.3 -1.3zM430.8 420.6l1.3 1.3l-1.3 1.3l-1.3 -1.3zM415.3 404.5l1.3 1.3l-1.3 1.3l-1.3 -1.3zM415.3 405.5l1.3 1.3l-1.3 1.3l-1.3 -1.3zM420.1 424.0l1.3 1.3l-1.3 1.3l-1.3 -1.3zM430.3 429.8l1.3 1.3l-1.3 1.3l-1.3 -1.3zM431.7 434.4l1.3 1.3l-1.3 1.3l-1.3 -1.3zM433.3 429.4l1.3 1.3l-1.3 1.3l-1.3 -1.3zM425.3 430.8l1.3 1.3l-1.3 1.3l-1.3 -1.3zM429.6 426.1l1.3 1.3l-1.3 1.3l-1.3 -1.3zM425.5 407.7l1.3 1.3l-1.3 1.3l-1.3 -1.3zM425.1 410.0l1.3 1.3l-1.3 1.3l-1.3 -1.3zM422.0 416.7l1.3 1.3l-1.3 1.3l-1.3 -1.3zM435.0 429.1l1.3 1.3l-1.3 1.3l-1.3 -1.3zM429.2 421.3l1.3 1.3l-1.3 1.3l-1.3 -1.3zM428.4 432.9l1.3 1.3l-1.3 1.3l-1.3 -1.3zM427.9 431.8l1.3 1.3l-1.3 1.3l-1.3 -1.3zM419.0 410.3l1.3 1.3l-1.3 1.3l-1.3 -1.3zM395.9 371.2l1.3 1.3l-1.3 1.3l-1.3 -1.3zM406.7 384.3l1.3 1.3l-1.3 1.3l-1.3 -1.3zM400.9 378.8l1.3 1.3l-1.3 1.3l-1.3 -1.3zM409.9 370.5l1.3 1.3l-1.3 1.3l-1.3 -1.3zM390.5 365.4l1.3 1.3l-1.3 1.3l-1.3 -1.3zM403.6 379.7l1.3 1.3l-1.3 1.3l-1.3 -1.3zM397.0 376.0l1.3 1.3l-1.3 1.3l-1.3 -1.3zM400.2 369.1l1.3 1.3l-1.3 1.3l-1.3 -1.3zM385.7 359.7l1.3 1.3l-1.3 1.3l-1.3 -1.3zM407.7 382.8l1.3 1.3l-1.3 1.3l-1.3 -1.3zM442.3 444.7l1.3 1.3l-1.3 1.3l-1.3 -1.3zM442.8 451.6l1.3 1.3l-1.3 1.3l-1.3 -1.3zM427.8 429.6l1.3 1.3l-1.3 1.3l-1.3 -1.3zM451.7 458.3l1.3 1.3l-1.3 1.3l-1.3 -1.3zM441.0 449.3l1.3 1.3l-1.3 1.3l-1.3 -1.3zM445.6 446.5l1.3 1.3l-1.3 1.3l-1.3 -1.3zM445.8 447.4l1.3 1.3l-1.3 1.3l-1.3 -1.3zM451.2 458.5l1.3 1.3l-1.3 1.3l-1.3 -1.3zM443.4 447.7l1.3 1.3l-1.3 1.3l-1.3 -1.3zM444.6 450.9l1.3 1.3l-1.3 1.3l-1.3 -1.3zM435.8 439.7l1.3 1.3l-1.3 1.3l-1.3 -1.3zM441.4 448.1l1.3 1.3l-1.3 1.3l-1.3 -1.3zM442.9 450.2l1.3 1.3l-1.3 1.3l-1.3 -1.3zM449.2 455.6l1.3 1.3l-1.3 1.3l-1.3 -1.3zM445.8 449.9l1.3 1.3l-1.3 1.3l-1.3 -1.3zM444.9 455.0l1.3 1.3l-1.3 1.3l-1.3 -1.3zM433.0 441.5l1.3 1.3l-1.3 1.3l-1.3 -1.3zM450.0 458.6l1.3 1.3l-1.3 1.3l-1.3 -1.3zM447.8 453.1l1.3 1.3l-1.3 1.3l-1.3 -1.3zM438.5 440.6l1.3 1.3l-1.3 1.3l-1.3 -1.3zM446.7 450.1l1.3 1.3l-1.3 1.3l-1.3 -1.3zM450.3 457.6l1.3 1.3l-1.3 1.3l-1.3 -1.3zM438.3 438.5l1.3 1.3l-1.3 1.3l-1.3 -1.3zM443.7 447.2l1.3 1.3l-1.3 1.3l-1.3 -1.3zM423.1 432.7l1.3 1.3l-1.3 1.3l-1.3 -1.3zM451.7 459.1l1.3 1.3l-1.3 1.3l-1.3 -1.3zM444.2 444.4l1.3 1.3l-1.3 1.3l-1.3 -1.3zM448.4 453.3l1.3 1.3l-1.3 1.3l-1.3 -1.3zM448.5 458.1l1.3 1.3l-1.3 1.3l-1.3 -1.3zM446.4 453.5l1.3 1.3l-1.3 1.3l-1.3 -1.3zM430.7 440.6l1.3 1.3l-1.3 1.3l-1.3 -1.3zM446.2 446.1l1.3 1.3l-1.3 1.3l-1.3 -1.3zM446.6 454.7l1.3 1.3l-1.3 1.3l-1.3 -1.3zM439.7 431.0l1.3 1.3l-1.3 1.3l-1.3 -1.3zM446.4 452.0l1.3 1.3l-1.3 1.3l-1.3 -1.3zM444.2 452.3l1.3 1.3l-1.3 1.3l-1.3 -1.3zM450.5 458.7l1.3 1.3l-1.3 1.3l-1.3 -1.3zM440.3 448.1l1.3 1.3l-1.3 1.3l-1.3 -1.3zM452.0 460.0l1.3 1.3l-1.3 1.3l-1.3 -1.3zM429.9 427.1l1.3 1.3l-1.3 1.3l-1.3 -1.3zM452.4 459.3l1.3 1.3l-1.3 1.3l-1.3 -1.3zM445.7 455.9l1.3 1.3l-1.3 1.3l-1.3 -1.3zM443.6 452.7l1.3 1.3l-1.3 1.3l-1.3 -1.3zM447.0 455.2l1.3 1.3l-1.3 1.3l-1.3 -1.3zM427.7 433.0l1.3 1.3l-1.3 1.3l-1.3 -1.3zM424.1 426.5l1.3 1.3l-1.3 1.3l-1.3 -1.3zM451.5 460.3l1.3 1.3l-1.3 1.3l-1.3 -1.3zM435.3 442.1l1.3 1.3l-1.3 1.3l-1.3 -1.3zM433.2 423.2l1.3 1.3l-1.3 1.3l-1.3 -1.3zM441.7 448.2l1.3 1.3l-1.3 1.3l-1.3 -1.3zM440.7 449.9l1.3 1.3l-1.3 1.3l-1.3 -1.3zM429.6 425.3l1.3 1.3l-1.3 1.3l-1.3 -1.3zM431.6 440.8l1.3 1.3l-1.3 1.3l-1.3 -1.3zM430.6 439.8l1.3 1.3l-1.3 1.3l-1.3 -1.3zM443.3 445.5l1.3 1.3l-1.3 1.3l-1.3 -1.3zM435.3 443.4l1.3 1.3l-1.3 1.3l-1.3 -1.3zM439.8 437.7l1.3 1.3l-1.3 1.3l-1.3 -1.3zM448.5 454.6l1.3 1.3l-1.3 1.3l-1.3 -1.3zM442.0 443.7l1.3 1.3l-1.3 1.3l-1.3 -1.3zM444.5 452.5l1.3 1.3l-1.3 1.3l-1.3 -1.3zM426.5 439.7l1.3 1.3l-1.3 1.3l-1.3 -1.3zM452.7 460.9l1.3 1.3l-1.3 1.3l-1.3 -1.3zM452.5 460.8l1.3 1.3l-1.3 1.3l-1.3 -1.3zM441.3 452.3l1.3 1.3l-1.3 1.3l-1.3 -1.3zM448.2 457.8l1.3 1.3l-1.3 1.3l-1.3 -1.3zM447.0 455.3l1.3 1.3l-1.3 1.3l-1.3 -1.3zM420.7 429.5l1.3 1.3l-1.3 1.3l-1.3 -1.3zM451.2 457.2l1.3 1.3l-1.3 1.3l-1.3 -1.3zM449.9 458.8l1.3 1.3l-1.3 1.3l-1.3 -1.3zM448.2 458.0l1.3 1.3l-1.3 1.3l-1.3 -1.3zM447.7 454.5l1.3 1.3l-1.3 1.3l-1.3 -1.3zM432.9 433.6l1.3 1.3l-1.3 1.3l-1.3 -1.3zM448.9 456.1l1.3 1.3l-1.3 1.3l-1.3 -1.3zM448.7 455.5l1.3 1.3l-1.3 1.3l-1.3 -1.3zM440.0 449.7l1.3 1.3l-1.3 1.3l-1.3 -1.3zM447.7 456.7l1.3 1.3l-1.3 1.3l-1.3 -1.3zM436.8 446.0l1.3 1.3l-1.3 1.3l-1.3 -1.3zM449.7 455.8l1.3 1.3l-1.3 1.3l-1.3 -1.3zM450.6 456.9l1.3 1.3l-1.3 1.3l-1.3 -1.3zM442.8 450.5l1.3 1.3l-1.3 1.3l-1.3 -1.3zM444.0 450.3l1.3 1.3l-1.3 1.3l-1.3 -1.3zM438.9 431.8l1.3 1.3l-1.3 1.3l-1.3 -1.3zM450.8 457.8l1.3 1.3l-1.3 1.3l-1.3 -1.3zM448.8 458.0l1.3 1.3l-1.3 1.3l-1.3 -1.3zM431.1 440.7l1.3 1.3l-1.3 1.3l-1.3 -1.3zM451.8 458.6l1.3 1.3l-1.3 1.3l-1.3 -1.3zM447.1 454.8l1.3 1.3l-1.3 1.3l-1.3 -1.3zM448.3 450.8l1.3 1.3l-1.3 1.3l-1.3 -1.3zM442.3 452.1l1.3 1.3l-1.3 1.3l-1.3 -1.3zM448.2 457.0l1.3 1.3l-1.3 1.3l-1.3 -1.3zM449.7 456.0l1.3 1.3l-1.3 1.3l-1.3 -1.3zM435.9 446.8l1.3 1.3l-1.3 1.3l-1.3 -1.3zM437.9 446.4l1.3 1.3l-1.3 1.3l-1.3 -1.3zM446.7 451.3l1.3 1.3l-1.3 1.3l-1.3 -1.3zM439.9 443.7l1.3 1.3l-1.3 1.3l-1.3 -1.3zM447.4 450.8l1.3 1.3l-1.3 1.3l-1.3 -1.3zM443.6 447.5l1.3 1.3l-1.3 1.3l-1.3 -1.3zM452.2 459.3l1.3 1.3l-1.3 1.3l-1.3 -1.3zM438.2 448.6l1.3 1.3l-1.3 1.3l-1.3 -1.3zM433.7 441.4l1.3 1.3l-1.3 1.3l-1.3 -1.3zM450.3 456.7l1.3 1.3l-1.3 1.3l-1.3 -1.3zM449.7 456.6l1.3 1.3l-1.3 1.3l-1.3 -1.3zM446.9 456.4l1.3 1.3l-1.3 1.3l-1.3 -1.3zM438.1 445.7l1.3 1.3l-1.3 1.3l-1.3 -1.3zM430.5 423.2l1.3 1.3l-1.3 1.3l-1.3 -1.3zM448.9 455.9l1.3 1.3l-1.3 1.3l-1.3 -1.3zM448.3 450.5l1.3 1.3l-1.3 1.3l-1.3 -1.3zM441.0 439.8l1.3 1.3l-1.3 1.3l-1.3 -1.3zM443.6 447.1l1.3 1.3l-1.3 1.3l-1.3 -1.3zM437.2 448.5l1.3 1.3l-1.3 1.3l-1.3 -1.3zM449.1 453.3l1.3 1.3l-1.3 1.3l-1.3 -1.3zM446.2 454.9l1.3 1.3l-1.3 1.3l-1.3 -1.3zM451.5 459.3l1.3 1.3l-1.3 1.3l-1.3 -1.3zM450.9 457.7l1.3 1.3l-1.3 1.3l-1.3 -1.3zM447.6 453.0l1.3 1.3l-1.3 1.3l-1.3 -1.3zM450.0 457.0l1.3 1.3l-1.3 1.3l-1.3 -1.3zM447.4 454.0l1.3 1.3l-1.3 1.3l-1.3 -1.3zM445.4 450.3l1.3 1.3l-1.3 1.3l-1.3 -1.3zM451.8 460.9l1.3 1.3l-1.3 1.3l-1.3 -1.3zM452.1 460.2l1.3 1.3l-1.3 1.3l-1.3 -1.3zM439.3 444.6l1.3 1.3l-1.3 1.3l-1.3 -1.3zM430.2 438.5l1.3 1.3l-1.3 1.3l-1.3 -1.3zM449.8 458.7l1.3 1.3l-1.3 1.3l-1.3 -1.3zM449.4 458.1l1.3 1.3l-1.3 1.3l-1.3 -1.3zM443.3 443.3l1.3 1.3l-1.3 1.3l-1.3 -1.3zM445.8 455.6l1.3 1.3l-1.3 1.3l-1.3 -1.3zM449.0 458.4l1.3 1.3l-1.3 1.3l-1.3 -1.3zM441.6 441.1l1.3 1.3l-1.3 1.3l-1.3 -1.3zM431.9 435.7l1.3 1.3l-1.3 1.3l-1.3 -1.3zM443.0 451.9l1.3 1.3l-1.3 1.3l-1.3 -1.3zM439.6 432.1l1.3 1.3l-1.3 1.3l-1.3 -1.3zM447.2 454.4l1.3 1.3l-1.3 1.3l-1.3 -1.3zM436.0 447.7l1.3 1.3l-1.3 1.3l-1.3 -1.3zM425.1 435.2l1.3 1.3l-1.3 1.3l-1.3 -1.3zM440.7 442.4l1.3 1.3l-1.3 1.3l-1.3 -1.3zM448.3 455.4l1.3 1.3l-1.3 1.3l-1.3 -1.3zM449.4 455.5l1.3 1.3l-1.3 1.3l-1.3 -1.3zM449.2 455.9l1.3 1.3l-1.3 1.3l-1.3 -1.3zM449.4 456.9l1.3 1.3l-1.3 1.3l-1.3 -1.3zM437.6 434.7l1.3 1.3l-1.3 1.3l-1.3 -1.3zM439.2 439.3l1.3 1.3l-1.3 1.3l-1.3 -1.3zM444.1 451.7l1.3 1.3l-1.3 1.3l-1.3 -1.3zM437.2 445.5l1.3 1.3l-1.3 1.3l-1.3 -1.3zM449.5 457.7l1.3 1.3l-1.3 1.3l-1.3 -1.3zM431.8 424.4l1.3 1.3l-1.3 1.3l-1.3 -1.3zM443.4 451.3l1.3 1.3l-1.3 1.3l-1.3 -1.3zM445.8 445.0l1.3 1.3l-1.3 1.3l-1.3 -1.3zM449.0 457.3l1.3 1.3l-1.3 1.3l-1.3 -1.3zM429.4 438.5l1.3 1.3l-1.3 1.3l-1.3 -1.3zM441.1 442.9l1.3 1.3l-1.3 1.3l-1.3 -1.3zM456.6 456.3l1.3 1.3l-1.3 1.3l-1.3 -1.3zM462.1 455.2l1.3 1.3l-1.3 1.3l-1.3 -1.3zM467.8 449.0l1.3 1.3l-1.3 1.3l-1.3 -1.3zM459.2 456.4l1.3 1.3l-1.3 1.3l-1.3 -1.3zM454.9 456.8l1.3 1.3l-1.3 1.3l-1.3 -1.3zM459.0 452.7l1.3 1.3l-1.3 1.3l-1.3 -1.3zM468.3 448.6l1.3 1.3l-1.3 1.3l-1.3 -1.3zM464.7 449.5l1.3 1.3l-1.3 1.3l-1.3 -1.3zM476.7 431.2l1.3 1.3l-1.3 1.3l-1.3 -1.3zM470.5 432.3l1.3 1.3l-1.3 1.3l-1.3 -1.3zM461.2 453.1l1.3 1.3l-1.3 1.3l-1.3 -1.3zM458.4 454.2l1.3 1.3l-1.3 1.3l-1.3 -1.3zM452.8 460.8l1.3 1.3l-1.3 1.3l-1.3 -1.3zM467.0 450.8l1.3 1.3l-1.3 1.3l-1.3 -1.3zM466.2 442.4l1.3 1.3l-1.3 1.3l-1.3 -1.3zM455.3 457.6l1.3 1.3l-1.3 1.3l-1.3 -1.3zM464.1 454.0l1.3 1.3l-1.3 1.3l-1.3 -1.3zM457.3 453.8l1.3 1.3l-1.3 1.3l-1.3 -1.3zM464.0 442.2l1.3 1.3l-1.3 1.3l-1.3 -1.3zM467.6 441.7l1.3 1.3l-1.3 1.3l-1.3 -1.3zM453.2 460.6l1.3 1.3l-1.3 1.3l-1.3 -1.3zM466.8 441.1l1.3 1.3l-1.3 1.3l-1.3 -1.3zM458.7 456.6l1.3 1.3l-1.3 1.3l-1.3 -1.3zM458.3 450.4l1.3 1.3l-1.3 1.3l-1.3 -1.3zM459.0 449.4l1.3 1.3l-1.3 1.3l-1.3 -1.3zM454.9 459.3l1.3 1.3l-1.3 1.3l-1.3 -1.3zM471.8 431.4l1.3 1.3l-1.3 1.3l-1.3 -1.3zM455.2 456.7l1.3 1.3l-1.3 1.3l-1.3 -1.3zM459.8 455.5l1.3 1.3l-1.3 1.3l-1.3 -1.3zM463.0 451.8l1.3 1.3l-1.3 1.3l-1.3 -1.3zM459.5 449.7l1.3 1.3l-1.3 1.3l-1.3 -1.3zM457.4 456.3l1.3 1.3l-1.3 1.3l-1.3 -1.3zM463.8 440.0l1.3 1.3l-1.3 1.3l-1.3 -1.3zM465.0 448.7l1.3 1.3l-1.3 1.3l-1.3 -1.3zM454.1 459.6l1.3 1.3l-1.3 1.3l-1.3 -1.3zM457.7 455.4l1.3 1.3l-1.3 1.3l-1.3 -1.3zM460.7 447.8l1.3 1.3l-1.3 1.3l-1.3 -1.3zM465.7 450.2l1.3 1.3l-1.3 1.3l-1.3 -1.3zM453.5 460.5l1.3 1.3l-1.3 1.3l-1.3 -1.3zM464.3 441.1l1.3 1.3l-1.3 1.3l-1.3 -1.3zM466.7 438.8l1.3 1.3l-1.3 1.3l-1.3 -1.3zM455.2 458.5l1.3 1.3l-1.3 1.3l-1.3 -1.3zM476.4 431.2l1.3 1.3l-1.3 1.3l-1.3 -1.3zM461.0 445.0l1.3 1.3l-1.3 1.3l-1.3 -1.3zM476.9 435.1l1.3 1.3l-1.3 1.3l-1.3 -1.3zM454.4 460.3l1.3 1.3l-1.3 1.3l-1.3 -1.3zM465.6 448.7l1.3 1.3l-1.3 1.3l-1.3 -1.3zM459.9 455.8l1.3 1.3l-1.3 1.3l-1.3 -1.3zM461.8 445.8l1.3 1.3l-1.3 1.3l-1.3 -1.3zM464.6 446.2l1.3 1.3l-1.3 1.3l-1.3 -1.3zM458.7 456.9l1.3 1.3l-1.3 1.3l-1.3 -1.3zM468.8 448.7l1.3 1.3l-1.3 1.3l-1.3 -1.3zM455.4 459.1l1.3 1.3l-1.3 1.3l-1.3 -1.3zM461.5 445.8l1.3 1.3l-1.3 1.3l-1.3 -1.3zM453.4 460.1l1.3 1.3l-1.3 1.3l-1.3 -1.3zM460.3 450.2l1.3 1.3l-1.3 1.3l-1.3 -1.3zM462.1 450.5l1.3 1.3l-1.3 1.3l-1.3 -1.3zM455.9 459.4l1.3 1.3l-1.3 1.3l-1.3 -1.3zM458.5 457.1l1.3 1.3l-1.3 1.3l-1.3 -1.3zM462.5 453.8l1.3 1.3l-1.3 1.3l-1.3 -1.3zM467.5 450.5l1.3 1.3l-1.3 1.3l-1.3 -1.3zM460.4 456.3l1.3 1.3l-1.3 1.3l-1.3 -1.3zM455.5 457.8l1.3 1.3l-1.3 1.3l-1.3 -1.3zM465.1 444.5l1.3 1.3l-1.3 1.3l-1.3 -1.3zM465.8 450.6l1.3 1.3l-1.3 1.3l-1.3 -1.3zM460.5 449.8l1.3 1.3l-1.3 1.3l-1.3 -1.3zM454.9 456.7l1.3 1.3l-1.3 1.3l-1.3 -1.3zM461.1 445.1l1.3 1.3l-1.3 1.3l-1.3 -1.3zM453.2 459.8l1.3 1.3l-1.3 1.3l-1.3 -1.3zM476.1 435.8l1.3 1.3l-1.3 1.3l-1.3 -1.3zM459.1 459.7l1.3 1.3l-1.3 1.3l-1.3 -1.3zM456.3 459.6l1.3 1.3l-1.3 1.3l-1.3 -1.3zM451.8 461.2l1.3 1.3l-1.3 1.3l-1.3 -1.3zM450.2 455.9l1.3 1.3l-1.3 1.3l-1.3 -1.3zM454.2 459.7l1.3 1.3l-1.3 1.3l-1.3 -1.3zM461.2 459.9l1.3 1.3l-1.3 1.3l-1.3 -1.3zM448.7 458.7l1.3 1.3l-1.3 1.3l-1.3 -1.3zM447.8 458.3l1.3 1.3l-1.3 1.3l-1.3 -1.3zM448.5 460.3l1.3 1.3l-1.3 1.3l-1.3 -1.3zM446.2 459.9l1.3 1.3l-1.3 1.3l-1.3 -1.3zM449.3 460.5l1.3 1.3l-1.3 1.3l-1.3 -1.3zM452.5 457.2l1.3 1.3l-1.3 1.3l-1.3 -1.3zM451.9 457.7l1.3 1.3l-1.3 1.3l-1.3 -1.3zM453.9 457.3l1.3 1.3l-1.3 1.3l-1.3 -1.3zM444.5 460.4l1.3 1.3l-1.3 1.3l-1.3 -1.3zM454.2 458.6l1.3 1.3l-1.3 1.3l-1.3 -1.3zM448.6 458.5l1.3 1.3l-1.3 1.3l-1.3 -1.3zM449.5 458.4l1.3 1.3l-1.3 1.3l-1.3 -1.3zM454.7 459.7l1.3 1.3l-1.3 1.3l-1.3 -1.3zM448.8 460.5l1.3 1.3l-1.3 1.3l-1.3 -1.3zM476.9 428.0l1.3 1.3l-1.3 1.3l-1.3 -1.3zM489.1 393.1l1.3 1.3l-1.3 1.3l-1.3 -1.3zM472.9 430.0l1.3 1.3l-1.3 1.3l-1.3 -1.3zM479.0 419.7l1.3 1.3l-1.3 1.3l-1.3 -1.3z" fill="#3b72b3" stroke="#2a5585" stroke-width="0.25"/>
<path d="M414.1 234.9l1.35 2.4h-2.7zM425.7 253.5l1.35 2.4h-2.7zM401.1 221.6l1.35 2.4h-2.7zM414.0 247.7l1.35 2.4h-2.7zM402.5 226.6l1.35 2.4h-2.7zM423.1 252.4l1.35 2.4h-2.7zM407.3 236.8l1.35 2.4h-2.7zM393.8 202.1l1.35 2.4h-2.7zM404.9 225.8l1.35 2.4h-2.7zM407.8 226.7l1.35 2.4h-2.7zM438.6 282.1l1.35 2.4h-2.7zM436.1 277.8l1.35 2.4h-2.7zM437.7 282.6l1.35 2.4h-2.7zM441.8 287.1l1.35 2.4h-2.7zM439.1 281.6l1.35 2.4h-2.7zM447.6 293.1l1.35 2.4h-2.7zM430.9 268.4l1.35 2.4h-2.7zM441.4 285.1l1.35 2.4h-2.7zM417.4 392.5l1.35 2.4h-2.7zM414.4 393.8l1.35 2.4h-2.7zM419.8 399.0l1.35 2.4h-2.7zM429.6 422.3l1.35 2.4h-2.7zM426.5 422.4l1.35 2.4h-2.7zM410.5 399.0l1.35 2.4h-2.7zM434.3 427.5l1.35 2.4h-2.7zM418.2 414.8l1.35 2.4h-2.7zM436.7 445.8l1.35 2.4h-2.7zM445.6 453.1l1.35 2.4h-2.7zM448.6 456.5l1.35 2.4h-2.7zM445.3 446.0l1.35 2.4h-2.7zM439.6 439.5l1.35 2.4h-2.7zM443.1 453.2l1.35 2.4h-2.7zM429.8 442.5l1.35 2.4h-2.7zM436.4 439.2l1.35 2.4h-2.7zM451.8 458.6l1.35 2.4h-2.7zM440.3 438.4l1.35 2.4h-2.7zM433.0 433.1l1.35 2.4h-2.7zM446.3 449.4l1.35 2.4h-2.7zM444.6 455.0l1.35 2.4h-2.7zM446.8 452.8l1.35 2.4h-2.7zM438.2 448.9l1.35 2.4h-2.7zM448.8 455.8l1.35 2.4h-2.7zM446.1 451.8l1.35 2.4h-2.7zM435.3 436.4l1.35 2.4h-2.7zM448.2 456.2l1.35 2.4h-2.7zM445.2 449.5l1.35 2.4h-2.7zM450.9 458.1l1.35 2.4h-2.7zM443.7 443.4l1.35 2.4h-2.7zM435.4 447.2l1.35 2.4h-2.7zM442.1 450.1l1.35 2.4h-2.7zM448.7 456.6l1.35 2.4h-2.7zM443.6 445.8l1.35 2.4h-2.7zM444.0 453.4l1.35 2.4h-2.7zM448.3 451.0l1.35 2.4h-2.7zM435.4 446.8l1.35 2.4h-2.7zM441.1 445.7l1.35 2.4h-2.7zM460.0 450.0l1.35 2.4h-2.7zM464.2 453.0l1.35 2.4h-2.7zM454.6 459.0l1.35 2.4h-2.7zM462.8 454.0l1.35 2.4h-2.7zM467.2 440.7l1.35 2.4h-2.7zM456.9 458.5l1.35 2.4h-2.7zM464.0 445.4l1.35 2.4h-2.7zM463.5 447.1l1.35 2.4h-2.7zM466.9 448.5l1.35 2.4h-2.7zM461.0 455.4l1.35 2.4h-2.7zM454.7 459.5l1.35 2.4h-2.7zM459.6 455.9l1.35 2.4h-2.7zM457.5 456.9l1.35 2.4h-2.7zM453.0 460.7l1.35 2.4h-2.7zM470.3 440.0l1.35 2.4h-2.7zM459.7 451.5l1.35 2.4h-2.7zM455.5 460.1l1.35 2.4h-2.7zM450.7 459.2l1.35 2.4h-2.7zM453.7 459.7l1.35 2.4h-2.7zM459.8 458.2l1.35 2.4h-2.7zM449.1 458.4l1.35 2.4h-2.7zM446.1 459.1l1.35 2.4h-2.7z" fill="#f2d860" stroke="#8a7a3a" stroke-width="0.25"/>
<path d="M368.1 17.0H509.5V142.6H368.1Z" stroke="#2a2a2a" stroke-width="1.2" fill="none"/><path d="M365.4 17.0H368.1M365.4 37.0H368.1M365.4 57.0H368.1M365.4 77.0H368.1M365.4 97.0H368.1M365.4 117.0H368.1M365.4 137.0H368.1M368.1 142.6V145.2M396.3 142.6V145.2M424.5 142.6V145.2M452.8 142.6V145.2M481.0 142.6V145.2M509.2 142.6V145.2" stroke="#2a2a2a" stroke-width="1" fill="none"/><text x="350.17" y="19.7" font-size="7.6" textLength="7.90" lengthAdjust="spacingAndGlyphs" fill="#231f20">10</text><text x="358.33" y="16.4" font-size="4.4" textLength="5.41" lengthAdjust="spacingAndGlyphs" fill="#231f20">-6</text><text x="350.17" y="39.7" font-size="7.6" textLength="7.90" lengthAdjust="spacingAndGlyphs" fill="#231f20">10</text><text x="358.33" y="36.4" font-size="4.4" textLength="5.41" lengthAdjust="spacingAndGlyphs" fill="#231f20">-5</text><text x="350.17" y="59.7" font-size="7.6" textLength="7.90" lengthAdjust="spacingAndGlyphs" fill="#231f20">10</text><text x="358.33" y="56.4" font-size="4.4" textLength="5.35" lengthAdjust="spacingAndGlyphs" fill="#231f20">-4</text><text x="350.17" y="79.7" font-size="7.6" textLength="7.90" lengthAdjust="spacingAndGlyphs" fill="#231f20">10</text><text x="358.33" y="76.4" font-size="4.4" textLength="5.41" lengthAdjust="spacingAndGlyphs" fill="#231f20">-3</text><text x="350.17" y="99.7" font-size="7.6" textLength="7.90" lengthAdjust="spacingAndGlyphs" fill="#231f20">10</text><text x="358.32" y="96.4" font-size="4.4" textLength="5.48" lengthAdjust="spacingAndGlyphs" fill="#231f20">-2</text><text x="350.17" y="119.7" font-size="7.6" textLength="7.90" lengthAdjust="spacingAndGlyphs" fill="#231f20">10</text><text x="358.32" y="116.4" font-size="4.4" textLength="5.45" lengthAdjust="spacingAndGlyphs" fill="#231f20">-1</text><text x="350.17" y="139.7" font-size="7.6" textLength="7.90" lengthAdjust="spacingAndGlyphs" fill="#231f20">10</text><text x="359.07" y="136.4" font-size="4.4" textLength="3.13" lengthAdjust="spacingAndGlyphs" fill="#231f20">0</text><text x="364.32" y="155.5" font-size="8.0" textLength="7.51" lengthAdjust="spacingAndGlyphs" fill="#231f20">-6</text><text x="392.54" y="155.5" font-size="8.0" textLength="7.42" lengthAdjust="spacingAndGlyphs" fill="#231f20">-4</text><text x="420.76" y="155.5" font-size="8.0" textLength="7.61" lengthAdjust="spacingAndGlyphs" fill="#231f20">-2</text><text x="450.77" y="155.5" font-size="8.0" textLength="4.75" lengthAdjust="spacingAndGlyphs" fill="#231f20">0</text><text x="478.88" y="155.5" font-size="8.0" textLength="5.01" lengthAdjust="spacingAndGlyphs" fill="#231f20">2</text><text x="507.39" y="155.5" font-size="8.0" textLength="4.52" lengthAdjust="spacingAndGlyphs" fill="#231f20">4</text><text transform="translate(345.60 87.20) rotate(-90)" x="-0.64" y="0" font-size="9.6" textLength="16.51" lengthAdjust="spacingAndGlyphs" fill="#231f20">FDR</text><path d="M368.8 111.5H430.4M430.4 17.7V111.5" stroke="#6a6a6a" stroke-width="0.8" stroke-dasharray="3.2 1.8" fill="none"/>
<path d="M368.1 179.8H509.5V305.4H368.1Z" stroke="#2a2a2a" stroke-width="1.2" fill="none"/><path d="M365.4 179.8H368.1M365.4 199.8H368.1M365.4 219.8H368.1M365.4 239.8H368.1M365.4 259.8H368.1M365.4 279.8H368.1M365.4 299.8H368.1M368.1 305.4V308.0M396.3 305.4V308.0M424.5 305.4V308.0M452.8 305.4V308.0M481.0 305.4V308.0M509.2 305.4V308.0" stroke="#2a2a2a" stroke-width="1" fill="none"/><text x="350.17" y="182.5" font-size="7.6" textLength="7.90" lengthAdjust="spacingAndGlyphs" fill="#231f20">10</text><text x="358.33" y="179.2" font-size="4.4" textLength="5.41" lengthAdjust="spacingAndGlyphs" fill="#231f20">-6</text><text x="350.17" y="202.5" font-size="7.6" textLength="7.90" lengthAdjust="spacingAndGlyphs" fill="#231f20">10</text><text x="358.33" y="199.2" font-size="4.4" textLength="5.41" lengthAdjust="spacingAndGlyphs" fill="#231f20">-5</text><text x="350.17" y="222.5" font-size="7.6" textLength="7.90" lengthAdjust="spacingAndGlyphs" fill="#231f20">10</text><text x="358.33" y="219.2" font-size="4.4" textLength="5.35" lengthAdjust="spacingAndGlyphs" fill="#231f20">-4</text><text x="350.17" y="242.5" font-size="7.6" textLength="7.90" lengthAdjust="spacingAndGlyphs" fill="#231f20">10</text><text x="358.33" y="239.2" font-size="4.4" textLength="5.41" lengthAdjust="spacingAndGlyphs" fill="#231f20">-3</text><text x="350.17" y="262.5" font-size="7.6" textLength="7.90" lengthAdjust="spacingAndGlyphs" fill="#231f20">10</text><text x="358.32" y="259.2" font-size="4.4" textLength="5.48" lengthAdjust="spacingAndGlyphs" fill="#231f20">-2</text><text x="350.17" y="282.5" font-size="7.6" textLength="7.90" lengthAdjust="spacingAndGlyphs" fill="#231f20">10</text><text x="358.32" y="279.2" font-size="4.4" textLength="5.45" lengthAdjust="spacingAndGlyphs" fill="#231f20">-1</text><text x="350.17" y="302.5" font-size="7.6" textLength="7.90" lengthAdjust="spacingAndGlyphs" fill="#231f20">10</text><text x="359.07" y="299.2" font-size="4.4" textLength="3.13" lengthAdjust="spacingAndGlyphs" fill="#231f20">0</text><text x="364.32" y="318.3" font-size="8.0" textLength="7.51" lengthAdjust="spacingAndGlyphs" fill="#231f20">-6</text><text x="392.54" y="318.3" font-size="8.0" textLength="7.42" lengthAdjust="spacingAndGlyphs" fill="#231f20">-4</text><text x="420.76" y="318.3" font-size="8.0" textLength="7.61" lengthAdjust="spacingAndGlyphs" fill="#231f20">-2</text><text x="450.77" y="318.3" font-size="8.0" textLength="4.75" lengthAdjust="spacingAndGlyphs" fill="#231f20">0</text><text x="478.88" y="318.3" font-size="8.0" textLength="5.01" lengthAdjust="spacingAndGlyphs" fill="#231f20">2</text><text x="507.39" y="318.3" font-size="8.0" textLength="4.52" lengthAdjust="spacingAndGlyphs" fill="#231f20">4</text><text transform="translate(345.60 250.00) rotate(-90)" x="-0.64" y="0" font-size="9.6" textLength="16.51" lengthAdjust="spacingAndGlyphs" fill="#231f20">FDR</text><path d="M368.8 274.3H430.4M430.4 180.5V274.3" stroke="#6a6a6a" stroke-width="0.8" stroke-dasharray="3.2 1.8" fill="none"/>
<path d="M368.1 342.5H509.5V468.1H368.1Z" stroke="#2a2a2a" stroke-width="1.2" fill="none"/><path d="M365.4 342.5H368.1M365.4 362.5H368.1M365.4 382.5H368.1M365.4 402.5H368.1M365.4 422.5H368.1M365.4 442.5H368.1M365.4 462.5H368.1M368.1 468.1V470.7M396.3 468.1V470.7M424.5 468.1V470.7M452.8 468.1V470.7M481.0 468.1V470.7M509.2 468.1V470.7" stroke="#2a2a2a" stroke-width="1" fill="none"/><text x="350.17" y="345.2" font-size="7.6" textLength="7.90" lengthAdjust="spacingAndGlyphs" fill="#231f20">10</text><text x="358.33" y="341.9" font-size="4.4" textLength="5.41" lengthAdjust="spacingAndGlyphs" fill="#231f20">-6</text><text x="350.17" y="365.2" font-size="7.6" textLength="7.90" lengthAdjust="spacingAndGlyphs" fill="#231f20">10</text><text x="358.33" y="361.9" font-size="4.4" textLength="5.41" lengthAdjust="spacingAndGlyphs" fill="#231f20">-5</text><text x="350.17" y="385.2" font-size="7.6" textLength="7.90" lengthAdjust="spacingAndGlyphs" fill="#231f20">10</text><text x="358.33" y="381.9" font-size="4.4" textLength="5.35" lengthAdjust="spacingAndGlyphs" fill="#231f20">-4</text><text x="350.17" y="405.2" font-size="7.6" textLength="7.90" lengthAdjust="spacingAndGlyphs" fill="#231f20">10</text><text x="358.33" y="401.9" font-size="4.4" textLength="5.41" lengthAdjust="spacingAndGlyphs" fill="#231f20">-3</text><text x="350.17" y="425.2" font-size="7.6" textLength="7.90" lengthAdjust="spacingAndGlyphs" fill="#231f20">10</text><text x="358.32" y="421.9" font-size="4.4" textLength="5.48" lengthAdjust="spacingAndGlyphs" fill="#231f20">-2</text><text x="350.17" y="445.2" font-size="7.6" textLength="7.90" lengthAdjust="spacingAndGlyphs" fill="#231f20">10</text><text x="358.32" y="441.9" font-size="4.4" textLength="5.45" lengthAdjust="spacingAndGlyphs" fill="#231f20">-1</text><text x="350.17" y="465.2" font-size="7.6" textLength="7.90" lengthAdjust="spacingAndGlyphs" fill="#231f20">10</text><text x="359.07" y="461.9" font-size="4.4" textLength="3.13" lengthAdjust="spacingAndGlyphs" fill="#231f20">0</text><text x="364.32" y="481.0" font-size="8.0" textLength="7.51" lengthAdjust="spacingAndGlyphs" fill="#231f20">-6</text><text x="392.54" y="481.0" font-size="8.0" textLength="7.42" lengthAdjust="spacingAndGlyphs" fill="#231f20">-4</text><text x="420.76" y="481.0" font-size="8.0" textLength="7.61" lengthAdjust="spacingAndGlyphs" fill="#231f20">-2</text><text x="450.77" y="481.0" font-size="8.0" textLength="4.75" lengthAdjust="spacingAndGlyphs" fill="#231f20">0</text><text x="478.88" y="481.0" font-size="8.0" textLength="5.01" lengthAdjust="spacingAndGlyphs" fill="#231f20">2</text><text x="507.39" y="481.0" font-size="8.0" textLength="4.52" lengthAdjust="spacingAndGlyphs" fill="#231f20">4</text><text transform="translate(345.60 412.70) rotate(-90)" x="-0.64" y="0" font-size="9.6" textLength="16.51" lengthAdjust="spacingAndGlyphs" fill="#231f20">FDR</text><path d="M368.8 437.0H430.4M430.4 343.2V437.0" stroke="#6a6a6a" stroke-width="0.8" stroke-dasharray="3.2 1.8" fill="none"/>
<text x="370.24" y="79.3" font-size="7.0" textLength="16.12" lengthAdjust="spacingAndGlyphs" fill="#231f20">2212</text>
<text x="370.30" y="88.2" font-size="7.0" textLength="28.39" lengthAdjust="spacingAndGlyphs" fill="#231f20">depleted</text>
<text x="370.14" y="97.4" font-size="7.0" textLength="18.69" lengthAdjust="spacingAndGlyphs" fill="#231f20">peaks</text>
<text x="370.19" y="106.5" font-size="7.0" textLength="40.45" lengthAdjust="spacingAndGlyphs" fill="#231f20">(1414 genes)</text>
<text x="370.05" y="129.9" font-size="7.0" textLength="51.89" lengthAdjust="spacingAndGlyphs" fill="#231f20">6651 total peaks</text>
<text x="369.98" y="138.8" font-size="7.0" textLength="40.85" lengthAdjust="spacingAndGlyphs" fill="#231f20">(3533 genes)</text>
<text x="484.72" y="26.9" font-size="7.0" textLength="16.69" lengthAdjust="spacingAndGlyphs" fill="#231f20">n = 3</text>
<text x="410.07" y="26.9" font-size="7.0" textLength="15.64" lengthAdjust="spacingAndGlyphs" fill="#231f20">Vapa</text>
<text x="445.83" y="52.3" font-size="7.0" textLength="20.83" lengthAdjust="spacingAndGlyphs" fill="#231f20">Ywhaz</text>
<text x="444.06" y="72.6" font-size="7.0" textLength="20.06" lengthAdjust="spacingAndGlyphs" fill="#231f20">Cab39</text>
<path d="M399.8 38.6L411.9 30.1M414.4 59.5L441.9 51.0M423.8 72.9L440 71.4" stroke="#333" stroke-width="0.8" fill="none"/>
<path d="M397 38.2L399.2 40.4L397 42.6L394.8 40.4Z" fill="#f2d146" stroke="#8a7a30" stroke-width="0.4"/>
<path d="M411.9 57.6L414.4 62.4L409.4 62.4Z" fill="#3d78c0" stroke="#2a4f80" stroke-width="0.4"/>
<rect x="420.3" y="72.0" width="3.8" height="3.6" fill="#c46a28" stroke="#7a3f12" stroke-width="0.4"/>
<rect x="444.9" y="192.3" width="3.6" height="3.6" fill="#b85a22" stroke="#6e3512" stroke-width="0.4"/>
<path d="M447.6 202.5L450.6 205.5L447.6 208.5L444.6 205.5Z" fill="#3b72b3" stroke="#24466e" stroke-width="0.4"/>
<path d="M447.9 214.9L451.1 219.6L444.7 219.6Z" fill="#f4d65c" stroke="#6b5d22" stroke-width="0.5"/>
<text x="452.65" y="195.8" font-size="7.0" textLength="25.95" lengthAdjust="spacingAndGlyphs" fill="#231f20">miR-451</text>
<text x="452.63" y="207.6" font-size="7.0" textLength="37.45" lengthAdjust="spacingAndGlyphs" fill="#231f20">miR-144-3p</text>
<text x="452.63" y="219.1" font-size="7.0" textLength="37.45" lengthAdjust="spacingAndGlyphs" fill="#231f20">miR-144-5p</text>
<rect x="442.2" y="354.4" width="3.6" height="3.6" fill="#b85a22" stroke="#6e3512" stroke-width="0.4"/>
<path d="M444.1 365.0L447.1 368.0L444.1 371.0L441.1 368.0Z" fill="#3b72b3" stroke="#24466e" stroke-width="0.4"/>
<path d="M444.2 376.6L447.4 381.3L441.0 381.3Z" fill="#f4d65c" stroke="#6b5d22" stroke-width="0.5"/>
<text x="449.55" y="358.2" font-size="7.0" textLength="40.44" lengthAdjust="spacingAndGlyphs" fill="#231f20">miR-486a-5p</text>
<text x="449.53" y="369.8" font-size="7.0" textLength="33.58" lengthAdjust="spacingAndGlyphs" fill="#231f20">miR-16-5p</text>
<text x="449.54" y="381.2" font-size="7.0" textLength="37.24" lengthAdjust="spacingAndGlyphs" fill="#231f20">miR-122-5p</text>
<text x="387.51" y="493.8" font-size="9.0" textLength="102.66" lengthAdjust="spacingAndGlyphs" fill="#231f20">Peak signal KO/WT (log 2)</text>
<rect x="0" y="0" width="520" height="1" fill="#080808"/><rect x="0" y="502" width="520" height="1" fill="#0a0a0a"/><rect x="0" y="0" width="1" height="503" fill="#454545"/><rect x="1" y="1" width="1" height="501" fill="#a8a8a8"/><rect x="518" y="1" width="1" height="501" fill="#9a9a9a"/><rect x="519" y="0" width="1" height="503" fill="#4a4a4a"/>
</svg>
</body></html>
